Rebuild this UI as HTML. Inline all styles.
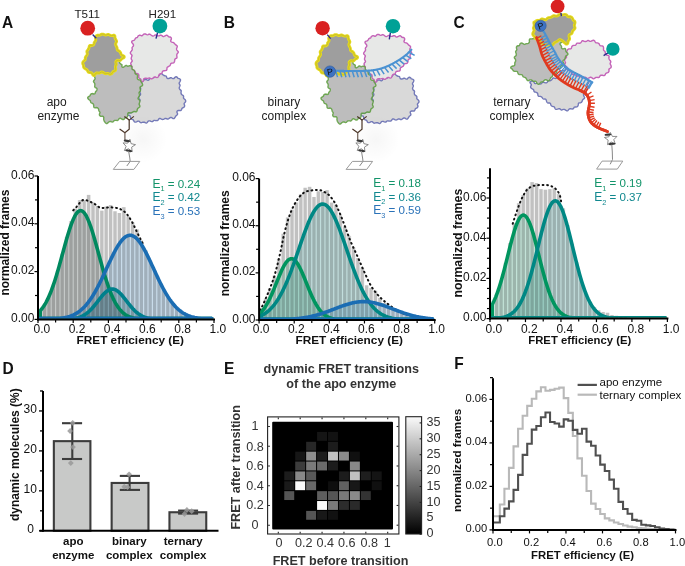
<!DOCTYPE html>
<html><head><meta charset="utf-8"><style>
html,body{margin:0;padding:0;background:#fff;}
svg{display:block;font-family:"Liberation Sans", sans-serif;}
</style></head><body>
<svg width="685" height="566" viewBox="0 0 685 566" style="isolation:isolate">
<rect width="685" height="566" fill="#fff"/>
<defs><clipPath id="Aclip"><rect x="39" y="171" width="176" height="147.4"/></clipPath></defs>
<rect x="38" y="310.7" width="4.4" height="8.7" fill="#eeeeee"/>
<rect x="38.6" y="310.7" width="3.2" height="8.7" fill="#c1c1c1"/>
<rect x="42.4" y="304.72" width="4.4" height="14.68" fill="#eeeeee"/>
<rect x="43" y="304.72" width="3.2" height="14.68" fill="#c1c1c1"/>
<rect x="46.8" y="296.07" width="4.4" height="23.33" fill="#eeeeee"/>
<rect x="47.4" y="296.07" width="3.2" height="23.33" fill="#c1c1c1"/>
<rect x="51.2" y="284.47" width="4.4" height="34.93" fill="#eeeeee"/>
<rect x="51.8" y="284.47" width="3.2" height="34.93" fill="#c1c1c1"/>
<rect x="55.6" y="270.09" width="4.4" height="49.31" fill="#eeeeee"/>
<rect x="56.2" y="270.09" width="3.2" height="49.31" fill="#c1c1c1"/>
<rect x="60" y="253.73" width="4.4" height="65.67" fill="#eeeeee"/>
<rect x="60.6" y="253.73" width="3.2" height="65.67" fill="#c1c1c1"/>
<rect x="64.4" y="236.83" width="4.4" height="82.57" fill="#eeeeee"/>
<rect x="65" y="236.83" width="3.2" height="82.57" fill="#c1c1c1"/>
<rect x="68.8" y="221.17" width="4.4" height="98.23" fill="#eeeeee"/>
<rect x="69.4" y="221.17" width="3.2" height="98.23" fill="#c1c1c1"/>
<rect x="73.2" y="208.53" width="4.4" height="110.87" fill="#eeeeee"/>
<rect x="73.8" y="208.53" width="3.2" height="110.87" fill="#c1c1c1"/>
<rect x="77.6" y="200.09" width="4.4" height="119.31" fill="#eeeeee"/>
<rect x="78.2" y="200.09" width="3.2" height="119.31" fill="#c1c1c1"/>
<rect x="82" y="200.2" width="4.4" height="119.2" fill="#eeeeee"/>
<rect x="82.6" y="200.2" width="3.2" height="119.2" fill="#c1c1c1"/>
<rect x="86.4" y="194.9" width="4.4" height="124.5" fill="#eeeeee"/>
<rect x="87" y="194.9" width="3.2" height="124.5" fill="#c1c1c1"/>
<rect x="90.8" y="202.5" width="4.4" height="116.9" fill="#eeeeee"/>
<rect x="91.4" y="202.5" width="3.2" height="116.9" fill="#c1c1c1"/>
<rect x="95.2" y="206" width="4.4" height="113.4" fill="#eeeeee"/>
<rect x="95.8" y="206" width="3.2" height="113.4" fill="#c1c1c1"/>
<rect x="99.6" y="210.7" width="4.4" height="108.7" fill="#eeeeee"/>
<rect x="100.2" y="210.7" width="3.2" height="108.7" fill="#c1c1c1"/>
<rect x="104" y="206.6" width="4.4" height="112.8" fill="#eeeeee"/>
<rect x="104.6" y="206.6" width="3.2" height="112.8" fill="#c1c1c1"/>
<rect x="108.4" y="205.1" width="4.4" height="114.3" fill="#eeeeee"/>
<rect x="109" y="205.1" width="3.2" height="114.3" fill="#c1c1c1"/>
<rect x="112.8" y="211.3" width="4.4" height="108.1" fill="#eeeeee"/>
<rect x="113.4" y="211.3" width="3.2" height="108.1" fill="#c1c1c1"/>
<rect x="117.2" y="213" width="4.4" height="106.4" fill="#eeeeee"/>
<rect x="117.8" y="213" width="3.2" height="106.4" fill="#c1c1c1"/>
<rect x="121.6" y="207.2" width="4.4" height="112.2" fill="#eeeeee"/>
<rect x="122.2" y="207.2" width="3.2" height="112.2" fill="#c1c1c1"/>
<rect x="126" y="216.5" width="4.4" height="102.9" fill="#eeeeee"/>
<rect x="126.6" y="216.5" width="3.2" height="102.9" fill="#c1c1c1"/>
<rect x="130.4" y="222.4" width="4.4" height="97" fill="#eeeeee"/>
<rect x="131" y="222.4" width="3.2" height="97" fill="#c1c1c1"/>
<rect x="134.8" y="229.4" width="4.4" height="90" fill="#eeeeee"/>
<rect x="135.4" y="229.4" width="3.2" height="90" fill="#c1c1c1"/>
<rect x="139.2" y="240.49" width="4.4" height="78.91" fill="#eeeeee"/>
<rect x="139.8" y="240.49" width="3.2" height="78.91" fill="#c1c1c1"/>
<rect x="143.6" y="250.26" width="4.4" height="69.14" fill="#eeeeee"/>
<rect x="144.2" y="250.26" width="3.2" height="69.14" fill="#c1c1c1"/>
<rect x="148" y="260.38" width="4.4" height="59.02" fill="#eeeeee"/>
<rect x="148.6" y="260.38" width="3.2" height="59.02" fill="#c1c1c1"/>
<rect x="152.4" y="270.47" width="4.4" height="48.93" fill="#eeeeee"/>
<rect x="153" y="270.47" width="3.2" height="48.93" fill="#c1c1c1"/>
<rect x="156.8" y="280.1" width="4.4" height="39.3" fill="#eeeeee"/>
<rect x="157.4" y="280.1" width="3.2" height="39.3" fill="#c1c1c1"/>
<rect x="161.2" y="288.86" width="4.4" height="30.54" fill="#eeeeee"/>
<rect x="161.8" y="288.86" width="3.2" height="30.54" fill="#c1c1c1"/>
<rect x="165.6" y="296.47" width="4.4" height="22.93" fill="#eeeeee"/>
<rect x="166.2" y="296.47" width="3.2" height="22.93" fill="#c1c1c1"/>
<rect x="170" y="302.77" width="4.4" height="16.63" fill="#eeeeee"/>
<rect x="170.6" y="302.77" width="3.2" height="16.63" fill="#c1c1c1"/>
<rect x="174.4" y="307.75" width="4.4" height="11.65" fill="#eeeeee"/>
<rect x="175" y="307.75" width="3.2" height="11.65" fill="#c1c1c1"/>
<rect x="178.8" y="311.53" width="4.4" height="7.87" fill="#eeeeee"/>
<rect x="179.4" y="311.53" width="3.2" height="7.87" fill="#c1c1c1"/>
<rect x="183.2" y="314.26" width="4.4" height="5.14" fill="#eeeeee"/>
<rect x="183.8" y="314.26" width="3.2" height="5.14" fill="#c1c1c1"/>
<rect x="187.6" y="316.16" width="4.4" height="3.24" fill="#eeeeee"/>
<rect x="188.2" y="316.16" width="3.2" height="3.24" fill="#c1c1c1"/>
<rect x="192" y="317.43" width="4.4" height="1.97" fill="#eeeeee"/>
<rect x="192.6" y="317.43" width="3.2" height="1.97" fill="#c1c1c1"/>
<rect x="196.4" y="318.25" width="4.4" height="1.15" fill="#eeeeee"/>
<rect x="197" y="318.25" width="3.2" height="1.15" fill="#c1c1c1"/>
<rect x="200.8" y="318.75" width="4.4" height="0.65" fill="#eeeeee"/>
<rect x="201.4" y="318.75" width="3.2" height="0.65" fill="#c1c1c1"/>
<rect x="205.2" y="319.04" width="4.4" height="0.36" fill="#eeeeee"/>
<rect x="205.8" y="319.04" width="3.2" height="0.36" fill="#c1c1c1"/>
<rect x="209.6" y="319.21" width="4.4" height="0.19" fill="#eeeeee"/>
<rect x="210.2" y="319.21" width="3.2" height="0.19" fill="#c1c1c1"/>
<path d="M38,319.4 L38,312.88 L38.88,312.09 L39.76,311.21 L40.64,310.26 L41.52,309.22 L42.4,308.09 L43.28,306.86 L44.16,305.53 L45.04,304.1 L45.92,302.56 L46.8,300.91 L47.68,299.14 L48.56,297.27 L49.44,295.27 L50.32,293.16 L51.2,290.93 L52.08,288.59 L52.96,286.14 L53.84,283.57 L54.72,280.91 L55.6,278.14 L56.48,275.28 L57.36,272.33 L58.24,269.31 L59.12,266.22 L60,263.08 L60.88,259.89 L61.76,256.67 L62.64,253.44 L63.52,250.21 L64.4,247 L65.28,243.82 L66.16,240.68 L67.04,237.62 L67.92,234.64 L68.8,231.76 L69.68,229 L70.56,226.38 L71.44,223.91 L72.32,221.61 L73.2,219.49 L74.08,217.58 L74.96,215.88 L75.84,214.4 L76.72,213.16 L77.6,212.15 L78.48,211.4 L79.36,210.91 L80.24,210.68 L81.12,210.7 L82,210.99 L82.88,211.53 L83.76,212.34 L84.64,213.38 L85.52,214.68 L86.4,216.2 L87.28,217.95 L88.16,219.9 L89.04,222.05 L89.92,224.39 L90.8,226.89 L91.68,229.54 L92.56,232.32 L93.44,235.22 L94.32,238.22 L95.2,241.3 L96.08,244.45 L96.96,247.64 L97.84,250.86 L98.72,254.09 L99.6,257.32 L100.48,260.53 L101.36,263.71 L102.24,266.84 L103.12,269.92 L104,272.93 L104.88,275.86 L105.76,278.7 L106.64,281.45 L107.52,284.1 L108.4,286.64 L109.28,289.07 L110.16,291.39 L111.04,293.59 L111.92,295.68 L112.8,297.65 L113.68,299.51 L114.56,301.25 L115.44,302.87 L116.32,304.39 L117.2,305.8 L118.08,307.11 L118.96,308.32 L119.84,309.43 L120.72,310.46 L121.6,311.4 L122.48,312.25 L123.36,313.03 L124.24,313.74 L125.12,314.38 L126,314.96 L126.88,315.48 L127.76,315.95 L128.64,316.37 L129.52,316.75 L130.4,317.08 L131.28,317.38 L132.16,317.64 L133.04,317.88 L133.92,318.08 L134.8,318.26 L135.68,318.42 L136.56,318.56 L137.44,318.68 L138.32,318.78 L139.2,318.87 L140.08,318.95 L140.96,319.02 L141.84,319.08 L142.72,319.13 L143.6,319.17 L144.48,319.21 L145.36,319.24 L146.24,319.26 L147.12,319.29 L148,319.31 L148.88,319.32 L149.76,319.34 L150.64,319.35 L151.52,319.36 L152.4,319.36 L153.28,319.37 L154.16,319.38 L155.04,319.38 L155.92,319.38 L156.8,319.39 L157.68,319.39 L158.56,319.39 L159.44,319.39 L160.32,319.39 L161.2,319.4 L162.08,319.4 L162.96,319.4 L163.84,319.4 L164.72,319.4 L165.6,319.4 L166.48,319.4 L167.36,319.4 L168.24,319.4 L169.12,319.4 L170,319.4 L170.88,319.4 L171.76,319.4 L172.64,319.4 L173.52,319.4 L174.4,319.4 L175.28,319.4 L176.16,319.4 L177.04,319.4 L177.92,319.4 L178.8,319.4 L179.68,319.4 L180.56,319.4 L181.44,319.4 L182.32,319.4 L183.2,319.4 L184.08,319.4 L184.96,319.4 L185.84,319.4 L186.72,319.4 L187.6,319.4 L188.48,319.4 L189.36,319.4 L190.24,319.4 L191.12,319.4 L192,319.4 L192.88,319.4 L193.76,319.4 L194.64,319.4 L195.52,319.4 L196.4,319.4 L197.28,319.4 L198.16,319.4 L199.04,319.4 L199.92,319.4 L200.8,319.4 L201.68,319.4 L202.56,319.4 L203.44,319.4 L204.32,319.4 L205.2,319.4 L206.08,319.4 L206.96,319.4 L207.84,319.4 L208.72,319.4 L209.6,319.4 L210.48,319.4 L211.36,319.4 L212.24,319.4 L213.12,319.4 L214,319.4 L214,319.4 Z" fill="#cfd3d2" style="mix-blend-mode:multiply"/>
<path d="M38,319.4 L38,319.4 L38.88,319.4 L39.76,319.4 L40.64,319.4 L41.52,319.4 L42.4,319.4 L43.28,319.4 L44.16,319.4 L45.04,319.4 L45.92,319.4 L46.8,319.4 L47.68,319.4 L48.56,319.4 L49.44,319.4 L50.32,319.4 L51.2,319.4 L52.08,319.4 L52.96,319.39 L53.84,319.39 L54.72,319.39 L55.6,319.39 L56.48,319.39 L57.36,319.38 L58.24,319.38 L59.12,319.37 L60,319.36 L60.88,319.35 L61.76,319.34 L62.64,319.33 L63.52,319.31 L64.4,319.29 L65.28,319.27 L66.16,319.24 L67.04,319.2 L67.92,319.16 L68.8,319.11 L69.68,319.05 L70.56,318.98 L71.44,318.9 L72.32,318.8 L73.2,318.69 L74.08,318.56 L74.96,318.41 L75.84,318.24 L76.72,318.05 L77.6,317.82 L78.48,317.57 L79.36,317.29 L80.24,316.97 L81.12,316.61 L82,316.22 L82.88,315.78 L83.76,315.29 L84.64,314.76 L85.52,314.18 L86.4,313.55 L87.28,312.87 L88.16,312.14 L89.04,311.36 L89.92,310.52 L90.8,309.64 L91.68,308.71 L92.56,307.73 L93.44,306.72 L94.32,305.66 L95.2,304.58 L96.08,303.48 L96.96,302.35 L97.84,301.22 L98.72,300.08 L99.6,298.95 L100.48,297.84 L101.36,296.75 L102.24,295.7 L103.12,294.7 L104,293.75 L104.88,292.86 L105.76,292.05 L106.64,291.33 L107.52,290.69 L108.4,290.15 L109.28,289.71 L110.16,289.38 L111.04,289.16 L111.92,289.06 L112.8,289.07 L113.68,289.19 L114.56,289.44 L115.44,289.79 L116.32,290.25 L117.2,290.81 L118.08,291.46 L118.96,292.21 L119.84,293.04 L120.72,293.93 L121.6,294.9 L122.48,295.91 L123.36,296.97 L124.24,298.06 L125.12,299.18 L126,300.31 L126.88,301.44 L127.76,302.58 L128.64,303.7 L129.52,304.8 L130.4,305.88 L131.28,306.92 L132.16,307.93 L133.04,308.9 L133.92,309.82 L134.8,310.69 L135.68,311.52 L136.56,312.29 L137.44,313.01 L138.32,313.68 L139.2,314.3 L140.08,314.87 L140.96,315.39 L141.84,315.87 L142.72,316.3 L143.6,316.69 L144.48,317.04 L145.36,317.35 L146.24,317.62 L147.12,317.87 L148,318.09 L148.88,318.28 L149.76,318.44 L150.64,318.59 L151.52,318.71 L152.4,318.82 L153.28,318.92 L154.16,318.99 L155.04,319.06 L155.92,319.12 L156.8,319.17 L157.68,319.21 L158.56,319.24 L159.44,319.27 L160.32,319.3 L161.2,319.32 L162.08,319.33 L162.96,319.35 L163.84,319.36 L164.72,319.37 L165.6,319.37 L166.48,319.38 L167.36,319.38 L168.24,319.39 L169.12,319.39 L170,319.39 L170.88,319.39 L171.76,319.39 L172.64,319.4 L173.52,319.4 L174.4,319.4 L175.28,319.4 L176.16,319.4 L177.04,319.4 L177.92,319.4 L178.8,319.4 L179.68,319.4 L180.56,319.4 L181.44,319.4 L182.32,319.4 L183.2,319.4 L184.08,319.4 L184.96,319.4 L185.84,319.4 L186.72,319.4 L187.6,319.4 L188.48,319.4 L189.36,319.4 L190.24,319.4 L191.12,319.4 L192,319.4 L192.88,319.4 L193.76,319.4 L194.64,319.4 L195.52,319.4 L196.4,319.4 L197.28,319.4 L198.16,319.4 L199.04,319.4 L199.92,319.4 L200.8,319.4 L201.68,319.4 L202.56,319.4 L203.44,319.4 L204.32,319.4 L205.2,319.4 L206.08,319.4 L206.96,319.4 L207.84,319.4 L208.72,319.4 L209.6,319.4 L210.48,319.4 L211.36,319.4 L212.24,319.4 L213.12,319.4 L214,319.4 L214,319.4 Z" fill="#c3dde0" style="mix-blend-mode:multiply"/>
<path d="M38,319.4 L38,319.36 L38.88,319.36 L39.76,319.35 L40.64,319.34 L41.52,319.33 L42.4,319.32 L43.28,319.31 L44.16,319.3 L45.04,319.28 L45.92,319.27 L46.8,319.25 L47.68,319.23 L48.56,319.2 L49.44,319.18 L50.32,319.15 L51.2,319.11 L52.08,319.07 L52.96,319.03 L53.84,318.98 L54.72,318.93 L55.6,318.86 L56.48,318.8 L57.36,318.72 L58.24,318.64 L59.12,318.55 L60,318.44 L60.88,318.33 L61.76,318.21 L62.64,318.07 L63.52,317.92 L64.4,317.75 L65.28,317.57 L66.16,317.37 L67.04,317.15 L67.92,316.92 L68.8,316.66 L69.68,316.38 L70.56,316.07 L71.44,315.74 L72.32,315.38 L73.2,314.99 L74.08,314.57 L74.96,314.12 L75.84,313.64 L76.72,313.12 L77.6,312.56 L78.48,311.97 L79.36,311.33 L80.24,310.65 L81.12,309.93 L82,309.17 L82.88,308.35 L83.76,307.49 L84.64,306.58 L85.52,305.62 L86.4,304.61 L87.28,303.55 L88.16,302.43 L89.04,301.27 L89.92,300.04 L90.8,298.77 L91.68,297.44 L92.56,296.07 L93.44,294.63 L94.32,293.15 L95.2,291.62 L96.08,290.05 L96.96,288.42 L97.84,286.75 L98.72,285.04 L99.6,283.3 L100.48,281.51 L101.36,279.7 L102.24,277.86 L103.12,275.99 L104,274.1 L104.88,272.2 L105.76,270.29 L106.64,268.37 L107.52,266.46 L108.4,264.54 L109.28,262.64 L110.16,260.76 L111.04,258.9 L111.92,257.07 L112.8,255.27 L113.68,253.52 L114.56,251.81 L115.44,250.16 L116.32,248.56 L117.2,247.04 L118.08,245.58 L118.96,244.2 L119.84,242.9 L120.72,241.69 L121.6,240.58 L122.48,239.56 L123.36,238.64 L124.24,237.82 L125.12,237.12 L126,236.52 L126.88,236.04 L127.76,235.67 L128.64,235.42 L129.52,235.29 L130.4,235.28 L131.28,235.39 L132.16,235.61 L133.04,235.96 L133.92,236.42 L134.8,236.99 L135.68,237.67 L136.56,238.47 L137.44,239.36 L138.32,240.36 L139.2,241.46 L140.08,242.65 L140.96,243.93 L141.84,245.3 L142.72,246.74 L143.6,248.25 L144.48,249.83 L145.36,251.48 L146.24,253.17 L147.12,254.92 L148,256.71 L148.88,258.53 L149.76,260.39 L150.64,262.27 L151.52,264.16 L152.4,266.07 L153.28,267.99 L154.16,269.91 L155.04,271.82 L155.92,273.73 L156.8,275.62 L157.68,277.49 L158.56,279.33 L159.44,281.15 L160.32,282.94 L161.2,284.7 L162.08,286.42 L162.96,288.09 L163.84,289.72 L164.72,291.31 L165.6,292.85 L166.48,294.34 L167.36,295.78 L168.24,297.17 L169.12,298.51 L170,299.79 L170.88,301.03 L171.76,302.2 L172.64,303.33 L173.52,304.4 L174.4,305.42 L175.28,306.39 L176.16,307.31 L177.04,308.18 L177.92,309.01 L178.8,309.78 L179.68,310.51 L180.56,311.2 L181.44,311.84 L182.32,312.45 L183.2,313.01 L184.08,313.54 L184.96,314.03 L185.84,314.49 L186.72,314.91 L187.6,315.3 L188.48,315.67 L189.36,316.01 L190.24,316.32 L191.12,316.6 L192,316.87 L192.88,317.11 L193.76,317.33 L194.64,317.53 L195.52,317.72 L196.4,317.89 L197.28,318.04 L198.16,318.18 L199.04,318.31 L199.92,318.42 L200.8,318.53 L201.68,318.62 L202.56,318.71 L203.44,318.78 L204.32,318.85 L205.2,318.91 L206.08,318.97 L206.96,319.02 L207.84,319.06 L208.72,319.1 L209.6,319.14 L210.48,319.17 L211.36,319.2 L212.24,319.22 L213.12,319.25 L214,319.26 L214,319.4 Z" fill="#d4e8f8" style="mix-blend-mode:multiply"/>
<polyline points="73.2,210.33 73.79,209.7 74.37,209.08 74.96,208.46 75.55,207.85 76.13,207.25 76.72,206.62 77.31,205.93 77.89,205.21 78.48,204.46 79.07,203.7 79.65,202.97 80.24,202.27 80.83,201.63 81.41,201.06 82,200.58 82.59,200.21 83.17,199.98 83.76,199.9 84.35,199.92 84.93,199.98 85.52,200.08 86.11,200.21 86.69,200.38 87.28,200.56 87.87,200.77 88.45,201 89.04,201.24 89.63,201.49 90.21,201.75 90.8,202.01 91.39,202.27 91.97,202.52 92.56,202.77 93.15,203.04 93.73,203.37 94.32,203.74 94.91,204.14 95.49,204.57 96.08,205.01 96.67,205.46 97.25,205.9 97.84,206.32 98.43,206.72 99.01,207.09 99.6,207.41 100.19,207.67 100.77,207.87 101.36,207.99 101.95,208.03 102.53,208.01 103.12,207.98 103.71,207.93 104.29,207.87 104.88,207.8 105.47,207.73 106.05,207.65 106.64,207.57 107.23,207.5 107.81,207.44 108.4,207.38 108.99,207.34 109.57,207.31 110.16,207.31 110.75,207.32 111.33,207.34 111.92,207.38 112.51,207.42 113.09,207.48 113.68,207.54 114.27,207.61 114.85,207.69 115.44,207.77 116.03,207.86 116.61,207.96 117.2,208.06 117.79,208.19 118.37,208.35 118.96,208.55 119.55,208.78 120.13,209.04 120.72,209.33 121.31,209.64 121.89,209.97 122.48,210.33 123.07,210.7 123.65,211.09 124.24,211.5 124.83,211.97 125.41,212.51 126,213.12 126.59,213.8 127.17,214.52 127.76,215.3 128.35,216.11 128.93,216.96 129.52,217.83 130.11,218.72 130.69,219.61 131.28,220.53 131.87,221.53 132.45,222.6 133.04,223.74 133.63,224.92 134.21,226.14 134.8,227.39 135.39,228.65 135.97,229.92 136.56,231.17 137.15,232.41 137.73,233.61 138.32,234.77 138.91,235.93 139.49,237.08 140.08,238.23 140.67,239.38 141.25,240.53 141.84,241.68 142.43,242.82 143.01,243.97 143.6,245.12" fill="none" stroke="#111" stroke-width="2.0" stroke-dasharray="0.8 3.7" stroke-linecap="round"/>
<polygon points="40.2,318.6 40.2,310.75 41.06,309.78 41.92,308.72 42.77,307.58 43.63,306.34 44.49,305 45.35,303.57 46.21,302.03 47.06,300.39 47.92,298.64 48.78,296.78 49.64,294.81 50.5,292.72 51.35,290.53 52.21,288.23 53.07,285.82 53.93,283.31 54.79,280.7 55.64,278 56.5,275.2 57.36,272.33 58.22,269.38 59.08,266.37 59.93,263.31 60.79,260.21 61.65,257.08 62.51,253.93 63.37,250.78 64.22,247.64 65.08,244.53 65.94,241.46 66.8,238.45 67.66,235.52 68.51,232.68 69.37,229.95 70.23,227.34 71.09,224.87 71.95,222.56 72.8,220.42 73.66,218.46 74.52,216.7 75.38,215.15 76.24,213.81 77.09,212.7 77.95,211.82 78.81,211.19 79.67,210.8 80.53,210.66 81.38,210.76 82.24,211.11 83.1,211.71 83.96,212.55 84.82,213.62 85.67,214.93 86.53,216.45 87.39,218.18 88.25,220.11 89.11,222.22 89.96,224.51 90.82,226.95 91.68,229.54 92.54,232.25 93.4,235.08 94.25,238 95.11,240.99 95.97,244.05 96.83,247.16 97.69,250.29 98.54,253.44 99.4,256.59 100.26,259.73 101.12,262.84 101.98,265.91 102.83,268.92 103.69,271.88 104.55,274.77 105.41,277.57 106.27,280.29 107.12,282.92 107.98,285.44 108.84,287.87 109.7,290.19 110.56,292.39 111.41,294.49 112.27,296.48 113.13,298.36 113.99,300.13 114.85,301.79 115.7,303.34 116.56,304.79 117.42,306.14 118.28,307.39 119.14,308.55 119.99,309.62 120.85,310.6 121.71,311.51 122.57,312.33 123.43,313.09 124.28,313.77 125.14,314.4 126,314.96 126.86,315.47 127.72,315.93 128.57,316.34 129.43,316.71 130.29,317.04 131.15,317.34 132.01,317.6 132.86,317.83 133.72,318.04 134.58,318.22 135.44,318.38 136.3,318.52 137.15,318.6 138.01,318.6 138.87,318.6 139.73,318.6 140.59,318.6 141.44,318.6 142.3,318.6 143.16,318.6 144.02,318.6 144.88,318.6 145.73,318.6 146.59,318.6 147.45,318.6 148.31,318.6 149.17,318.6 150.02,318.6 150.88,318.6 151.74,318.6 152.6,318.6 153.46,318.6 154.31,318.6 155.17,318.6 156.03,318.6 156.89,318.6 157.75,318.6 158.6,318.6 159.46,318.6 160.32,318.6 161.18,318.6 162.04,318.6 162.89,318.6 163.75,318.6 164.61,318.6 165.47,318.6 166.33,318.6 167.18,318.6 168.04,318.6 168.9,318.6 169.76,318.6 170.62,318.6 171.47,318.6 172.33,318.6 173.19,318.6 174.05,318.6 174.91,318.6 175.76,318.6 176.62,318.6 177.48,318.6 178.34,318.6 179.2,318.6 180.05,318.6 180.91,318.6 181.77,318.6 182.63,318.6 183.49,318.6 184.34,318.6 185.2,318.6 186.06,318.6 186.92,318.6 187.78,318.6 188.63,318.6 189.49,318.6 190.35,318.6 191.21,318.6 192.07,318.6 192.92,318.6 193.78,318.6 194.64,318.6 195.5,318.6 196.36,318.6 197.21,318.6 198.07,318.6 198.93,318.6 199.79,318.6 200.65,318.6 201.5,318.6 202.36,318.6 203.22,318.6 204.08,318.6 204.94,318.6 205.79,318.6 206.65,318.6 207.51,318.6 208.37,318.6 209.23,318.6 210.08,318.6 210.94,318.6 211.8,318.6 211.8,318.6" fill="none" stroke="#00895f" stroke-width="3.6" stroke-linejoin="round" clip-path="url(#Aclip)"/>
<polygon points="40.2,318.6 40.2,318.6 41.06,318.6 41.92,318.6 42.77,318.6 43.63,318.6 44.49,318.6 45.35,318.6 46.21,318.6 47.06,318.6 47.92,318.6 48.78,318.6 49.64,318.6 50.5,318.6 51.35,318.6 52.21,318.6 53.07,318.6 53.93,318.6 54.79,318.6 55.64,318.6 56.5,318.6 57.36,318.6 58.22,318.6 59.08,318.6 59.93,318.6 60.79,318.6 61.65,318.6 62.51,318.6 63.37,318.6 64.22,318.6 65.08,318.6 65.94,318.6 66.8,318.6 67.66,318.6 68.51,318.6 69.37,318.6 70.23,318.6 71.09,318.6 71.95,318.6 72.8,318.6 73.66,318.6 74.52,318.49 75.38,318.33 76.24,318.16 77.09,317.95 77.95,317.73 78.81,317.47 79.67,317.18 80.53,316.86 81.38,316.5 82.24,316.1 83.1,315.66 83.96,315.18 84.82,314.65 85.67,314.08 86.53,313.45 87.39,312.78 88.25,312.06 89.11,311.29 89.96,310.48 90.82,309.61 91.68,308.71 92.54,307.76 93.4,306.77 94.25,305.74 95.11,304.69 95.97,303.61 96.83,302.52 97.69,301.42 98.54,300.31 99.4,299.21 100.26,298.12 101.12,297.05 101.98,296.02 102.83,295.02 103.69,294.08 104.55,293.19 105.41,292.37 106.27,291.62 107.12,290.96 107.98,290.39 108.84,289.91 109.7,289.54 110.56,289.27 111.41,289.1 112.27,289.05 113.13,289.1 113.99,289.27 114.85,289.54 115.7,289.91 116.56,290.39 117.42,290.96 118.28,291.62 119.14,292.37 119.99,293.19 120.85,294.08 121.71,295.02 122.57,296.02 123.43,297.05 124.28,298.12 125.14,299.21 126,300.31 126.86,301.42 127.72,302.52 128.57,303.61 129.43,304.69 130.29,305.74 131.15,306.77 132.01,307.76 132.86,308.71 133.72,309.61 134.58,310.48 135.44,311.29 136.3,312.06 137.15,312.78 138.01,313.45 138.87,314.08 139.73,314.65 140.59,315.18 141.44,315.66 142.3,316.1 143.16,316.5 144.02,316.86 144.88,317.18 145.73,317.47 146.59,317.73 147.45,317.95 148.31,318.16 149.17,318.33 150.02,318.49 150.88,318.6 151.74,318.6 152.6,318.6 153.46,318.6 154.31,318.6 155.17,318.6 156.03,318.6 156.89,318.6 157.75,318.6 158.6,318.6 159.46,318.6 160.32,318.6 161.18,318.6 162.04,318.6 162.89,318.6 163.75,318.6 164.61,318.6 165.47,318.6 166.33,318.6 167.18,318.6 168.04,318.6 168.9,318.6 169.76,318.6 170.62,318.6 171.47,318.6 172.33,318.6 173.19,318.6 174.05,318.6 174.91,318.6 175.76,318.6 176.62,318.6 177.48,318.6 178.34,318.6 179.2,318.6 180.05,318.6 180.91,318.6 181.77,318.6 182.63,318.6 183.49,318.6 184.34,318.6 185.2,318.6 186.06,318.6 186.92,318.6 187.78,318.6 188.63,318.6 189.49,318.6 190.35,318.6 191.21,318.6 192.07,318.6 192.92,318.6 193.78,318.6 194.64,318.6 195.5,318.6 196.36,318.6 197.21,318.6 198.07,318.6 198.93,318.6 199.79,318.6 200.65,318.6 201.5,318.6 202.36,318.6 203.22,318.6 204.08,318.6 204.94,318.6 205.79,318.6 206.65,318.6 207.51,318.6 208.37,318.6 209.23,318.6 210.08,318.6 210.94,318.6 211.8,318.6 211.8,318.6" fill="none" stroke="#00808c" stroke-width="3.6" stroke-linejoin="round" clip-path="url(#Aclip)"/>
<polygon points="40.2,318.6 40.2,318.6 41.06,318.6 41.92,318.6 42.77,318.6 43.63,318.6 44.49,318.6 45.35,318.6 46.21,318.6 47.06,318.6 47.92,318.6 48.78,318.6 49.64,318.6 50.5,318.6 51.35,318.6 52.21,318.6 53.07,318.6 53.93,318.6 54.79,318.6 55.64,318.6 56.5,318.6 57.36,318.6 58.22,318.6 59.08,318.55 59.93,318.45 60.79,318.34 61.65,318.22 62.51,318.09 63.37,317.95 64.22,317.79 65.08,317.61 65.94,317.42 66.8,317.21 67.66,316.99 68.51,316.74 69.37,316.48 70.23,316.19 71.09,315.87 71.95,315.54 72.8,315.17 73.66,314.78 74.52,314.35 75.38,313.9 76.24,313.41 77.09,312.89 77.95,312.33 78.81,311.73 79.67,311.1 80.53,310.42 81.38,309.71 82.24,308.95 83.1,308.14 83.96,307.29 84.82,306.39 85.67,305.45 86.53,304.46 87.39,303.41 88.25,302.32 89.11,301.18 89.96,299.98 90.82,298.74 91.68,297.44 92.54,296.1 93.4,294.71 94.25,293.27 95.11,291.78 95.97,290.25 96.83,288.67 97.69,287.05 98.54,285.39 99.4,283.69 100.26,281.96 101.12,280.2 101.98,278.41 102.83,276.6 103.69,274.77 104.55,272.92 105.41,271.06 106.27,269.19 107.12,267.32 107.98,265.45 108.84,263.59 109.7,261.75 110.56,259.92 111.41,258.12 112.27,256.35 113.13,254.61 113.99,252.91 114.85,251.27 115.7,249.67 116.56,248.14 117.42,246.66 118.28,245.26 119.14,243.93 119.99,242.68 120.85,241.52 121.71,240.44 122.57,239.46 123.43,238.57 124.28,237.78 125.14,237.1 126,236.52 126.86,236.05 127.72,235.69 128.57,235.44 129.43,235.3 130.29,235.28 131.15,235.36 132.01,235.57 132.86,235.88 133.72,236.3 134.58,236.83 135.44,237.47 136.3,238.22 137.15,239.06 138.01,240 138.87,241.04 139.73,242.17 140.59,243.38 141.44,244.67 142.3,246.04 143.16,247.49 144.02,249 144.88,250.57 145.73,252.19 146.59,253.87 147.45,255.58 148.31,257.34 149.17,259.13 150.02,260.95 150.88,262.79 151.74,264.64 152.6,266.5 153.46,268.37 154.31,270.24 155.17,272.11 156.03,273.96 156.89,275.8 157.75,277.63 158.6,279.43 159.46,281.2 160.32,282.94 161.18,284.65 162.04,286.33 162.89,287.97 163.75,289.56 164.61,291.12 165.47,292.62 166.33,294.09 167.18,295.5 168.04,296.86 168.9,298.18 169.76,299.45 170.62,300.66 171.47,301.83 172.33,302.94 173.19,304.01 174.05,305.02 174.91,305.99 175.76,306.91 176.62,307.78 177.48,308.6 178.34,309.38 179.2,310.12 180.05,310.81 180.91,311.46 181.77,312.08 182.63,312.65 183.49,313.19 184.34,313.69 185.2,314.16 186.06,314.6 186.92,315 187.78,315.38 188.63,315.73 189.49,316.05 190.35,316.35 191.21,316.63 192.07,316.88 192.92,317.12 193.78,317.33 194.64,317.53 195.5,317.71 196.36,317.88 197.21,318.03 198.07,318.17 198.93,318.29 199.79,318.41 200.65,318.51 201.5,318.6 202.36,318.6 203.22,318.6 204.08,318.6 204.94,318.6 205.79,318.6 206.65,318.6 207.51,318.6 208.37,318.6 209.23,318.6 210.08,318.6 210.94,318.6 211.8,318.6 211.8,318.6" fill="none" stroke="#1b6db3" stroke-width="3.6" stroke-linejoin="round" clip-path="url(#Aclip)"/>
<line x1="38" y1="176" x2="38" y2="320.4" stroke="#000" stroke-width="2"/>
<line x1="37" y1="319.4" x2="215" y2="319.4" stroke="#000" stroke-width="2"/>
<line x1="34.5" y1="176" x2="38" y2="176" stroke="#000" stroke-width="1.2"/>
<line x1="35" y1="199.9" x2="38" y2="199.9" stroke="#000" stroke-width="1.2"/>
<line x1="34.5" y1="223.8" x2="38" y2="223.8" stroke="#000" stroke-width="1.2"/>
<line x1="35" y1="247.7" x2="38" y2="247.7" stroke="#000" stroke-width="1.2"/>
<line x1="34.5" y1="271.6" x2="38" y2="271.6" stroke="#000" stroke-width="1.2"/>
<line x1="35" y1="295.5" x2="38" y2="295.5" stroke="#000" stroke-width="1.2"/>
<line x1="34.5" y1="319.4" x2="38" y2="319.4" stroke="#000" stroke-width="1.2"/>
<line x1="38" y1="319.4" x2="38" y2="322.9" stroke="#000" stroke-width="1.2"/>
<line x1="55.6" y1="319.4" x2="55.6" y2="322.4" stroke="#000" stroke-width="1.2"/>
<line x1="73.2" y1="319.4" x2="73.2" y2="322.9" stroke="#000" stroke-width="1.2"/>
<line x1="90.8" y1="319.4" x2="90.8" y2="322.4" stroke="#000" stroke-width="1.2"/>
<line x1="108.4" y1="319.4" x2="108.4" y2="322.9" stroke="#000" stroke-width="1.2"/>
<line x1="126" y1="319.4" x2="126" y2="322.4" stroke="#000" stroke-width="1.2"/>
<line x1="143.6" y1="319.4" x2="143.6" y2="322.9" stroke="#000" stroke-width="1.2"/>
<line x1="161.2" y1="319.4" x2="161.2" y2="322.4" stroke="#000" stroke-width="1.2"/>
<line x1="178.8" y1="319.4" x2="178.8" y2="322.9" stroke="#000" stroke-width="1.2"/>
<line x1="196.4" y1="319.4" x2="196.4" y2="322.4" stroke="#000" stroke-width="1.2"/>
<line x1="214" y1="319.4" x2="214" y2="322.9" stroke="#000" stroke-width="1.2"/>
<text x="34.4" y="178.5" font-size="12" font-weight="normal" text-anchor="end" fill="#111" >0.06</text>
<text x="34.4" y="226.3" font-size="12" font-weight="normal" text-anchor="end" fill="#111" >0.04</text>
<text x="34.4" y="274.1" font-size="12" font-weight="normal" text-anchor="end" fill="#111" >0.02</text>
<text x="34.4" y="321.9" font-size="12" font-weight="normal" text-anchor="end" fill="#111" >0.00</text>
<text x="41.8" y="332.8" font-size="12" font-weight="normal" text-anchor="middle" fill="#111" >0.0</text>
<text x="77" y="332.8" font-size="12" font-weight="normal" text-anchor="middle" fill="#111" >0.2</text>
<text x="112.2" y="332.8" font-size="12" font-weight="normal" text-anchor="middle" fill="#111" >0.4</text>
<text x="147.4" y="332.8" font-size="12" font-weight="normal" text-anchor="middle" fill="#111" >0.6</text>
<text x="182.6" y="332.8" font-size="12" font-weight="normal" text-anchor="middle" fill="#111" >0.8</text>
<text x="217.8" y="332.8" font-size="12" font-weight="normal" text-anchor="middle" fill="#111" >1.0</text>
<text transform="translate(8.8,242.6) rotate(-90)" font-size="12" font-weight="bold" text-anchor="middle" fill="#111">normalized frames</text>
<text x="130.3" y="344.4" font-size="11.8" font-weight="bold" text-anchor="middle" fill="#111" >FRET efficiency (E)</text>
<text x="152.5" y="187.7" font-size="12" fill="#13946a">E<tspan font-size="7.4" dy="3.7">1</tspan><tspan dy="-3.7" dx="-0.2" font-size="11.6"> = 0.24</tspan></text>
<text x="152.5" y="201.4" font-size="12" fill="#11888f">E<tspan font-size="7.4" dy="3.7">2</tspan><tspan dy="-3.7" dx="-0.2" font-size="11.6"> = 0.42</tspan></text>
<text x="152.5" y="215.1" font-size="12" fill="#2a72b8">E<tspan font-size="7.4" dy="3.7">3</tspan><tspan dy="-3.7" dx="-0.2" font-size="11.6"> = 0.53</tspan></text>
<defs><clipPath id="Bclip"><rect x="260.1" y="173.6" width="175.6" height="145.4"/></clipPath></defs>
<rect x="259.1" y="307.98" width="4.39" height="12.02" fill="#eeeeee"/>
<rect x="259.7" y="307.98" width="3.19" height="12.02" fill="#c1c1c1"/>
<rect x="263.49" y="298.6" width="4.39" height="21.4" fill="#eeeeee"/>
<rect x="264.09" y="298.6" width="3.19" height="21.4" fill="#c1c1c1"/>
<rect x="267.88" y="287.98" width="4.39" height="32.02" fill="#eeeeee"/>
<rect x="268.48" y="287.98" width="3.19" height="32.02" fill="#c1c1c1"/>
<rect x="272.27" y="275.65" width="4.39" height="44.35" fill="#eeeeee"/>
<rect x="272.87" y="275.65" width="3.19" height="44.35" fill="#c1c1c1"/>
<rect x="276.66" y="258.74" width="4.39" height="61.26" fill="#eeeeee"/>
<rect x="277.26" y="258.74" width="3.19" height="61.26" fill="#c1c1c1"/>
<rect x="281.05" y="233.75" width="4.39" height="86.25" fill="#eeeeee"/>
<rect x="281.65" y="233.75" width="3.19" height="86.25" fill="#c1c1c1"/>
<rect x="285.44" y="217.49" width="4.39" height="102.52" fill="#eeeeee"/>
<rect x="286.04" y="217.49" width="3.19" height="102.52" fill="#c1c1c1"/>
<rect x="289.83" y="209.71" width="4.39" height="110.29" fill="#eeeeee"/>
<rect x="290.43" y="209.71" width="3.19" height="110.29" fill="#c1c1c1"/>
<rect x="294.22" y="202.64" width="4.39" height="117.36" fill="#eeeeee"/>
<rect x="294.82" y="202.64" width="3.19" height="117.36" fill="#c1c1c1"/>
<rect x="298.61" y="194.15" width="4.39" height="125.85" fill="#eeeeee"/>
<rect x="299.21" y="194.15" width="3.19" height="125.85" fill="#c1c1c1"/>
<rect x="303" y="187.79" width="4.39" height="132.21" fill="#eeeeee"/>
<rect x="303.6" y="187.79" width="3.19" height="132.21" fill="#c1c1c1"/>
<rect x="307.39" y="186.85" width="4.39" height="133.15" fill="#eeeeee"/>
<rect x="307.99" y="186.85" width="3.19" height="133.15" fill="#c1c1c1"/>
<rect x="311.78" y="196.98" width="4.39" height="123.02" fill="#eeeeee"/>
<rect x="312.38" y="196.98" width="3.19" height="123.02" fill="#c1c1c1"/>
<rect x="316.17" y="191.33" width="4.39" height="128.67" fill="#eeeeee"/>
<rect x="316.77" y="191.33" width="3.19" height="128.67" fill="#c1c1c1"/>
<rect x="320.56" y="192.03" width="4.39" height="127.97" fill="#eeeeee"/>
<rect x="321.16" y="192.03" width="3.19" height="127.97" fill="#c1c1c1"/>
<rect x="324.95" y="190.15" width="4.39" height="129.85" fill="#eeeeee"/>
<rect x="325.55" y="190.15" width="3.19" height="129.85" fill="#c1c1c1"/>
<rect x="329.34" y="202.64" width="4.39" height="117.36" fill="#eeeeee"/>
<rect x="329.94" y="202.64" width="3.19" height="117.36" fill="#c1c1c1"/>
<rect x="333.73" y="204.76" width="4.39" height="115.24" fill="#eeeeee"/>
<rect x="334.33" y="204.76" width="3.19" height="115.24" fill="#c1c1c1"/>
<rect x="338.12" y="215.36" width="4.39" height="104.64" fill="#eeeeee"/>
<rect x="338.72" y="215.36" width="3.19" height="104.64" fill="#c1c1c1"/>
<rect x="342.51" y="226.68" width="4.39" height="93.32" fill="#eeeeee"/>
<rect x="343.11" y="226.68" width="3.19" height="93.32" fill="#c1c1c1"/>
<rect x="346.9" y="235.87" width="4.39" height="84.13" fill="#eeeeee"/>
<rect x="347.5" y="235.87" width="3.19" height="84.13" fill="#c1c1c1"/>
<rect x="351.29" y="247.41" width="4.39" height="72.59" fill="#eeeeee"/>
<rect x="351.89" y="247.41" width="3.19" height="72.59" fill="#c1c1c1"/>
<rect x="355.68" y="258.02" width="4.39" height="61.98" fill="#eeeeee"/>
<rect x="356.28" y="258.02" width="3.19" height="61.98" fill="#c1c1c1"/>
<rect x="360.07" y="267.68" width="4.39" height="52.32" fill="#eeeeee"/>
<rect x="360.67" y="267.68" width="3.19" height="52.32" fill="#c1c1c1"/>
<rect x="364.46" y="285.36" width="4.39" height="34.64" fill="#eeeeee"/>
<rect x="365.06" y="285.36" width="3.19" height="34.64" fill="#c1c1c1"/>
<rect x="368.85" y="287.95" width="4.39" height="32.05" fill="#eeeeee"/>
<rect x="369.45" y="287.95" width="3.19" height="32.05" fill="#c1c1c1"/>
<rect x="373.24" y="290.78" width="4.39" height="29.22" fill="#eeeeee"/>
<rect x="373.84" y="290.78" width="3.19" height="29.22" fill="#c1c1c1"/>
<rect x="377.63" y="297.85" width="4.39" height="22.15" fill="#eeeeee"/>
<rect x="378.23" y="297.85" width="3.19" height="22.15" fill="#c1c1c1"/>
<rect x="382.02" y="303.03" width="4.39" height="16.97" fill="#eeeeee"/>
<rect x="382.62" y="303.03" width="3.19" height="16.97" fill="#c1c1c1"/>
<rect x="386.41" y="306.57" width="4.39" height="13.43" fill="#eeeeee"/>
<rect x="387.01" y="306.57" width="3.19" height="13.43" fill="#c1c1c1"/>
<rect x="390.8" y="309.39" width="4.39" height="10.61" fill="#eeeeee"/>
<rect x="391.4" y="309.39" width="3.19" height="10.61" fill="#c1c1c1"/>
<rect x="395.19" y="311.99" width="4.39" height="8.01" fill="#eeeeee"/>
<rect x="395.79" y="311.99" width="3.19" height="8.01" fill="#c1c1c1"/>
<rect x="399.58" y="313.64" width="4.39" height="6.36" fill="#eeeeee"/>
<rect x="400.18" y="313.64" width="3.19" height="6.36" fill="#c1c1c1"/>
<rect x="403.97" y="314.46" width="4.39" height="5.54" fill="#eeeeee"/>
<rect x="404.57" y="314.46" width="3.19" height="5.54" fill="#c1c1c1"/>
<rect x="408.36" y="315.77" width="4.39" height="4.23" fill="#eeeeee"/>
<rect x="408.96" y="315.77" width="3.19" height="4.23" fill="#c1c1c1"/>
<rect x="412.75" y="316.79" width="4.39" height="3.21" fill="#eeeeee"/>
<rect x="413.35" y="316.79" width="3.19" height="3.21" fill="#c1c1c1"/>
<rect x="417.14" y="317.51" width="4.39" height="2.49" fill="#eeeeee"/>
<rect x="417.74" y="317.51" width="3.19" height="2.49" fill="#c1c1c1"/>
<rect x="421.53" y="318.15" width="4.39" height="1.85" fill="#eeeeee"/>
<rect x="422.13" y="318.15" width="3.19" height="1.85" fill="#c1c1c1"/>
<rect x="425.92" y="318.67" width="4.39" height="1.33" fill="#eeeeee"/>
<rect x="426.52" y="318.67" width="3.19" height="1.33" fill="#c1c1c1"/>
<rect x="430.31" y="318.99" width="4.39" height="1.01" fill="#eeeeee"/>
<rect x="430.91" y="318.99" width="3.19" height="1.01" fill="#c1c1c1"/>
<path d="M259.1,320 L259.1,314.12 L259.98,313.33 L260.86,312.46 L261.73,311.51 L262.61,310.47 L263.49,309.35 L264.37,308.13 L265.25,306.82 L266.12,305.41 L267,303.91 L267.88,302.32 L268.76,300.63 L269.64,298.86 L270.51,297 L271.39,295.07 L272.27,293.07 L273.15,291.01 L274.03,288.9 L274.9,286.76 L275.78,284.58 L276.66,282.4 L277.54,280.22 L278.42,278.05 L279.29,275.93 L280.17,273.85 L281.05,271.84 L281.93,269.92 L282.81,268.11 L283.68,266.41 L284.56,264.85 L285.44,263.44 L286.32,262.19 L287.2,261.12 L288.07,260.24 L288.95,259.55 L289.83,259.07 L290.71,258.79 L291.59,258.73 L292.46,258.88 L293.34,259.24 L294.22,259.8 L295.1,260.57 L295.98,261.53 L296.85,262.67 L297.73,263.98 L298.61,265.46 L299.49,267.07 L300.37,268.82 L301.24,270.68 L302.12,272.64 L303,274.67 L303.88,276.77 L304.76,278.92 L305.63,281.09 L306.51,283.27 L307.39,285.45 L308.27,287.62 L309.15,289.75 L310.02,291.84 L310.9,293.88 L311.78,295.85 L312.66,297.75 L313.54,299.58 L314.41,301.31 L315.29,302.96 L316.17,304.52 L317.05,305.98 L317.93,307.35 L318.8,308.63 L319.68,309.81 L320.56,310.9 L321.44,311.9 L322.32,312.82 L323.19,313.65 L324.07,314.41 L324.95,315.09 L325.83,315.71 L326.71,316.26 L327.58,316.75 L328.46,317.19 L329.34,317.57 L330.22,317.91 L331.1,318.21 L331.97,318.47 L332.85,318.7 L333.73,318.9 L334.61,319.07 L335.49,319.22 L336.36,319.34 L337.24,319.45 L338.12,319.54 L339,319.62 L339.88,319.69 L340.75,319.74 L341.63,319.79 L342.51,319.83 L343.39,319.86 L344.27,319.88 L345.14,319.91 L346.02,319.92 L346.9,319.94 L347.78,319.95 L348.66,319.96 L349.53,319.97 L350.41,319.98 L351.29,319.98 L352.17,319.98 L353.05,319.99 L353.92,319.99 L354.8,319.99 L355.68,319.99 L356.56,320 L357.44,320 L358.31,320 L359.19,320 L360.07,320 L360.95,320 L361.83,320 L362.7,320 L363.58,320 L364.46,320 L365.34,320 L366.22,320 L367.09,320 L367.97,320 L368.85,320 L369.73,320 L370.61,320 L371.48,320 L372.36,320 L373.24,320 L374.12,320 L375,320 L375.87,320 L376.75,320 L377.63,320 L378.51,320 L379.39,320 L380.26,320 L381.14,320 L382.02,320 L382.9,320 L383.78,320 L384.65,320 L385.53,320 L386.41,320 L387.29,320 L388.17,320 L389.04,320 L389.92,320 L390.8,320 L391.68,320 L392.56,320 L393.43,320 L394.31,320 L395.19,320 L396.07,320 L396.95,320 L397.82,320 L398.7,320 L399.58,320 L400.46,320 L401.34,320 L402.21,320 L403.09,320 L403.97,320 L404.85,320 L405.73,320 L406.6,320 L407.48,320 L408.36,320 L409.24,320 L410.12,320 L410.99,320 L411.87,320 L412.75,320 L413.63,320 L414.51,320 L415.38,320 L416.26,320 L417.14,320 L418.02,320 L418.9,320 L419.77,320 L420.65,320 L421.53,320 L422.41,320 L423.29,320 L424.16,320 L425.04,320 L425.92,320 L426.8,320 L427.68,320 L428.55,320 L429.43,320 L430.31,320 L431.19,320 L432.07,320 L432.94,320 L433.82,320 L434.7,320 L434.7,320 Z" fill="#cfeee2" style="mix-blend-mode:multiply"/>
<path d="M259.1,320 L259.1,316.47 L259.98,316.11 L260.86,315.73 L261.73,315.31 L262.61,314.86 L263.49,314.37 L264.37,313.85 L265.25,313.28 L266.12,312.68 L267,312.03 L267.88,311.33 L268.76,310.58 L269.64,309.79 L270.51,308.94 L271.39,308.04 L272.27,307.08 L273.15,306.06 L274.03,304.98 L274.9,303.84 L275.78,302.64 L276.66,301.38 L277.54,300.04 L278.42,298.64 L279.29,297.17 L280.17,295.64 L281.05,294.03 L281.93,292.36 L282.81,290.62 L283.68,288.81 L284.56,286.93 L285.44,284.98 L286.32,282.97 L287.2,280.9 L288.07,278.77 L288.95,276.57 L289.83,274.32 L290.71,272.02 L291.59,269.67 L292.46,267.28 L293.34,264.84 L294.22,262.37 L295.1,259.87 L295.98,257.34 L296.85,254.8 L297.73,252.24 L298.61,249.67 L299.49,247.11 L300.37,244.55 L301.24,242.01 L302.12,239.48 L303,236.99 L303.88,234.53 L304.76,232.12 L305.63,229.76 L306.51,227.46 L307.39,225.22 L308.27,223.07 L309.15,220.99 L310.02,219.01 L310.9,217.12 L311.78,215.34 L312.66,213.67 L313.54,212.11 L314.41,210.68 L315.29,209.37 L316.17,208.2 L317.05,207.17 L317.93,206.28 L318.8,205.54 L319.68,204.94 L320.56,204.5 L321.44,204.2 L322.32,204.06 L323.19,204.08 L324.07,204.25 L324.95,204.57 L325.83,205.05 L326.71,205.67 L327.58,206.45 L328.46,207.37 L329.34,208.43 L330.22,209.62 L331.1,210.95 L331.97,212.41 L332.85,213.99 L333.73,215.69 L334.61,217.49 L335.49,219.4 L336.36,221.4 L337.24,223.49 L338.12,225.67 L339,227.91 L339.88,230.23 L340.75,232.6 L341.63,235.02 L342.51,237.49 L343.39,239.99 L344.27,242.51 L345.14,245.06 L346.02,247.62 L346.9,250.19 L347.78,252.75 L348.66,255.31 L349.53,257.85 L350.41,260.37 L351.29,262.87 L352.17,265.33 L353.05,267.76 L353.92,270.15 L354.8,272.49 L355.68,274.78 L356.56,277.02 L357.44,279.2 L358.31,281.32 L359.19,283.38 L360.07,285.38 L360.95,287.31 L361.83,289.17 L362.7,290.97 L363.58,292.7 L364.46,294.36 L365.34,295.95 L366.22,297.47 L367.09,298.93 L367.97,300.31 L368.85,301.63 L369.73,302.89 L370.61,304.08 L371.48,305.2 L372.36,306.27 L373.24,307.28 L374.12,308.22 L375,309.11 L375.87,309.95 L376.75,310.74 L377.63,311.47 L378.51,312.16 L379.39,312.8 L380.26,313.4 L381.14,313.96 L382.02,314.47 L382.9,314.95 L383.78,315.4 L384.65,315.81 L385.53,316.19 L386.41,316.53 L387.29,316.86 L388.17,317.15 L389.04,317.42 L389.92,317.67 L390.8,317.9 L391.68,318.11 L392.56,318.3 L393.43,318.47 L394.31,318.62 L395.19,318.77 L396.07,318.9 L396.95,319.01 L397.82,319.12 L398.7,319.21 L399.58,319.3 L400.46,319.38 L401.34,319.45 L402.21,319.51 L403.09,319.57 L403.97,319.62 L404.85,319.66 L405.73,319.7 L406.6,319.74 L407.48,319.77 L408.36,319.8 L409.24,319.82 L410.12,319.84 L410.99,319.86 L411.87,319.88 L412.75,319.9 L413.63,319.91 L414.51,319.92 L415.38,319.93 L416.26,319.94 L417.14,319.95 L418.02,319.96 L418.9,319.96 L419.77,319.97 L420.65,319.97 L421.53,319.98 L422.41,319.98 L423.29,319.98 L424.16,319.98 L425.04,319.99 L425.92,319.99 L426.8,319.99 L427.68,319.99 L428.55,319.99 L429.43,319.99 L430.31,319.99 L431.19,320 L432.07,320 L432.94,320 L433.82,320 L434.7,320 L434.7,320 Z" fill="#cdeae9" style="mix-blend-mode:multiply"/>
<path d="M259.1,320 L259.1,319.97 L259.98,319.97 L260.86,319.97 L261.73,319.96 L262.61,319.96 L263.49,319.95 L264.37,319.95 L265.25,319.94 L266.12,319.94 L267,319.93 L267.88,319.92 L268.76,319.91 L269.64,319.9 L270.51,319.89 L271.39,319.88 L272.27,319.87 L273.15,319.86 L274.03,319.85 L274.9,319.83 L275.78,319.81 L276.66,319.8 L277.54,319.78 L278.42,319.76 L279.29,319.73 L280.17,319.71 L281.05,319.68 L281.93,319.65 L282.81,319.62 L283.68,319.59 L284.56,319.55 L285.44,319.52 L286.32,319.47 L287.2,319.43 L288.07,319.38 L288.95,319.33 L289.83,319.28 L290.71,319.22 L291.59,319.16 L292.46,319.1 L293.34,319.03 L294.22,318.95 L295.1,318.87 L295.98,318.79 L296.85,318.7 L297.73,318.61 L298.61,318.51 L299.49,318.41 L300.37,318.3 L301.24,318.18 L302.12,318.06 L303,317.93 L303.88,317.8 L304.76,317.66 L305.63,317.51 L306.51,317.36 L307.39,317.2 L308.27,317.03 L309.15,316.85 L310.02,316.67 L310.9,316.48 L311.78,316.28 L312.66,316.08 L313.54,315.86 L314.41,315.64 L315.29,315.42 L316.17,315.18 L317.05,314.94 L317.93,314.69 L318.8,314.43 L319.68,314.17 L320.56,313.9 L321.44,313.62 L322.32,313.33 L323.19,313.04 L324.07,312.75 L324.95,312.44 L325.83,312.13 L326.71,311.82 L327.58,311.5 L328.46,311.18 L329.34,310.86 L330.22,310.53 L331.1,310.2 L331.97,309.86 L332.85,309.53 L333.73,309.19 L334.61,308.85 L335.49,308.51 L336.36,308.18 L337.24,307.84 L338.12,307.51 L339,307.17 L339.88,306.85 L340.75,306.52 L341.63,306.2 L342.51,305.89 L343.39,305.58 L344.27,305.28 L345.14,304.99 L346.02,304.7 L346.9,304.43 L347.78,304.16 L348.66,303.9 L349.53,303.66 L350.41,303.42 L351.29,303.2 L352.17,302.99 L353.05,302.79 L353.92,302.61 L354.8,302.44 L355.68,302.29 L356.56,302.15 L357.44,302.03 L358.31,301.92 L359.19,301.83 L360.07,301.75 L360.95,301.69 L361.83,301.65 L362.7,301.63 L363.58,301.62 L364.46,301.63 L365.34,301.65 L366.22,301.69 L367.09,301.75 L367.97,301.83 L368.85,301.92 L369.73,302.03 L370.61,302.15 L371.48,302.29 L372.36,302.44 L373.24,302.61 L374.12,302.79 L375,302.99 L375.87,303.2 L376.75,303.42 L377.63,303.66 L378.51,303.9 L379.39,304.16 L380.26,304.43 L381.14,304.7 L382.02,304.99 L382.9,305.28 L383.78,305.58 L384.65,305.89 L385.53,306.2 L386.41,306.52 L387.29,306.85 L388.17,307.17 L389.04,307.51 L389.92,307.84 L390.8,308.18 L391.68,308.51 L392.56,308.85 L393.43,309.19 L394.31,309.53 L395.19,309.86 L396.07,310.2 L396.95,310.53 L397.82,310.86 L398.7,311.18 L399.58,311.5 L400.46,311.82 L401.34,312.13 L402.21,312.44 L403.09,312.75 L403.97,313.04 L404.85,313.33 L405.73,313.62 L406.6,313.9 L407.48,314.17 L408.36,314.43 L409.24,314.69 L410.12,314.94 L410.99,315.18 L411.87,315.42 L412.75,315.64 L413.63,315.86 L414.51,316.08 L415.38,316.28 L416.26,316.48 L417.14,316.67 L418.02,316.85 L418.9,317.03 L419.77,317.2 L420.65,317.36 L421.53,317.51 L422.41,317.66 L423.29,317.8 L424.16,317.93 L425.04,318.06 L425.92,318.18 L426.8,318.3 L427.68,318.41 L428.55,318.51 L429.43,318.61 L430.31,318.7 L431.19,318.79 L432.07,318.87 L432.94,318.95 L433.82,319.03 L434.7,319.1 L434.7,320 Z" fill="#d4e8f8" style="mix-blend-mode:multiply"/>
<polyline points="259.98,310.32 261.23,308.11 262.48,305.65 263.73,303.01 264.98,300.22 266.23,297.32 267.48,294.33 268.74,291.29 269.99,288.2 271.24,285 272.49,281.6 273.74,277.93 274.99,273.89 276.24,269.37 277.49,264.44 278.75,259.21 280,253.75 281.25,248.17 282.5,241.94 283.75,235.88 285,230.71 286.25,225.99 287.5,221.7 288.75,217.76 290.01,214.15 291.26,210.99 292.51,208.21 293.76,205.71 295.01,203.46 296.26,201.41 297.51,199.46 298.76,197.68 300.01,196.14 301.27,194.9 302.52,193.79 303.77,192.81 305.02,192.03 306.27,191.51 307.52,191.15 308.77,190.86 310.02,190.62 311.28,190.44 312.53,190.3 313.78,190.17 315.03,190.06 316.28,189.97 317.53,189.92 318.78,189.93 320.03,190.12 321.28,190.49 322.54,191 323.79,191.63 325.04,192.34 326.29,193.09 327.54,193.89 328.79,194.93 330.04,196.21 331.29,197.68 332.54,199.31 333.8,201.07 335.05,203.07 336.3,205.45 337.55,208.1 338.8,210.9 340.05,213.75 341.3,216.82 342.55,220.06 343.81,223.38 345.06,226.68 346.31,230 347.56,233.4 348.81,236.76 350.06,239.99 351.31,243 352.56,245.82 353.81,248.54 355.07,251.2 356.32,253.86 357.57,256.59 358.82,259.42 360.07,262.31 361.32,265.23 362.57,268.12 363.82,270.95 365.07,273.67 366.33,276.39 367.58,279.12 368.83,281.76 370.08,284.23 371.33,286.44 372.58,288.35 373.83,290.11 375.08,291.75 376.33,293.27 377.59,294.7 378.84,296.05 380.09,297.33 381.34,298.55 382.59,299.71 383.84,300.81 385.09,301.87 386.34,302.88 387.6,303.85 388.85,304.79 390.1,305.7 391.35,306.58 392.6,307.46 393.85,308.33 395.1,309.19 396.35,310.02 397.6,310.8 398.86,311.52 400.11,312.16 401.36,312.7 402.61,313.19 403.86,313.66 405.11,314.1 406.36,314.53 407.61,314.93 408.86,315.3 410.12,315.66" fill="none" stroke="#111" stroke-width="2.0" stroke-dasharray="0.8 3.7" stroke-linecap="round"/>
<polygon points="261.3,319.2 261.3,312 262.15,311.03 263.01,309.98 263.86,308.84 264.72,307.62 265.58,306.3 266.43,304.9 267.29,303.4 268.14,301.82 269,300.15 269.86,298.4 270.71,296.58 271.57,294.68 272.42,292.72 273.28,290.7 274.14,288.64 274.99,286.54 275.85,284.42 276.7,282.29 277.56,280.16 278.42,278.05 279.27,275.98 280.13,273.95 280.98,271.99 281.84,270.11 282.7,268.33 283.55,266.66 284.41,265.11 285.26,263.71 286.12,262.46 286.98,261.37 287.83,260.46 288.69,259.74 289.54,259.2 290.4,258.87 291.26,258.73 292.11,258.79 292.97,259.06 293.82,259.52 294.68,260.18 295.54,261.02 296.39,262.05 297.25,263.24 298.11,264.59 298.96,266.09 299.82,267.71 300.67,269.46 301.53,271.31 302.39,273.24 303.24,275.25 304.1,277.3 304.95,279.4 305.81,281.52 306.67,283.66 307.52,285.78 308.38,287.89 309.23,289.96 310.09,292 310.95,293.98 311.8,295.9 312.66,297.75 313.51,299.53 314.37,301.23 315.23,302.84 316.08,304.37 316.94,305.81 317.79,307.15 318.65,308.41 319.51,309.58 320.36,310.66 321.22,311.66 322.07,312.57 322.93,313.41 323.79,314.17 324.64,314.86 325.5,315.48 326.35,316.05 327.21,316.55 328.07,317 328.92,317.4 329.78,317.75 330.64,318.06 331.49,318.33 332.35,318.57 333.2,318.78 334.06,318.97 334.92,319.12 335.77,319.2 336.63,319.2 337.48,319.2 338.34,319.2 339.2,319.2 340.05,319.2 340.91,319.2 341.76,319.2 342.62,319.2 343.48,319.2 344.33,319.2 345.19,319.2 346.04,319.2 346.9,319.2 347.76,319.2 348.61,319.2 349.47,319.2 350.32,319.2 351.18,319.2 352.04,319.2 352.89,319.2 353.75,319.2 354.6,319.2 355.46,319.2 356.32,319.2 357.17,319.2 358.03,319.2 358.88,319.2 359.74,319.2 360.6,319.2 361.45,319.2 362.31,319.2 363.16,319.2 364.02,319.2 364.88,319.2 365.73,319.2 366.59,319.2 367.45,319.2 368.3,319.2 369.16,319.2 370.01,319.2 370.87,319.2 371.73,319.2 372.58,319.2 373.44,319.2 374.29,319.2 375.15,319.2 376.01,319.2 376.86,319.2 377.72,319.2 378.57,319.2 379.43,319.2 380.29,319.2 381.14,319.2 382,319.2 382.85,319.2 383.71,319.2 384.57,319.2 385.42,319.2 386.28,319.2 387.13,319.2 387.99,319.2 388.85,319.2 389.7,319.2 390.56,319.2 391.41,319.2 392.27,319.2 393.13,319.2 393.98,319.2 394.84,319.2 395.69,319.2 396.55,319.2 397.41,319.2 398.26,319.2 399.12,319.2 399.98,319.2 400.83,319.2 401.69,319.2 402.54,319.2 403.4,319.2 404.26,319.2 405.11,319.2 405.97,319.2 406.82,319.2 407.68,319.2 408.54,319.2 409.39,319.2 410.25,319.2 411.1,319.2 411.96,319.2 412.82,319.2 413.67,319.2 414.53,319.2 415.38,319.2 416.24,319.2 417.1,319.2 417.95,319.2 418.81,319.2 419.66,319.2 420.52,319.2 421.38,319.2 422.23,319.2 423.09,319.2 423.94,319.2 424.8,319.2 425.66,319.2 426.51,319.2 427.37,319.2 428.22,319.2 429.08,319.2 429.94,319.2 430.79,319.2 431.65,319.2 432.5,319.2 432.5,319.2" fill="none" stroke="#00955f" stroke-width="3.6" stroke-linejoin="round" clip-path="url(#Bclip)"/>
<polygon points="261.3,319.2 261.3,315.52 262.15,315.1 263.01,314.64 263.86,314.15 264.72,313.63 265.58,313.06 266.43,312.45 267.29,311.81 268.14,311.11 269,310.37 269.86,309.58 270.71,308.74 271.57,307.85 272.42,306.91 273.28,305.9 274.14,304.85 274.99,303.73 275.85,302.55 276.7,301.31 277.56,300.01 278.42,298.64 279.27,297.21 280.13,295.72 280.98,294.16 281.84,292.53 282.7,290.84 283.55,289.08 284.41,287.26 285.26,285.38 286.12,283.43 286.98,281.42 287.83,279.36 288.69,277.24 289.54,275.06 290.4,272.83 291.26,270.56 292.11,268.24 292.97,265.88 293.82,263.49 294.68,261.06 295.54,258.61 296.39,256.14 297.25,253.65 298.11,251.15 298.96,248.65 299.82,246.15 300.67,243.66 301.53,241.18 302.39,238.73 303.24,236.31 304.1,233.92 304.95,231.58 305.81,229.29 306.67,227.06 307.52,224.9 308.38,222.8 309.23,220.79 310.09,218.86 310.95,217.03 311.8,215.29 312.66,213.67 313.51,212.15 314.37,210.75 315.23,209.47 316.08,208.32 316.94,207.29 317.79,206.41 318.65,205.66 319.51,205.05 320.36,204.58 321.22,204.26 322.07,204.09 322.93,204.06 323.79,204.18 324.64,204.44 325.5,204.85 326.35,205.41 327.21,206.1 328.07,206.94 328.92,207.91 329.78,209.01 330.64,210.24 331.49,211.59 332.35,213.07 333.2,214.66 334.06,216.35 334.92,218.15 335.77,220.04 336.63,222.02 337.48,224.08 338.34,226.22 339.2,228.43 340.05,230.7 340.91,233.02 341.76,235.39 342.62,237.8 343.48,240.24 344.33,242.7 345.19,245.19 346.04,247.69 346.9,250.19 347.76,252.69 348.61,255.18 349.47,257.66 350.32,260.12 351.18,262.56 352.04,264.97 352.89,267.34 353.75,269.67 354.6,271.96 355.46,274.21 356.32,276.41 357.17,278.55 358.03,280.64 358.88,282.67 359.74,284.64 360.6,286.54 361.45,288.39 362.31,290.17 363.16,291.89 364.02,293.54 364.88,295.12 365.73,296.64 366.59,298.1 367.45,299.49 368.3,300.82 369.16,302.08 370.01,303.28 370.87,304.42 371.73,305.5 372.58,306.53 373.44,307.49 374.29,308.41 375.15,309.26 376.01,310.07 376.86,310.83 377.72,311.54 378.57,312.21 379.43,312.83 380.29,313.41 381.14,313.96 382,314.46 382.85,314.93 383.71,315.36 384.57,315.77 385.42,316.14 386.28,316.48 387.13,316.8 387.99,317.09 388.85,317.36 389.7,317.61 390.56,317.84 391.41,318.05 392.27,318.24 393.13,318.41 393.98,318.57 394.84,318.71 395.69,318.84 396.55,318.96 397.41,319.07 398.26,319.17 399.12,319.2 399.98,319.2 400.83,319.2 401.69,319.2 402.54,319.2 403.4,319.2 404.26,319.2 405.11,319.2 405.97,319.2 406.82,319.2 407.68,319.2 408.54,319.2 409.39,319.2 410.25,319.2 411.1,319.2 411.96,319.2 412.82,319.2 413.67,319.2 414.53,319.2 415.38,319.2 416.24,319.2 417.1,319.2 417.95,319.2 418.81,319.2 419.66,319.2 420.52,319.2 421.38,319.2 422.23,319.2 423.09,319.2 423.94,319.2 424.8,319.2 425.66,319.2 426.51,319.2 427.37,319.2 428.22,319.2 429.08,319.2 429.94,319.2 430.79,319.2 431.65,319.2 432.5,319.2 432.5,319.2" fill="none" stroke="#008884" stroke-width="3.6" stroke-linejoin="round" clip-path="url(#Bclip)"/>
<polygon points="261.3,319.2 261.3,319.2 262.15,319.2 263.01,319.2 263.86,319.2 264.72,319.2 265.58,319.2 266.43,319.2 267.29,319.2 268.14,319.2 269,319.2 269.86,319.2 270.71,319.2 271.57,319.2 272.42,319.2 273.28,319.2 274.14,319.2 274.99,319.2 275.85,319.2 276.7,319.2 277.56,319.2 278.42,319.2 279.27,319.2 280.13,319.2 280.98,319.2 281.84,319.2 282.7,319.2 283.55,319.2 284.41,319.2 285.26,319.2 286.12,319.2 286.98,319.2 287.83,319.2 288.69,319.2 289.54,319.2 290.4,319.2 291.26,319.18 292.11,319.12 292.97,319.06 293.82,318.99 294.68,318.91 295.54,318.83 296.39,318.75 297.25,318.66 298.11,318.57 298.96,318.47 299.82,318.37 300.67,318.26 301.53,318.14 302.39,318.02 303.24,317.9 304.1,317.77 304.95,317.63 305.81,317.48 306.67,317.33 307.52,317.17 308.38,317.01 309.23,316.84 310.09,316.66 310.95,316.47 311.8,316.28 312.66,316.08 313.51,315.87 314.37,315.66 315.23,315.43 316.08,315.21 316.94,314.97 317.79,314.73 318.65,314.48 319.51,314.22 320.36,313.96 321.22,313.69 322.07,313.41 322.93,313.13 323.79,312.84 324.64,312.55 325.5,312.25 326.35,311.95 327.21,311.64 328.07,311.33 328.92,311.01 329.78,310.69 330.64,310.37 331.49,310.05 332.35,309.72 333.2,309.39 334.06,309.06 334.92,308.73 335.77,308.4 336.63,308.07 337.48,307.75 338.34,307.42 339.2,307.1 340.05,306.78 340.91,306.47 341.76,306.16 342.62,305.85 343.48,305.55 344.33,305.26 345.19,304.97 346.04,304.7 346.9,304.43 347.76,304.17 348.61,303.91 349.47,303.67 350.32,303.45 351.18,303.23 352.04,303.02 352.89,302.83 353.75,302.65 354.6,302.48 355.46,302.33 356.32,302.19 357.17,302.06 358.03,301.95 358.88,301.86 359.74,301.78 360.6,301.72 361.45,301.67 362.31,301.64 363.16,301.62 364.02,301.62 364.88,301.64 365.73,301.67 366.59,301.72 367.45,301.78 368.3,301.86 369.16,301.96 370.01,302.07 370.87,302.19 371.73,302.33 372.58,302.48 373.44,302.65 374.29,302.83 375.15,303.03 376.01,303.23 376.86,303.45 377.72,303.68 378.57,303.92 379.43,304.17 380.29,304.43 381.14,304.7 382,304.98 382.85,305.27 383.71,305.56 384.57,305.86 385.42,306.16 386.28,306.47 387.13,306.79 387.99,307.11 388.85,307.43 389.7,307.76 390.56,308.08 391.41,308.41 392.27,308.74 393.13,309.07 393.98,309.4 394.84,309.73 395.69,310.05 396.55,310.38 397.41,310.7 398.26,311.02 399.12,311.34 399.98,311.65 400.83,311.96 401.69,312.26 402.54,312.56 403.4,312.85 404.26,313.14 405.11,313.42 405.97,313.69 406.82,313.96 407.68,314.23 408.54,314.48 409.39,314.73 410.25,314.98 411.1,315.21 411.96,315.44 412.82,315.66 413.67,315.88 414.53,316.08 415.38,316.28 416.24,316.48 417.1,316.66 417.95,316.84 418.81,317.01 419.66,317.18 420.52,317.33 421.38,317.49 422.23,317.63 423.09,317.77 423.94,317.9 424.8,318.03 425.66,318.15 426.51,318.26 427.37,318.37 428.22,318.47 429.08,318.57 429.94,318.66 430.79,318.75 431.65,318.84 432.5,318.91 432.5,319.2" fill="none" stroke="#1b6db3" stroke-width="3.6" stroke-linejoin="round" clip-path="url(#Bclip)"/>
<line x1="259.1" y1="178.6" x2="259.1" y2="321" stroke="#000" stroke-width="2"/>
<line x1="258.1" y1="320" x2="435.7" y2="320" stroke="#000" stroke-width="2"/>
<line x1="255.6" y1="178.6" x2="259.1" y2="178.6" stroke="#000" stroke-width="1.2"/>
<line x1="256.1" y1="202.17" x2="259.1" y2="202.17" stroke="#000" stroke-width="1.2"/>
<line x1="255.6" y1="225.73" x2="259.1" y2="225.73" stroke="#000" stroke-width="1.2"/>
<line x1="256.1" y1="249.3" x2="259.1" y2="249.3" stroke="#000" stroke-width="1.2"/>
<line x1="255.6" y1="272.87" x2="259.1" y2="272.87" stroke="#000" stroke-width="1.2"/>
<line x1="256.1" y1="296.43" x2="259.1" y2="296.43" stroke="#000" stroke-width="1.2"/>
<line x1="255.6" y1="320" x2="259.1" y2="320" stroke="#000" stroke-width="1.2"/>
<line x1="259.1" y1="320" x2="259.1" y2="323.5" stroke="#000" stroke-width="1.2"/>
<line x1="276.66" y1="320" x2="276.66" y2="323" stroke="#000" stroke-width="1.2"/>
<line x1="294.22" y1="320" x2="294.22" y2="323.5" stroke="#000" stroke-width="1.2"/>
<line x1="311.78" y1="320" x2="311.78" y2="323" stroke="#000" stroke-width="1.2"/>
<line x1="329.34" y1="320" x2="329.34" y2="323.5" stroke="#000" stroke-width="1.2"/>
<line x1="346.9" y1="320" x2="346.9" y2="323" stroke="#000" stroke-width="1.2"/>
<line x1="364.46" y1="320" x2="364.46" y2="323.5" stroke="#000" stroke-width="1.2"/>
<line x1="382.02" y1="320" x2="382.02" y2="323" stroke="#000" stroke-width="1.2"/>
<line x1="399.58" y1="320" x2="399.58" y2="323.5" stroke="#000" stroke-width="1.2"/>
<line x1="417.14" y1="320" x2="417.14" y2="323" stroke="#000" stroke-width="1.2"/>
<line x1="434.7" y1="320" x2="434.7" y2="323.5" stroke="#000" stroke-width="1.2"/>
<text x="255.5" y="181.1" font-size="12" font-weight="normal" text-anchor="end" fill="#111" >0.06</text>
<text x="255.5" y="228.23" font-size="12" font-weight="normal" text-anchor="end" fill="#111" >0.04</text>
<text x="255.5" y="275.37" font-size="12" font-weight="normal" text-anchor="end" fill="#111" >0.02</text>
<text x="255.5" y="322.5" font-size="12" font-weight="normal" text-anchor="end" fill="#111" >0.00</text>
<text x="261.1" y="332.8" font-size="12" font-weight="normal" text-anchor="middle" fill="#111" >0.0</text>
<text x="296.22" y="332.8" font-size="12" font-weight="normal" text-anchor="middle" fill="#111" >0.2</text>
<text x="331.34" y="332.8" font-size="12" font-weight="normal" text-anchor="middle" fill="#111" >0.4</text>
<text x="366.46" y="332.8" font-size="12" font-weight="normal" text-anchor="middle" fill="#111" >0.6</text>
<text x="401.58" y="332.8" font-size="12" font-weight="normal" text-anchor="middle" fill="#111" >0.8</text>
<text x="436.7" y="332.8" font-size="12" font-weight="normal" text-anchor="middle" fill="#111" >1.0</text>
<text transform="translate(229.2,243.3) rotate(-90)" font-size="12" font-weight="bold" text-anchor="middle" fill="#111">normalized frames</text>
<text x="349.2" y="344.4" font-size="11.8" font-weight="bold" text-anchor="middle" fill="#111" >FRET efficiency (E)</text>
<text x="373.3" y="186.8" font-size="12" fill="#13946a">E<tspan font-size="7.4" dy="3.7">1</tspan><tspan dy="-3.7" dx="-0.2" font-size="11.6"> = 0.18</tspan></text>
<text x="373.3" y="200.5" font-size="12" fill="#11888f">E<tspan font-size="7.4" dy="3.7">2</tspan><tspan dy="-3.7" dx="-0.2" font-size="11.6"> = 0.36</tspan></text>
<text x="373.3" y="214.2" font-size="12" fill="#2a72b8">E<tspan font-size="7.4" dy="3.7">3</tspan><tspan dy="-3.7" dx="-0.2" font-size="11.6"> = 0.59</tspan></text>
<defs><clipPath id="Cclip"><rect x="491" y="163.2" width="177.4" height="154.4"/></clipPath></defs>
<rect x="490" y="304.27" width="4.44" height="14.33" fill="#eeeeee"/>
<rect x="490.6" y="304.27" width="3.24" height="14.33" fill="#c1c1c1"/>
<rect x="494.44" y="294.22" width="4.44" height="24.38" fill="#eeeeee"/>
<rect x="495.04" y="294.22" width="3.24" height="24.38" fill="#c1c1c1"/>
<rect x="498.87" y="280.24" width="4.44" height="38.36" fill="#eeeeee"/>
<rect x="499.47" y="280.24" width="3.24" height="38.36" fill="#c1c1c1"/>
<rect x="503.31" y="262.72" width="4.44" height="55.88" fill="#eeeeee"/>
<rect x="503.91" y="262.72" width="3.24" height="55.88" fill="#c1c1c1"/>
<rect x="507.74" y="243.02" width="4.44" height="75.58" fill="#eeeeee"/>
<rect x="508.34" y="243.02" width="3.24" height="75.58" fill="#c1c1c1"/>
<rect x="512.17" y="223.39" width="4.44" height="95.21" fill="#eeeeee"/>
<rect x="512.77" y="223.39" width="3.24" height="95.21" fill="#c1c1c1"/>
<rect x="516.61" y="203.23" width="4.44" height="115.37" fill="#eeeeee"/>
<rect x="517.21" y="203.23" width="3.24" height="115.37" fill="#c1c1c1"/>
<rect x="521.04" y="194.99" width="4.44" height="123.61" fill="#eeeeee"/>
<rect x="521.64" y="194.99" width="3.24" height="123.61" fill="#c1c1c1"/>
<rect x="525.48" y="188.35" width="4.44" height="130.25" fill="#eeeeee"/>
<rect x="526.08" y="188.35" width="3.24" height="130.25" fill="#c1c1c1"/>
<rect x="529.91" y="182.12" width="4.44" height="136.48" fill="#eeeeee"/>
<rect x="530.51" y="182.12" width="3.24" height="136.48" fill="#c1c1c1"/>
<rect x="534.35" y="183.13" width="4.44" height="135.47" fill="#eeeeee"/>
<rect x="534.95" y="183.13" width="3.24" height="135.47" fill="#c1c1c1"/>
<rect x="538.78" y="189.16" width="4.44" height="129.44" fill="#eeeeee"/>
<rect x="539.38" y="189.16" width="3.24" height="129.44" fill="#c1c1c1"/>
<rect x="543.22" y="189.76" width="4.44" height="128.84" fill="#eeeeee"/>
<rect x="543.82" y="189.76" width="3.24" height="128.84" fill="#c1c1c1"/>
<rect x="547.65" y="189.16" width="4.44" height="129.44" fill="#eeeeee"/>
<rect x="548.25" y="189.16" width="3.24" height="129.44" fill="#c1c1c1"/>
<rect x="552.09" y="188.35" width="4.44" height="130.25" fill="#eeeeee"/>
<rect x="552.69" y="188.35" width="3.24" height="130.25" fill="#c1c1c1"/>
<rect x="556.52" y="194.18" width="4.44" height="124.42" fill="#eeeeee"/>
<rect x="557.12" y="194.18" width="3.24" height="124.42" fill="#c1c1c1"/>
<rect x="560.96" y="208.36" width="4.44" height="110.24" fill="#eeeeee"/>
<rect x="561.56" y="208.36" width="3.24" height="110.24" fill="#c1c1c1"/>
<rect x="565.39" y="225.14" width="4.44" height="93.46" fill="#eeeeee"/>
<rect x="566" y="225.14" width="3.24" height="93.46" fill="#c1c1c1"/>
<rect x="569.83" y="243.81" width="4.44" height="74.79" fill="#eeeeee"/>
<rect x="570.43" y="243.81" width="3.24" height="74.79" fill="#c1c1c1"/>
<rect x="574.26" y="262.28" width="4.44" height="56.32" fill="#eeeeee"/>
<rect x="574.87" y="262.28" width="3.24" height="56.32" fill="#c1c1c1"/>
<rect x="578.7" y="278.77" width="4.44" height="39.83" fill="#eeeeee"/>
<rect x="579.3" y="278.77" width="3.24" height="39.83" fill="#c1c1c1"/>
<rect x="583.13" y="292.17" width="4.44" height="26.43" fill="#eeeeee"/>
<rect x="583.74" y="292.17" width="3.24" height="26.43" fill="#c1c1c1"/>
<rect x="587.57" y="302.32" width="4.44" height="16.28" fill="#eeeeee"/>
<rect x="588.17" y="302.32" width="3.24" height="16.28" fill="#c1c1c1"/>
<rect x="592" y="307.14" width="4.44" height="11.46" fill="#eeeeee"/>
<rect x="592.61" y="307.14" width="3.24" height="11.46" fill="#c1c1c1"/>
<rect x="596.44" y="310.36" width="4.44" height="8.24" fill="#eeeeee"/>
<rect x="597.04" y="310.36" width="3.24" height="8.24" fill="#c1c1c1"/>
<rect x="600.88" y="311.97" width="4.44" height="6.63" fill="#eeeeee"/>
<rect x="601.48" y="311.97" width="3.24" height="6.63" fill="#c1c1c1"/>
<rect x="605.31" y="312.77" width="4.44" height="5.83" fill="#eeeeee"/>
<rect x="605.91" y="312.77" width="3.24" height="5.83" fill="#c1c1c1"/>
<rect x="609.75" y="314.98" width="4.44" height="3.62" fill="#eeeeee"/>
<rect x="610.35" y="314.98" width="3.24" height="3.62" fill="#c1c1c1"/>
<rect x="614.18" y="315.79" width="4.44" height="2.81" fill="#eeeeee"/>
<rect x="614.78" y="315.79" width="3.24" height="2.81" fill="#c1c1c1"/>
<rect x="618.62" y="316.79" width="4.44" height="1.81" fill="#eeeeee"/>
<rect x="619.22" y="316.79" width="3.24" height="1.81" fill="#c1c1c1"/>
<rect x="623.05" y="317.39" width="4.44" height="1.21" fill="#eeeeee"/>
<rect x="623.65" y="317.39" width="3.24" height="1.21" fill="#c1c1c1"/>
<rect x="627.49" y="318.59" width="4.44" height="0.01" fill="#eeeeee"/>
<rect x="628.09" y="318.59" width="3.24" height="0.01" fill="#c1c1c1"/>
<rect x="631.92" y="318.6" width="4.44" height="0" fill="#eeeeee"/>
<rect x="632.52" y="318.6" width="3.24" height="0" fill="#c1c1c1"/>
<rect x="636.36" y="318.6" width="4.44" height="0" fill="#eeeeee"/>
<rect x="636.96" y="318.6" width="3.24" height="0" fill="#c1c1c1"/>
<rect x="640.79" y="318.6" width="4.44" height="0" fill="#eeeeee"/>
<rect x="641.39" y="318.6" width="3.24" height="0" fill="#c1c1c1"/>
<rect x="645.23" y="318.6" width="4.44" height="0" fill="#eeeeee"/>
<rect x="645.83" y="318.6" width="3.24" height="0" fill="#c1c1c1"/>
<rect x="649.66" y="318.6" width="4.44" height="0" fill="#eeeeee"/>
<rect x="650.26" y="318.6" width="3.24" height="0" fill="#c1c1c1"/>
<rect x="654.1" y="318.6" width="4.44" height="0" fill="#eeeeee"/>
<rect x="654.7" y="318.6" width="3.24" height="0" fill="#c1c1c1"/>
<rect x="658.53" y="318.6" width="4.44" height="0" fill="#eeeeee"/>
<rect x="659.13" y="318.6" width="3.24" height="0" fill="#c1c1c1"/>
<rect x="662.97" y="318.6" width="4.44" height="0" fill="#eeeeee"/>
<rect x="663.57" y="318.6" width="3.24" height="0" fill="#c1c1c1"/>
<path d="M490,318.6 L490,308.03 L490.89,306.69 L491.77,305.22 L492.66,303.61 L493.55,301.87 L494.44,299.98 L495.32,297.95 L496.21,295.77 L497.1,293.43 L497.98,290.96 L498.87,288.33 L499.76,285.56 L500.64,282.66 L501.53,279.63 L502.42,276.47 L503.31,273.21 L504.19,269.85 L505.08,266.42 L505.97,262.92 L506.85,259.38 L507.74,255.81 L508.63,252.25 L509.51,248.71 L510.4,245.22 L511.29,241.8 L512.17,238.49 L513.06,235.29 L513.95,232.26 L514.84,229.39 L515.72,226.73 L516.61,224.3 L517.5,222.11 L518.38,220.19 L519.27,218.56 L520.16,217.23 L521.04,216.21 L521.93,215.51 L522.82,215.15 L523.71,215.11 L524.59,215.41 L525.48,216.04 L526.37,217 L527.25,218.27 L528.14,219.84 L529.03,221.71 L529.91,223.84 L530.8,226.23 L531.69,228.84 L532.58,231.67 L533.46,234.67 L534.35,237.84 L535.24,241.13 L536.12,244.53 L537.01,248.01 L537.9,251.54 L538.78,255.1 L539.67,258.67 L540.56,262.21 L541.45,265.72 L542.33,269.17 L543.22,272.55 L544.11,275.83 L544.99,279 L545.88,282.06 L546.77,284.99 L547.65,287.79 L548.54,290.44 L549.43,292.95 L550.32,295.31 L551.2,297.52 L552.09,299.58 L552.98,301.5 L553.86,303.27 L554.75,304.91 L555.64,306.4 L556.52,307.77 L557.41,309.02 L558.3,310.15 L559.19,311.17 L560.07,312.09 L560.96,312.91 L561.85,313.65 L562.73,314.3 L563.62,314.88 L564.51,315.4 L565.39,315.85 L566.28,316.24 L567.17,316.59 L568.06,316.88 L568.94,317.14 L569.83,317.37 L570.72,317.56 L571.6,317.73 L572.49,317.87 L573.38,317.99 L574.26,318.09 L575.15,318.18 L576.04,318.25 L576.93,318.31 L577.81,318.36 L578.7,318.41 L579.59,318.44 L580.47,318.47 L581.36,318.5 L582.25,318.52 L583.13,318.53 L584.02,318.55 L584.91,318.56 L585.8,318.57 L586.68,318.57 L587.57,318.58 L588.46,318.58 L589.34,318.59 L590.23,318.59 L591.12,318.59 L592,318.59 L592.89,318.59 L593.78,318.6 L594.67,318.6 L595.55,318.6 L596.44,318.6 L597.33,318.6 L598.21,318.6 L599.1,318.6 L599.99,318.6 L600.88,318.6 L601.76,318.6 L602.65,318.6 L603.54,318.6 L604.42,318.6 L605.31,318.6 L606.2,318.6 L607.08,318.6 L607.97,318.6 L608.86,318.6 L609.75,318.6 L610.63,318.6 L611.52,318.6 L612.41,318.6 L613.29,318.6 L614.18,318.6 L615.07,318.6 L615.95,318.6 L616.84,318.6 L617.73,318.6 L618.62,318.6 L619.5,318.6 L620.39,318.6 L621.28,318.6 L622.16,318.6 L623.05,318.6 L623.94,318.6 L624.82,318.6 L625.71,318.6 L626.6,318.6 L627.49,318.6 L628.37,318.6 L629.26,318.6 L630.15,318.6 L631.03,318.6 L631.92,318.6 L632.81,318.6 L633.69,318.6 L634.58,318.6 L635.47,318.6 L636.36,318.6 L637.24,318.6 L638.13,318.6 L639.02,318.6 L639.9,318.6 L640.79,318.6 L641.68,318.6 L642.56,318.6 L643.45,318.6 L644.34,318.6 L645.23,318.6 L646.11,318.6 L647,318.6 L647.89,318.6 L648.77,318.6 L649.66,318.6 L650.55,318.6 L651.43,318.6 L652.32,318.6 L653.21,318.6 L654.1,318.6 L654.98,318.6 L655.87,318.6 L656.76,318.6 L657.64,318.6 L658.53,318.6 L659.42,318.6 L660.3,318.6 L661.19,318.6 L662.08,318.6 L662.97,318.6 L663.85,318.6 L664.74,318.6 L665.63,318.6 L666.51,318.6 L667.4,318.6 L667.4,318.6 Z" fill="#cef0e4" style="mix-blend-mode:multiply"/>
<path d="M490,318.6 L490,318.5 L490.89,318.48 L491.77,318.45 L492.66,318.42 L493.55,318.38 L494.44,318.34 L495.32,318.29 L496.21,318.23 L497.1,318.16 L497.98,318.08 L498.87,317.99 L499.76,317.88 L500.64,317.76 L501.53,317.61 L502.42,317.44 L503.31,317.25 L504.19,317.03 L505.08,316.78 L505.97,316.49 L506.85,316.17 L507.74,315.8 L508.63,315.39 L509.51,314.92 L510.4,314.39 L511.29,313.81 L512.17,313.16 L513.06,312.43 L513.95,311.62 L514.84,310.73 L515.72,309.75 L516.61,308.68 L517.5,307.5 L518.38,306.22 L519.27,304.82 L520.16,303.3 L521.04,301.66 L521.93,299.89 L522.82,298 L523.71,295.97 L524.59,293.8 L525.48,291.5 L526.37,289.06 L527.25,286.49 L528.14,283.78 L529.03,280.94 L529.91,277.98 L530.8,274.9 L531.69,271.7 L532.58,268.41 L533.46,265.02 L534.35,261.55 L535.24,258.01 L536.12,254.42 L537.01,250.8 L537.9,247.16 L538.78,243.52 L539.67,239.9 L540.56,236.31 L541.45,232.79 L542.33,229.35 L543.22,226.01 L544.11,222.8 L544.99,219.74 L545.88,216.84 L546.77,214.13 L547.65,211.62 L548.54,209.34 L549.43,207.31 L550.32,205.52 L551.2,204.01 L552.09,202.78 L552.98,201.85 L553.86,201.21 L554.75,200.87 L555.64,200.84 L556.52,201.11 L557.41,201.69 L558.3,202.57 L559.19,203.74 L560.07,205.2 L560.96,206.93 L561.85,208.92 L562.73,211.15 L563.62,213.61 L564.51,216.28 L565.39,219.14 L566.28,222.18 L567.17,225.36 L568.06,228.67 L568.94,232.1 L569.83,235.6 L570.72,239.17 L571.6,242.79 L572.49,246.43 L573.38,250.07 L574.26,253.7 L575.15,257.3 L576.04,260.85 L576.93,264.33 L577.81,267.74 L578.7,271.05 L579.59,274.27 L580.47,277.37 L581.36,280.36 L582.25,283.22 L583.13,285.96 L584.02,288.56 L584.91,291.02 L585.8,293.35 L586.68,295.55 L587.57,297.6 L588.46,299.53 L589.34,301.32 L590.23,302.98 L591.12,304.52 L592,305.94 L592.89,307.25 L593.78,308.45 L594.67,309.55 L595.55,310.55 L596.44,311.45 L597.33,312.27 L598.21,313.02 L599.1,313.68 L599.99,314.28 L600.88,314.82 L601.76,315.3 L602.65,315.72 L603.54,316.1 L604.42,316.43 L605.31,316.72 L606.2,316.98 L607.08,317.21 L607.97,317.41 L608.86,317.58 L609.75,317.73 L610.63,317.86 L611.52,317.97 L612.41,318.07 L613.29,318.15 L614.18,318.22 L615.07,318.28 L615.95,318.33 L616.84,318.38 L617.73,318.41 L618.62,318.45 L619.5,318.47 L620.39,318.49 L621.28,318.51 L622.16,318.53 L623.05,318.54 L623.94,318.55 L624.82,318.56 L625.71,318.57 L626.6,318.57 L627.49,318.58 L628.37,318.58 L629.26,318.59 L630.15,318.59 L631.03,318.59 L631.92,318.59 L632.81,318.59 L633.69,318.6 L634.58,318.6 L635.47,318.6 L636.36,318.6 L637.24,318.6 L638.13,318.6 L639.02,318.6 L639.9,318.6 L640.79,318.6 L641.68,318.6 L642.56,318.6 L643.45,318.6 L644.34,318.6 L645.23,318.6 L646.11,318.6 L647,318.6 L647.89,318.6 L648.77,318.6 L649.66,318.6 L650.55,318.6 L651.43,318.6 L652.32,318.6 L653.21,318.6 L654.1,318.6 L654.98,318.6 L655.87,318.6 L656.76,318.6 L657.64,318.6 L658.53,318.6 L659.42,318.6 L660.3,318.6 L661.19,318.6 L662.08,318.6 L662.97,318.6 L663.85,318.6 L664.74,318.6 L665.63,318.6 L666.51,318.6 L667.4,318.6 L667.4,318.6 Z" fill="#cdeae9" style="mix-blend-mode:multiply"/>
<polyline points="512.71,223.81 513.12,222.48 513.53,221.17 513.94,219.87 514.35,218.59 514.75,217.33 515.16,216.08 515.57,214.85 515.98,213.64 516.39,212.45 516.8,211.28 517.21,210.13 517.62,209 518.03,207.88 518.44,206.77 518.85,205.65 519.26,204.56 519.67,203.48 520.08,202.43 520.49,201.41 520.9,200.43 521.31,199.51 521.72,198.63 522.13,197.82 522.54,197.02 522.94,196.22 523.35,195.43 523.76,194.66 524.17,193.92 524.58,193.2 524.99,192.51 525.4,191.85 525.81,191.24 526.22,190.67 526.63,190.16 527.04,189.69 527.45,189.29 527.86,188.95 528.27,188.62 528.68,188.3 529.09,188 529.5,187.71 529.91,187.44 530.32,187.18 530.73,186.94 531.13,186.72 531.54,186.53 531.95,186.35 532.36,186.2 532.77,186.07 533.18,185.96 533.59,185.88 534,185.8 534.41,185.72 534.82,185.64 535.23,185.56 535.64,185.49 536.05,185.43 536.46,185.36 536.87,185.3 537.28,185.24 537.69,185.19 538.1,185.14 538.51,185.1 538.92,185.06 539.32,185.03 539.73,185 540.14,184.97 540.55,184.96 540.96,184.94 541.37,184.94 541.78,184.94 542.19,184.94 542.6,184.94 543.01,184.95 543.42,184.96 543.83,184.97 544.24,184.98 544.65,184.99 545.06,185.01 545.47,185.03 545.88,185.05 546.29,185.07 546.7,185.09 547.11,185.11 547.51,185.14 547.92,185.18 548.33,185.24 548.74,185.32 549.15,185.42 549.56,185.53 549.97,185.66 550.38,185.81 550.79,185.96 551.2,186.13 551.61,186.31 552.02,186.49 552.43,186.68 552.84,186.88 553.25,187.08 553.66,187.31 554.07,187.57 554.48,187.86 554.89,188.18 555.3,188.52 555.7,188.9 556.11,189.3 556.52,189.74 556.93,190.2 557.34,190.7 557.75,191.25 558.16,191.88 558.57,192.6 558.98,193.42 559.39,194.35 559.8,195.41 560.21,196.65 560.62,198.58 561.03,200.87 561.44,202.99 561.85,204.72" fill="none" stroke="#111" stroke-width="2.0" stroke-dasharray="0.8 3.7" stroke-linecap="round"/>
<polygon points="492.22,317.8 492.22,304.43 493.08,302.8 493.95,301.04 494.81,299.13 495.68,297.09 496.54,294.91 497.41,292.58 498.27,290.12 499.14,287.52 500,284.78 500.87,281.91 501.73,278.93 502.6,275.83 503.46,272.63 504.33,269.34 505.19,265.98 506.05,262.57 506.92,259.11 507.78,255.64 508.65,252.16 509.51,248.71 510.38,245.31 511.24,241.97 512.11,238.73 512.97,235.61 513.84,232.63 514.7,229.81 515.57,227.18 516.43,224.77 517.3,222.58 518.16,220.65 519.03,218.98 519.89,217.6 520.76,216.5 521.62,215.72 522.49,215.24 523.35,215.09 524.22,215.24 525.08,215.72 525.95,216.5 526.81,217.6 527.68,218.98 528.54,220.65 529.4,222.58 530.27,224.77 531.13,227.18 532,229.81 532.86,232.63 533.73,235.61 534.59,238.73 535.46,241.97 536.32,245.31 537.19,248.71 538.05,252.16 538.92,255.64 539.78,259.11 540.65,262.57 541.51,265.98 542.38,269.34 543.24,272.63 544.11,275.83 544.97,278.93 545.84,281.91 546.7,284.78 547.57,287.52 548.43,290.12 549.3,292.58 550.16,294.91 551.03,297.09 551.89,299.13 552.76,301.04 553.62,302.8 554.48,304.43 555.35,305.93 556.21,307.31 557.08,308.57 557.94,309.71 558.81,310.75 559.67,311.69 560.54,312.54 561.4,313.29 562.27,313.97 563.13,314.57 564,315.11 564.86,315.58 565.73,316 566.59,316.37 567.46,316.69 568.32,316.97 569.19,317.21 570.05,317.42 570.92,317.6 571.78,317.76 572.65,317.8 573.51,317.8 574.38,317.8 575.24,317.8 576.11,317.8 576.97,317.8 577.84,317.8 578.7,317.8 579.56,317.8 580.43,317.8 581.29,317.8 582.16,317.8 583.02,317.8 583.89,317.8 584.75,317.8 585.62,317.8 586.48,317.8 587.35,317.8 588.21,317.8 589.08,317.8 589.94,317.8 590.81,317.8 591.67,317.8 592.54,317.8 593.4,317.8 594.27,317.8 595.13,317.8 596,317.8 596.86,317.8 597.73,317.8 598.59,317.8 599.46,317.8 600.32,317.8 601.19,317.8 602.05,317.8 602.92,317.8 603.78,317.8 604.64,317.8 605.51,317.8 606.37,317.8 607.24,317.8 608.1,317.8 608.97,317.8 609.83,317.8 610.7,317.8 611.56,317.8 612.43,317.8 613.29,317.8 614.16,317.8 615.02,317.8 615.89,317.8 616.75,317.8 617.62,317.8 618.48,317.8 619.35,317.8 620.21,317.8 621.08,317.8 621.94,317.8 622.81,317.8 623.67,317.8 624.54,317.8 625.4,317.8 626.27,317.8 627.13,317.8 628,317.8 628.86,317.8 629.72,317.8 630.59,317.8 631.45,317.8 632.32,317.8 633.18,317.8 634.05,317.8 634.91,317.8 635.78,317.8 636.64,317.8 637.51,317.8 638.37,317.8 639.24,317.8 640.1,317.8 640.97,317.8 641.83,317.8 642.7,317.8 643.56,317.8 644.43,317.8 645.29,317.8 646.16,317.8 647.02,317.8 647.89,317.8 648.75,317.8 649.62,317.8 650.48,317.8 651.35,317.8 652.21,317.8 653.07,317.8 653.94,317.8 654.8,317.8 655.67,317.8 656.53,317.8 657.4,317.8 658.26,317.8 659.13,317.8 659.99,317.8 660.86,317.8 661.72,317.8 662.59,317.8 663.45,317.8 664.32,317.8 665.18,317.8 665.18,317.8" fill="none" stroke="#00955f" stroke-width="3.6" stroke-linejoin="round" clip-path="url(#Cclip)"/>
<polygon points="492.22,317.8 492.22,317.8 493.08,317.8 493.95,317.8 494.81,317.8 495.68,317.8 496.54,317.8 497.41,317.8 498.27,317.8 499.14,317.8 500,317.8 500.87,317.72 501.73,317.58 502.6,317.41 503.46,317.21 504.33,316.99 505.19,316.75 506.05,316.46 506.92,316.14 507.78,315.78 508.65,315.37 509.51,314.92 510.38,314.41 511.24,313.84 512.11,313.21 512.97,312.5 513.84,311.73 514.7,310.87 515.57,309.93 516.43,308.9 517.3,307.77 518.16,306.55 519.03,305.21 519.89,303.77 520.76,302.21 521.62,300.53 522.49,298.72 523.35,296.8 524.22,294.74 525.08,292.55 525.95,290.24 526.81,287.79 527.68,285.22 528.54,282.52 529.4,279.7 530.27,276.76 531.13,273.71 532,270.56 532.86,267.31 533.73,263.98 534.59,260.58 535.46,257.12 536.32,253.61 537.19,250.07 538.05,246.52 538.92,242.97 539.78,239.44 540.65,235.96 541.51,232.53 542.38,229.18 543.24,225.93 544.11,222.8 544.97,219.81 545.84,216.98 546.7,214.32 547.57,211.86 548.43,209.62 549.3,207.6 550.16,205.82 551.03,204.29 551.89,203.04 552.76,202.05 553.62,201.35 554.48,200.94 555.35,200.81 556.21,200.98 557.08,201.44 557.94,202.19 558.81,203.21 559.67,204.51 560.54,206.07 561.4,207.89 562.27,209.95 563.13,212.23 564,214.72 564.86,217.4 565.73,220.26 566.59,223.28 567.46,226.42 568.32,229.69 569.19,233.05 570.05,236.49 570.92,239.99 571.78,243.52 572.65,247.07 573.51,250.62 574.38,254.15 575.24,257.66 576.11,261.11 576.97,264.5 577.84,267.82 578.7,271.05 579.56,274.19 580.43,277.22 581.29,280.14 582.16,282.94 583.02,285.62 583.89,288.18 584.75,290.6 585.62,292.9 586.48,295.06 587.35,297.1 588.21,299.01 589.08,300.79 589.94,302.46 590.81,304 591.67,305.43 592.54,306.74 593.4,307.95 594.27,309.07 595.13,310.08 596,311.01 596.86,311.85 597.73,312.62 598.59,313.31 599.46,313.93 600.32,314.49 601.19,314.99 602.05,315.44 602.92,315.84 603.78,316.19 604.64,316.51 605.51,316.79 606.37,317.03 607.24,317.25 608.1,317.43 608.97,317.6 609.83,317.74 610.7,317.8 611.56,317.8 612.43,317.8 613.29,317.8 614.16,317.8 615.02,317.8 615.89,317.8 616.75,317.8 617.62,317.8 618.48,317.8 619.35,317.8 620.21,317.8 621.08,317.8 621.94,317.8 622.81,317.8 623.67,317.8 624.54,317.8 625.4,317.8 626.27,317.8 627.13,317.8 628,317.8 628.86,317.8 629.72,317.8 630.59,317.8 631.45,317.8 632.32,317.8 633.18,317.8 634.05,317.8 634.91,317.8 635.78,317.8 636.64,317.8 637.51,317.8 638.37,317.8 639.24,317.8 640.1,317.8 640.97,317.8 641.83,317.8 642.7,317.8 643.56,317.8 644.43,317.8 645.29,317.8 646.16,317.8 647.02,317.8 647.89,317.8 648.75,317.8 649.62,317.8 650.48,317.8 651.35,317.8 652.21,317.8 653.07,317.8 653.94,317.8 654.8,317.8 655.67,317.8 656.53,317.8 657.4,317.8 658.26,317.8 659.13,317.8 659.99,317.8 660.86,317.8 661.72,317.8 662.59,317.8 663.45,317.8 664.32,317.8 665.18,317.8 665.18,317.8" fill="none" stroke="#008884" stroke-width="3.6" stroke-linejoin="round" clip-path="url(#Cclip)"/>
<line x1="490" y1="168.2" x2="490" y2="319.6" stroke="#000" stroke-width="2"/>
<line x1="489" y1="318.6" x2="668.4" y2="318.6" stroke="#000" stroke-width="2"/>
<line x1="486.5" y1="318.6" x2="490" y2="318.6" stroke="#000" stroke-width="1.2"/>
<line x1="487" y1="308.55" x2="490" y2="308.55" stroke="#000" stroke-width="1.2"/>
<line x1="487" y1="298.5" x2="490" y2="298.5" stroke="#000" stroke-width="1.2"/>
<line x1="487" y1="288.45" x2="490" y2="288.45" stroke="#000" stroke-width="1.2"/>
<line x1="486.5" y1="278.4" x2="490" y2="278.4" stroke="#000" stroke-width="1.2"/>
<line x1="487" y1="268.35" x2="490" y2="268.35" stroke="#000" stroke-width="1.2"/>
<line x1="487" y1="258.3" x2="490" y2="258.3" stroke="#000" stroke-width="1.2"/>
<line x1="487" y1="248.25" x2="490" y2="248.25" stroke="#000" stroke-width="1.2"/>
<line x1="486.5" y1="238.2" x2="490" y2="238.2" stroke="#000" stroke-width="1.2"/>
<line x1="487" y1="228.15" x2="490" y2="228.15" stroke="#000" stroke-width="1.2"/>
<line x1="487" y1="218.1" x2="490" y2="218.1" stroke="#000" stroke-width="1.2"/>
<line x1="487" y1="208.05" x2="490" y2="208.05" stroke="#000" stroke-width="1.2"/>
<line x1="486.5" y1="198" x2="490" y2="198" stroke="#000" stroke-width="1.2"/>
<line x1="487" y1="187.95" x2="490" y2="187.95" stroke="#000" stroke-width="1.2"/>
<line x1="487" y1="177.9" x2="490" y2="177.9" stroke="#000" stroke-width="1.2"/>
<line x1="490" y1="318.6" x2="490" y2="322.1" stroke="#000" stroke-width="1.2"/>
<line x1="507.74" y1="318.6" x2="507.74" y2="321.6" stroke="#000" stroke-width="1.2"/>
<line x1="525.48" y1="318.6" x2="525.48" y2="322.1" stroke="#000" stroke-width="1.2"/>
<line x1="543.22" y1="318.6" x2="543.22" y2="321.6" stroke="#000" stroke-width="1.2"/>
<line x1="560.96" y1="318.6" x2="560.96" y2="322.1" stroke="#000" stroke-width="1.2"/>
<line x1="578.7" y1="318.6" x2="578.7" y2="321.6" stroke="#000" stroke-width="1.2"/>
<line x1="596.44" y1="318.6" x2="596.44" y2="322.1" stroke="#000" stroke-width="1.2"/>
<line x1="614.18" y1="318.6" x2="614.18" y2="321.6" stroke="#000" stroke-width="1.2"/>
<line x1="631.92" y1="318.6" x2="631.92" y2="322.1" stroke="#000" stroke-width="1.2"/>
<line x1="649.66" y1="318.6" x2="649.66" y2="321.6" stroke="#000" stroke-width="1.2"/>
<line x1="667.4" y1="318.6" x2="667.4" y2="322.1" stroke="#000" stroke-width="1.2"/>
<text x="486.4" y="200.5" font-size="12" font-weight="normal" text-anchor="end" fill="#111" >0.06</text>
<text x="486.4" y="240.7" font-size="12" font-weight="normal" text-anchor="end" fill="#111" >0.04</text>
<text x="486.4" y="280.9" font-size="12" font-weight="normal" text-anchor="end" fill="#111" >0.02</text>
<text x="486.4" y="321.1" font-size="12" font-weight="normal" text-anchor="end" fill="#111" >0.00</text>
<text x="493.8" y="332.5" font-size="12" font-weight="normal" text-anchor="middle" fill="#111" >0.0</text>
<text x="529.28" y="332.5" font-size="12" font-weight="normal" text-anchor="middle" fill="#111" >0.2</text>
<text x="564.76" y="332.5" font-size="12" font-weight="normal" text-anchor="middle" fill="#111" >0.4</text>
<text x="600.24" y="332.5" font-size="12" font-weight="normal" text-anchor="middle" fill="#111" >0.6</text>
<text x="635.72" y="332.5" font-size="12" font-weight="normal" text-anchor="middle" fill="#111" >0.8</text>
<text x="671.2" y="332.5" font-size="12" font-weight="normal" text-anchor="middle" fill="#111" >1.0</text>
<text transform="translate(461.6,243.1) rotate(-90)" font-size="12.3" font-weight="bold" text-anchor="middle" fill="#111">normalized frames</text>
<text x="579.8" y="344.3" font-size="11.3" font-weight="bold" text-anchor="middle" fill="#111" >FRET efficiency (E)</text>
<text x="594.3" y="186.8" font-size="12" fill="#13946a">E<tspan font-size="7.4" dy="3.7">1</tspan><tspan dy="-3.7" dx="-0.2" font-size="11.6"> = 0.19</tspan></text>
<text x="594.3" y="201.1" font-size="12" fill="#11888f">E<tspan font-size="7.4" dy="3.7">2</tspan><tspan dy="-3.7" dx="-0.2" font-size="11.6"> = 0.37</tspan></text>
<rect x="53.85" y="441.15" width="36.55" height="89.65" fill="#c8c9c8" stroke="#3c3c3c" stroke-width="2.1"/>
<rect x="111.65" y="482.95" width="36.8" height="47.85" fill="#c8c9c8" stroke="#3c3c3c" stroke-width="2.1"/>
<rect x="169.45" y="512.25" width="36.8" height="18.55" fill="#c8c9c8" stroke="#3c3c3c" stroke-width="2.1"/>
<line x1="72.3" y1="423.2" x2="72.3" y2="459" stroke="#3c3c3c" stroke-width="2.1"/>
<line x1="62" y1="423.2" x2="82.1" y2="423.2" stroke="#3c3c3c" stroke-width="2.1"/>
<line x1="62" y1="459" x2="82.1" y2="459" stroke="#3c3c3c" stroke-width="2.1"/>
<line x1="129.6" y1="475.9" x2="129.6" y2="489.9" stroke="#3c3c3c" stroke-width="2.1"/>
<line x1="119.8" y1="475.9" x2="140" y2="475.9" stroke="#3c3c3c" stroke-width="2.1"/>
<line x1="119.8" y1="489.9" x2="140" y2="489.9" stroke="#3c3c3c" stroke-width="2.1"/>
<line x1="188.1" y1="510.6" x2="188.1" y2="513.6" stroke="#3c3c3c" stroke-width="2.1"/>
<line x1="178.1" y1="510.6" x2="198.1" y2="510.6" stroke="#3c3c3c" stroke-width="2.1"/>
<line x1="178.1" y1="513.6" x2="198.1" y2="513.6" stroke="#3c3c3c" stroke-width="2.1"/>
<path d="M72.7,419.9 L75.6,422.8 L72.7,425.7 L69.8,422.8 Z" fill="#999" fill-opacity="0.85"/>
<path d="M70.1,428.1 L73,431 L70.1,433.9 L67.2,431 Z" fill="#999" fill-opacity="0.85"/>
<path d="M73,444.2 L75.9,447.1 L73,450 L70.1,447.1 Z" fill="#999" fill-opacity="0.85"/>
<path d="M70.8,460.2 L73.7,463.1 L70.8,466 L67.9,463.1 Z" fill="#999" fill-opacity="0.85"/>
<path d="M129.1,471.4 L132,474.3 L129.1,477.2 L126.2,474.3 Z" fill="#999" fill-opacity="0.85"/>
<path d="M124.3,483.8 L127.2,486.7 L124.3,489.6 L121.4,486.7 Z" fill="#999" fill-opacity="0.85"/>
<path d="M127.5,484.3 L130.4,487.2 L127.5,490.1 L124.6,487.2 Z" fill="#999" fill-opacity="0.85"/>
<path d="M184.5,511.1 L187.4,514 L184.5,516.9 L181.6,514 Z" fill="#999" fill-opacity="0.85"/>
<path d="M186.9,507.1 L189.8,510 L186.9,512.9 L184,510 Z" fill="#999" fill-opacity="0.85"/>
<path d="M191.7,508.3 L194.6,511.2 L191.7,514.1 L188.8,511.2 Z" fill="#999" fill-opacity="0.85"/>
<line x1="43" y1="391" x2="43" y2="531.8" stroke="#000" stroke-width="2"/>
<line x1="39.6" y1="530.8" x2="218.5" y2="530.8" stroke="#000" stroke-width="2"/>
<line x1="39" y1="530.8" x2="43" y2="530.8" stroke="#000" stroke-width="1.3"/>
<line x1="40" y1="510.82" x2="43" y2="510.82" stroke="#000" stroke-width="1.3"/>
<line x1="39" y1="490.85" x2="43" y2="490.85" stroke="#000" stroke-width="1.3"/>
<line x1="40" y1="470.87" x2="43" y2="470.87" stroke="#000" stroke-width="1.3"/>
<line x1="39" y1="450.9" x2="43" y2="450.9" stroke="#000" stroke-width="1.3"/>
<line x1="40" y1="430.92" x2="43" y2="430.92" stroke="#000" stroke-width="1.3"/>
<line x1="39" y1="410.95" x2="43" y2="410.95" stroke="#000" stroke-width="1.3"/>
<line x1="40" y1="390.97" x2="43" y2="390.97" stroke="#000" stroke-width="1.3"/>
<text x="34" y="533" font-size="12" font-weight="normal" text-anchor="end" fill="#111" >0</text>
<text x="36.9" y="493.05" font-size="12" font-weight="normal" text-anchor="end" fill="#111" >10</text>
<text x="36.9" y="453.1" font-size="12" font-weight="normal" text-anchor="end" fill="#111" >20</text>
<text x="36.9" y="413.15" font-size="12" font-weight="normal" text-anchor="end" fill="#111" >30</text>
<text x="73.3" y="544.6" font-size="11.5" font-weight="bold" text-anchor="middle" fill="#111" >apo</text>
<text x="73.3" y="558.7" font-size="11.5" font-weight="bold" text-anchor="middle" fill="#111" >enzyme</text>
<text x="129.3" y="544.6" font-size="11.5" font-weight="bold" text-anchor="middle" fill="#111" >binary</text>
<text x="129.3" y="558.7" font-size="11.5" font-weight="bold" text-anchor="middle" fill="#111" >complex</text>
<text x="183.2" y="544.6" font-size="11.5" font-weight="bold" text-anchor="middle" fill="#111" >ternary</text>
<text x="183.2" y="558.7" font-size="11.5" font-weight="bold" text-anchor="middle" fill="#111" >complex</text>
<text transform="translate(19.3,454.6) rotate(-90)" font-size="12" font-weight="bold" text-anchor="middle" fill="#111">dynamic molecules (%)</text>
<text x="341.3" y="373" font-size="12.6" font-weight="bold" text-anchor="middle" fill="#333" >dynamic FRET transitions</text>
<text x="341.3" y="388.1" font-size="12.6" font-weight="bold" text-anchor="middle" fill="#333" >of the apo enzyme</text>
<rect x="267.6" y="416.9" width="131.3" height="117.1" fill="#fff" stroke="#222" stroke-width="1.1"/>
<rect x="272.2" y="421.8" width="120.8" height="107.7" fill="#000" rx="1"/>
<rect x="317.09" y="431.94" width="9.94" height="8.87" fill="#151515"/>
<rect x="328.03" y="431.94" width="9.94" height="8.87" fill="#121212"/>
<rect x="306.15" y="441.81" width="9.94" height="8.87" fill="#272727"/>
<rect x="328.03" y="441.81" width="9.94" height="8.87" fill="#1c1c1c"/>
<rect x="295.21" y="451.68" width="9.94" height="8.87" fill="#161616"/>
<rect x="306.15" y="451.68" width="9.94" height="8.87" fill="#8e8e8e"/>
<rect x="317.09" y="451.68" width="9.94" height="8.87" fill="#1c1c1c"/>
<rect x="328.03" y="451.68" width="9.94" height="8.87" fill="#c0c0c0"/>
<rect x="338.97" y="451.68" width="9.94" height="8.87" fill="#8a8a8a"/>
<rect x="349.91" y="451.68" width="9.94" height="8.87" fill="#101010"/>
<rect x="295.21" y="461.55" width="9.94" height="8.87" fill="#3c3c3c"/>
<rect x="306.15" y="461.55" width="9.94" height="8.87" fill="#7a7a7a"/>
<rect x="317.09" y="461.55" width="9.94" height="8.87" fill="#6a6a6a"/>
<rect x="328.03" y="461.55" width="9.94" height="8.87" fill="#1c1c1c"/>
<rect x="349.91" y="461.55" width="9.94" height="8.87" fill="#888888"/>
<rect x="284.27" y="471.42" width="9.94" height="8.87" fill="#1c1c1c"/>
<rect x="295.21" y="471.42" width="9.94" height="8.87" fill="#888888"/>
<rect x="306.15" y="471.42" width="9.94" height="8.87" fill="#585858"/>
<rect x="338.97" y="471.42" width="9.94" height="8.87" fill="#1c1c1c"/>
<rect x="349.91" y="471.42" width="9.94" height="8.87" fill="#c0c0c0"/>
<rect x="360.85" y="471.42" width="9.94" height="8.87" fill="#1e1e1e"/>
<rect x="371.79" y="471.42" width="9.94" height="8.87" fill="#141414"/>
<rect x="284.27" y="481.29" width="9.94" height="8.87" fill="#1a1a1a"/>
<rect x="295.21" y="481.29" width="9.94" height="8.87" fill="#fafafa"/>
<rect x="306.15" y="481.29" width="9.94" height="8.87" fill="#686868"/>
<rect x="328.03" y="481.29" width="9.94" height="8.87" fill="#0e0e0e"/>
<rect x="338.97" y="481.29" width="9.94" height="8.87" fill="#606060"/>
<rect x="349.91" y="481.29" width="9.94" height="8.87" fill="#181818"/>
<rect x="371.79" y="481.29" width="9.94" height="8.87" fill="#101010"/>
<rect x="284.27" y="491.16" width="9.94" height="8.87" fill="#555555"/>
<rect x="317.09" y="491.16" width="9.94" height="8.87" fill="#5e5e5e"/>
<rect x="328.03" y="491.16" width="9.94" height="8.87" fill="#555555"/>
<rect x="338.97" y="491.16" width="9.94" height="8.87" fill="#7a7a7a"/>
<rect x="349.91" y="491.16" width="9.94" height="8.87" fill="#8a8a8a"/>
<rect x="360.85" y="491.16" width="9.94" height="8.87" fill="#333333"/>
<rect x="317.09" y="501.03" width="9.94" height="8.87" fill="#fcfcfc"/>
<rect x="328.03" y="501.03" width="9.94" height="8.87" fill="#7a7a7a"/>
<rect x="338.97" y="501.03" width="9.94" height="8.87" fill="#2c2c2c"/>
<rect x="349.91" y="501.03" width="9.94" height="8.87" fill="#2a2a2a"/>
<rect x="306.15" y="510.9" width="9.94" height="8.87" fill="#555555"/>
<rect x="317.09" y="510.9" width="9.94" height="8.87" fill="#181818"/>
<rect x="328.03" y="510.9" width="9.94" height="8.87" fill="#111111"/>
<line x1="278.3" y1="417.4" x2="278.3" y2="419.2" stroke="#222" stroke-width="1.1"/>
<line x1="278.3" y1="533.5" x2="278.3" y2="531.7" stroke="#222" stroke-width="1.1"/>
<line x1="268.1" y1="525.2" x2="269.9" y2="525.2" stroke="#222" stroke-width="1.1"/>
<line x1="398.4" y1="525.2" x2="396.6" y2="525.2" stroke="#222" stroke-width="1.1"/>
<line x1="300.18" y1="417.4" x2="300.18" y2="419.2" stroke="#222" stroke-width="1.1"/>
<line x1="300.18" y1="533.5" x2="300.18" y2="531.7" stroke="#222" stroke-width="1.1"/>
<line x1="268.1" y1="505.46" x2="269.9" y2="505.46" stroke="#222" stroke-width="1.1"/>
<line x1="398.4" y1="505.46" x2="396.6" y2="505.46" stroke="#222" stroke-width="1.1"/>
<line x1="322.06" y1="417.4" x2="322.06" y2="419.2" stroke="#222" stroke-width="1.1"/>
<line x1="322.06" y1="533.5" x2="322.06" y2="531.7" stroke="#222" stroke-width="1.1"/>
<line x1="268.1" y1="485.72" x2="269.9" y2="485.72" stroke="#222" stroke-width="1.1"/>
<line x1="398.4" y1="485.72" x2="396.6" y2="485.72" stroke="#222" stroke-width="1.1"/>
<line x1="343.94" y1="417.4" x2="343.94" y2="419.2" stroke="#222" stroke-width="1.1"/>
<line x1="343.94" y1="533.5" x2="343.94" y2="531.7" stroke="#222" stroke-width="1.1"/>
<line x1="268.1" y1="465.98" x2="269.9" y2="465.98" stroke="#222" stroke-width="1.1"/>
<line x1="398.4" y1="465.98" x2="396.6" y2="465.98" stroke="#222" stroke-width="1.1"/>
<line x1="365.82" y1="417.4" x2="365.82" y2="419.2" stroke="#222" stroke-width="1.1"/>
<line x1="365.82" y1="533.5" x2="365.82" y2="531.7" stroke="#222" stroke-width="1.1"/>
<line x1="268.1" y1="446.24" x2="269.9" y2="446.24" stroke="#222" stroke-width="1.1"/>
<line x1="398.4" y1="446.24" x2="396.6" y2="446.24" stroke="#222" stroke-width="1.1"/>
<line x1="387.7" y1="417.4" x2="387.7" y2="419.2" stroke="#222" stroke-width="1.1"/>
<line x1="387.7" y1="533.5" x2="387.7" y2="531.7" stroke="#222" stroke-width="1.1"/>
<line x1="268.1" y1="426.5" x2="269.9" y2="426.5" stroke="#222" stroke-width="1.1"/>
<line x1="398.4" y1="426.5" x2="396.6" y2="426.5" stroke="#222" stroke-width="1.1"/>
<text x="278.9" y="547" font-size="12.6" font-weight="normal" text-anchor="middle" fill="#333" >0</text>
<text x="303.8" y="547" font-size="12.6" font-weight="normal" text-anchor="middle" fill="#333" >0.2</text>
<text x="325.3" y="547" font-size="12.6" font-weight="normal" text-anchor="middle" fill="#333" >0.4</text>
<text x="346.7" y="547" font-size="12.6" font-weight="normal" text-anchor="middle" fill="#333" >0.6</text>
<text x="369.2" y="547" font-size="12.6" font-weight="normal" text-anchor="middle" fill="#333" >0.8</text>
<text x="387.2" y="547" font-size="12.6" font-weight="normal" text-anchor="middle" fill="#333" >1</text>
<text x="254.9" y="430" font-size="12.6" font-weight="normal" text-anchor="middle" fill="#333" >1</text>
<text x="254.9" y="450.6" font-size="12.6" font-weight="normal" text-anchor="middle" fill="#333" >0.8</text>
<text x="254.9" y="470.3" font-size="12.6" font-weight="normal" text-anchor="middle" fill="#333" >0.6</text>
<text x="254.9" y="489.8" font-size="12.6" font-weight="normal" text-anchor="middle" fill="#333" >0.4</text>
<text x="254.9" y="509" font-size="12.6" font-weight="normal" text-anchor="middle" fill="#333" >0.2</text>
<text x="254.9" y="528.5" font-size="12.6" font-weight="normal" text-anchor="middle" fill="#333" >0</text>
<text transform="translate(240.4,467.3) rotate(-90)" font-size="12.6" font-weight="bold" text-anchor="middle" fill="#333">FRET after transition</text>
<text x="340.5" y="565.4" font-size="12.6" font-weight="bold" text-anchor="middle" fill="#333" >FRET before transition</text>
<defs><linearGradient id="cb" x1="0" y1="0" x2="0" y2="1"><stop offset="0" stop-color="#fafafa"/><stop offset="1" stop-color="#000"/></linearGradient></defs>
<rect x="405.8" y="416.7" width="15.8" height="117.3" fill="url(#cb)" stroke="#222" stroke-width="1.1"/>
<line x1="421.6" y1="422.9" x2="419.6" y2="422.9" stroke="#222" stroke-width="1.1"/>
<text x="426.6" y="426" font-size="12.6" font-weight="normal" text-anchor="start" fill="#333" >35</text>
<line x1="421.6" y1="438.8" x2="419.6" y2="438.8" stroke="#222" stroke-width="1.1"/>
<text x="426.6" y="441.9" font-size="12.6" font-weight="normal" text-anchor="start" fill="#333" >30</text>
<line x1="421.6" y1="454.7" x2="419.6" y2="454.7" stroke="#222" stroke-width="1.1"/>
<text x="426.6" y="457.8" font-size="12.6" font-weight="normal" text-anchor="start" fill="#333" >25</text>
<line x1="421.6" y1="470.6" x2="419.6" y2="470.6" stroke="#222" stroke-width="1.1"/>
<text x="426.6" y="473.7" font-size="12.6" font-weight="normal" text-anchor="start" fill="#333" >20</text>
<line x1="421.6" y1="486.5" x2="419.6" y2="486.5" stroke="#222" stroke-width="1.1"/>
<text x="426.6" y="489.6" font-size="12.6" font-weight="normal" text-anchor="start" fill="#333" >15</text>
<line x1="421.6" y1="502.4" x2="419.6" y2="502.4" stroke="#222" stroke-width="1.1"/>
<text x="426.6" y="505.5" font-size="12.6" font-weight="normal" text-anchor="start" fill="#333" >10</text>
<line x1="421.6" y1="518.3" x2="419.6" y2="518.3" stroke="#222" stroke-width="1.1"/>
<text x="426.6" y="521.4" font-size="12.6" font-weight="normal" text-anchor="start" fill="#333" >5</text>
<line x1="421.6" y1="534.2" x2="419.6" y2="534.2" stroke="#222" stroke-width="1.1"/>
<text x="426.6" y="537.3" font-size="12.6" font-weight="normal" text-anchor="start" fill="#333" >0</text>
<text transform="translate(460.9,460.45) rotate(-90)" font-size="11.7" font-weight="bold" text-anchor="middle" fill="#111">normalized frames</text>
<polyline points="493,516.2 495.28,516.2 495.28,516.2 499.84,516.2 499.84,504.45 504.41,504.45 504.41,488.79 508.97,488.79 508.97,467.91 513.53,467.91 513.53,446.38 518.09,446.38 518.09,428.76 522.66,428.76 522.66,415.71 527.22,415.71 527.22,405.92 531.78,405.92 531.78,398.75 536.34,398.75 536.34,391.35 540.91,391.35 540.91,387.22 545.47,387.22 545.47,390.7 550.03,390.7 550.03,389.83 554.59,389.83 554.59,388.74 559.16,388.74 559.16,387.65 563.72,387.65 563.72,398.09 568.28,398.09 568.28,412.88 572.84,412.88 572.84,435.94 577.41,435.94 577.41,458.34 581.97,458.34 581.97,475.74 586.53,475.74 586.53,490.97 591.09,490.97 591.09,503.58 595.66,503.58 595.66,509.02 600.22,509.02 600.22,514.02 604.78,514.02 604.78,518.37 609.34,518.37 609.34,520.33 613.91,520.33 613.91,522.5 618.47,522.5 618.47,524.03 623.03,524.03 623.03,525.55 627.59,525.55 627.59,526.64 632.16,526.64 632.16,527.29 636.72,527.29 636.72,527.94 641.28,527.94 641.28,528.38 645.84,528.38 645.84,528.81 650.41,528.81 650.41,529.03 654.97,529.03 654.97,529.25 659.53,529.25 659.53,529.47 664.09,529.47 664.09,529.68 668.66,529.68 668.66,529.68 673.22,529.68 673.22,529.9 675.5,529.9" fill="none" stroke="#b9b9b9" stroke-width="2.1" stroke-linejoin="miter"/>
<polyline points="493,522.5 495.28,522.5 495.28,522.5 499.84,522.5 499.84,516.2 504.41,516.2 504.41,508.58 508.97,508.58 508.97,501.41 513.53,501.41 513.53,489.88 518.09,489.88 518.09,474.87 522.66,474.87 522.66,454.86 527.22,454.86 527.22,443.77 531.78,443.77 531.78,429.63 536.34,429.63 536.34,425.93 540.91,425.93 540.91,417.24 545.47,417.24 545.47,412.45 550.03,412.45 550.03,422.02 554.59,422.02 554.59,423.54 559.16,423.54 559.16,426.59 563.72,426.59 563.72,419.41 568.28,419.41 568.28,420.71 572.84,420.71 572.84,429.85 577.41,429.85 577.41,433.76 581.97,433.76 581.97,428.76 586.53,428.76 586.53,441.59 591.09,441.59 591.09,445.73 595.66,445.73 595.66,455.51 600.22,455.51 600.22,464.65 604.78,464.65 604.78,470.96 609.34,470.96 609.34,479.66 613.91,479.66 613.91,488.79 618.47,488.79 618.47,501.84 623.03,501.84 623.03,509.02 627.59,509.02 627.59,513.8 632.16,513.8 632.16,519.89 636.72,519.89 636.72,520.76 641.28,520.76 641.28,524.68 645.84,524.68 645.84,525.33 650.41,525.33 650.41,525.99 654.97,525.99 654.97,527.29 659.53,527.29 659.53,528.6 664.09,528.6 664.09,529.03 668.66,529.03 668.66,529.47 673.22,529.47 673.22,529.68 675.5,529.68" fill="none" stroke="#505050" stroke-width="2.1" stroke-linejoin="miter"/>
<line x1="493" y1="378.2" x2="493" y2="530.9" stroke="#000" stroke-width="2"/>
<line x1="492" y1="529.9" x2="676.5" y2="529.9" stroke="#000" stroke-width="2"/>
<line x1="489.5" y1="529.9" x2="493" y2="529.9" stroke="#000" stroke-width="1.2"/>
<line x1="490" y1="508.15" x2="493" y2="508.15" stroke="#000" stroke-width="1.2"/>
<line x1="489.5" y1="486.4" x2="493" y2="486.4" stroke="#000" stroke-width="1.2"/>
<line x1="490" y1="464.65" x2="493" y2="464.65" stroke="#000" stroke-width="1.2"/>
<line x1="489.5" y1="442.9" x2="493" y2="442.9" stroke="#000" stroke-width="1.2"/>
<line x1="490" y1="421.15" x2="493" y2="421.15" stroke="#000" stroke-width="1.2"/>
<line x1="489.5" y1="399.4" x2="493" y2="399.4" stroke="#000" stroke-width="1.2"/>
<line x1="490" y1="377.65" x2="493" y2="377.65" stroke="#000" stroke-width="1.2"/>
<line x1="493" y1="529.9" x2="493" y2="533.4" stroke="#000" stroke-width="1.2"/>
<line x1="511.25" y1="529.9" x2="511.25" y2="532.9" stroke="#000" stroke-width="1.2"/>
<line x1="529.5" y1="529.9" x2="529.5" y2="533.4" stroke="#000" stroke-width="1.2"/>
<line x1="547.75" y1="529.9" x2="547.75" y2="532.9" stroke="#000" stroke-width="1.2"/>
<line x1="566" y1="529.9" x2="566" y2="533.4" stroke="#000" stroke-width="1.2"/>
<line x1="584.25" y1="529.9" x2="584.25" y2="532.9" stroke="#000" stroke-width="1.2"/>
<line x1="602.5" y1="529.9" x2="602.5" y2="533.4" stroke="#000" stroke-width="1.2"/>
<line x1="620.75" y1="529.9" x2="620.75" y2="532.9" stroke="#000" stroke-width="1.2"/>
<line x1="639" y1="529.9" x2="639" y2="533.4" stroke="#000" stroke-width="1.2"/>
<line x1="657.25" y1="529.9" x2="657.25" y2="532.9" stroke="#000" stroke-width="1.2"/>
<line x1="675.5" y1="529.9" x2="675.5" y2="533.4" stroke="#000" stroke-width="1.2"/>
<text x="487.3" y="401.5" font-size="11.2" font-weight="normal" text-anchor="end" fill="#111" >0.06</text>
<text x="487.3" y="445" font-size="11.2" font-weight="normal" text-anchor="end" fill="#111" >0.04</text>
<text x="487.3" y="488.5" font-size="11.2" font-weight="normal" text-anchor="end" fill="#111" >0.02</text>
<text x="487.3" y="532" font-size="11.2" font-weight="normal" text-anchor="end" fill="#111" >0.00</text>
<text x="494.9" y="546" font-size="11.2" font-weight="normal" text-anchor="middle" fill="#111" >0.0</text>
<text x="531.4" y="546" font-size="11.2" font-weight="normal" text-anchor="middle" fill="#111" >0.2</text>
<text x="567.9" y="546" font-size="11.2" font-weight="normal" text-anchor="middle" fill="#111" >0.4</text>
<text x="604.4" y="546" font-size="11.2" font-weight="normal" text-anchor="middle" fill="#111" >0.6</text>
<text x="640.9" y="546" font-size="11.2" font-weight="normal" text-anchor="middle" fill="#111" >0.8</text>
<text x="677.4" y="546" font-size="11.2" font-weight="normal" text-anchor="middle" fill="#111" >1.0</text>
<text x="582.6" y="558.7" font-size="11.3" font-weight="bold" text-anchor="middle" fill="#111" >FRET efficiency (E)</text>
<line x1="577.6" y1="384.9" x2="596.9" y2="384.9" stroke="#505050" stroke-width="2.2"/>
<line x1="577.6" y1="394.7" x2="596.9" y2="394.7" stroke="#b9b9b9" stroke-width="2.2"/>
<text x="599.5" y="386" font-size="11.5" font-weight="normal" text-anchor="start" fill="#111" >apo enzyme</text>
<text x="599.5" y="398.7" font-size="11.5" font-weight="normal" text-anchor="start" fill="#111" >ternary complex</text>
<defs><radialGradient id="glow"><stop offset="0" stop-color="#000" stop-opacity="0.035"/><stop offset="1" stop-color="#000" stop-opacity="0"/></radialGradient></defs>
<path d="M142.28,81.28 L142.76,81.12 L143.15,80.82 L143.55,80.4 L144.01,79.97 L144.56,79.64 L145.18,79.45 L145.85,79.43 L146.59,79.68 L147.38,80.12 L148.15,80.35 L148.82,79.99 L149.38,79.2 L149.9,78.45 L150.48,77.98 L150.98,77.78 L151.57,77.68 L152.26,77.7 L153.01,77.76 L153.69,77.64 L154.2,77.15 L154.61,76.46 L155.12,75.95 L155.82,75.81 L156.61,75.89 L157.37,75.95 L158.05,75.91 L158.64,75.75 L159.11,75.37 L159.5,74.74 L159.9,74.05 L160.39,73.54 L160.98,73.37 L161.77,73.68 L162.42,74.28 L162.97,74.81 L163.52,75.21 L164.11,75.52 L164.8,75.72 L165.53,75.86 L166.14,76.17 L166.49,76.77 L166.72,77.53 L167.07,78.16 L167.58,78.48 L168.48,78.46 L169.32,78.22 L170.04,77.98 L170.63,77.77 L171.13,77.68 L171.6,77.82 L172.15,78.24 L172.89,78.66 L173.7,78.65 L174.29,78.15 L174.76,77.49 L175.31,77.01 L175.92,76.78 L176.5,76.81 L177.08,77.13 L177.52,77.6 L177.81,78.06 L178.24,78.32 L179.18,78.57 L180.29,79.25 L180.5,79.75 L180.5,80.29 L180.33,80.88 L180.02,81.51 L179.62,82.15 L179.24,82.82 L179.14,83.49 L179.48,84.19 L179.94,84.9 L180.07,85.6 L179.8,86.29 L179.46,86.96 L179.29,87.61 L179.28,88.22 L179.42,88.78 L179.7,89.28 L180.07,89.67 L180.99,90.41 L181.24,90.89 L181.16,91.4 L181.07,92.05 L181.01,92.76 L181.08,93.49 L181.31,93.99 L181.71,94.47 L182.24,94.91 L182.86,95.31 L183.39,95.79 L183.6,96.45 L183.52,97.22 L183.49,97.92 L183.75,98.45 L184.34,98.97 L184.98,99.51 L185.45,100.13 L185.7,100.81 L185.65,101.53 L185.23,102.25 L184.62,102.89 L184.16,103.43 L184.1,104.04 L184.38,104.73 L184.62,105.45 L184.59,106.15 L184.31,106.78 L183.85,107.31 L183.21,107.72 L182.7,107.93 L182.22,108.2 L181.85,108.76 L181.55,109.56 L181.16,110.26 L180.56,110.55 L179.82,110.53 L179.05,110.46 L178.32,110.51 L177.65,110.74 L177.02,111.35 L176.91,112.2 L177.25,113.06 L177.57,113.83 L177.46,114.51 L176.99,115.05 L176.42,115.45 L175.98,115.83 L175.68,116.27 L175.42,116.72 L175.13,117.21 L174.73,117.82 L174.12,118.46 L173.16,118.58 L172.61,118.31 L172.05,117.89 L171.48,117.51 L170.92,117.38 L170.35,117.54 L169.76,117.89 L169.15,118.32 L168.51,118.76 L167.86,119.07 L167.18,119.05 L166.48,118.69 L165.79,118.35 L165.13,118.39 L164.5,118.77 L163.91,119.17 L163.33,119.4 L162.78,119.45 L162.09,119.35 L161.39,119.07 L160.66,118.66 L159.96,118.37 L159.34,118.48 L158.82,119.01 L158.34,119.71 L157.85,120.26 L157.3,120.54 L156.7,120.61 L156.07,120.57 L155.43,120.47 L154.78,120.34 L154.15,120.33 L153.56,120.62 L153.03,121.15 L152.47,121.59 L151.82,121.65 L151.08,121.36 L150.34,121.02 L149.64,120.85 L148.99,120.88 L148.4,121.11 L147.87,121.6 L147.37,122.27 L146.84,122.85 L146.26,123.09 L145.66,122.94 L144.91,122.51 L144.21,122.22 L143.55,122.18 L142.89,122.27 L142.24,122.42 L141.6,122.6 L140.97,122.69 L140.37,122.51 L139.84,122.03 L139.34,121.46 L138.83,121.08 L138.09,121.09 L137.31,121.48 L136.54,121.86 L135.79,122.08 L135.07,122.1 L134.45,121.82 L133.99,121.22 L133.66,120.49 L133.32,119.91 L132.8,119.61 L132.11,119.45 L131.46,119.19 L131,118.75 L130.7,118.19 L130.5,117.59 L130.37,116.98 L130.15,116.15 L129.67,115.54 L128.83,115.34 L127.89,115.08 L127.34,114.27 L127.62,113.32 L128.2,112.9 L128.83,112.79 L129.52,112.82 L130.25,112.9 L131,112.93 L131.69,112.69 L132.26,112.06 L132.81,111.42 L133.52,111.21 L134.37,111.27 L135.17,111.18 L135.76,110.77 L136.11,110.18 L136.28,109.49 L136.26,108.71 L136.14,107.92 L136.17,107.24 L136.63,106.77 L137.42,106.42 L138.19,106.01 L138.63,105.47 L138.77,104.83 L138.79,104.17 L138.78,103.52 L138.74,102.85 L138.79,102.23 L139.06,101.66 L139.53,101.11 L139.92,100.53 L139.97,99.91 L139.62,99.26 L139.13,98.59 L138.77,97.9 L138.67,97.21 L138.83,96.52 L139.18,95.99 L139.72,95.45 L140.3,94.88 L140.61,94.27 L140.48,93.62 L140.08,92.95 L139.79,92.28 L139.78,91.63 L139.96,91 L140.2,90.38 L140.45,89.79 L140.66,89.2 L140.7,88.62 L140.47,88.01 L139.95,87.23 L139.6,86.5 L139.79,85.83 L140.37,85.18 L140.97,84.58 L141.43,84.01 L141.74,83.48 L141.87,82.96 L141.82,82.36 L141.76,81.64 Z" fill="#d9d9d9" stroke="#7379b8" stroke-width="1.4" stroke-linejoin="round" />
<path d="M137.17,37.65 L137.49,37.09 L137.79,36.48 L138.17,35.94 L138.65,35.54 L139.23,35.28 L139.92,35.24 L140.71,35.44 L141.47,35.73 L142.1,35.8 L142.59,35.44 L143.06,34.81 L143.57,34.27 L144.19,33.96 L144.85,33.89 L145.52,34 L146.18,34.28 L146.83,34.64 L147.5,34.82 L148.2,34.62 L148.91,34.23 L149.58,34.07 L150.17,34.29 L150.72,34.75 L151.32,35.29 L151.89,35.72 L152.43,36 L152.99,36.09 L153.59,35.92 L154.24,35.51 L154.88,35.06 L155.5,34.85 L156.09,35.03 L156.71,35.45 L157.25,35.74 L157.82,35.88 L158.42,35.87 L159.03,35.75 L159.64,35.52 L160.27,35.22 L160.9,35.09 L161.54,35.33 L162.18,35.87 L162.78,36.38 L163.34,36.58 L163.89,36.45 L164.45,36.16 L165.2,35.76 L165.95,35.4 L166.69,35.21 L167.37,35.39 L167.95,35.95 L168.44,36.57 L168.94,36.93 L169.5,37.01 L170.11,37.03 L170.69,37.21 L171.15,37.65 L171.38,38.27 L171.37,38.95 L171.14,39.66 L170.8,40.38 L170.67,41.1 L171.04,41.74 L171.78,42.18 L172.52,42.35 L173.1,42.41 L173.53,42.61 L173.99,43.02 L174.5,43.53 L174.99,44.12 L175.41,44.65 L175.83,44.98 L176.42,45.25 L176.91,45.59 L177.26,46.09 L177.27,46.72 L176.98,47.42 L176.67,48.1 L176.54,48.77 L176.62,49.43 L176.92,50.1 L177.45,50.75 L178.03,51.4 L178.31,52 L178.14,52.65 L177.61,53.29 L177.1,53.9 L176.83,54.51 L176.77,55.11 L176.8,55.72 L176.88,56.33 L176.97,56.95 L176.95,57.56 L176.67,58.07 L176.08,58.47 L175.42,58.74 L174.95,59.08 L174.75,59.66 L174.69,60.42 L174.6,61.2 L174.4,61.88 L174.08,62.44 L173.59,62.85 L172.92,63.03 L172.09,63.09 L171.32,63.2 L170.82,63.58 L170.57,64.23 L170.38,64.93 L170.06,65.5 L169.62,65.91 L169.12,66.23 L168.6,66.5 L167.96,66.79 L167.4,67.11 L167.04,67.59 L166.93,68.28 L166.93,69.08 L166.81,69.8 L166.43,70.29 L165.77,70.52 L165.05,70.6 L164.32,70.68 L163.63,70.79 L163,71 L162.54,71.42 L162.27,72.09 L162.06,72.84 L161.7,73.39 L161.12,73.65 L160.44,73.78 L159.82,74.01 L159.35,74.4 L159.01,74.92 L158.73,75.51 L158.48,76.18 L158.2,76.88 L157.75,77.42 L157.04,77.57 L156.24,77.34 L155.43,76.99 L154.71,76.88 L154.12,77.12 L153.57,77.56 L153.02,78.03 L152.46,78.48 L151.88,78.8 L151.28,78.85 L150.7,78.64 L150.05,78.22 L149.47,78.01 L148.76,78.11 L148,78.29 L147.4,78.39 L146.99,78.39 L146.59,78.32 L146.15,78.27 L145.39,78.29 L144.45,78.4 L143.73,78.79 L143.52,79.57 L143.5,80.47 L143.26,81.17 L142.75,81.54 L142.14,81.54 L141.69,81.24 L141.38,80.8 L141.16,80.25 L140.98,79.63 L140.65,79.03 L139.98,78.57 L139.17,78.15 L138.74,77.56 L138.76,76.75 L138.87,75.88 L138.81,75.16 L138.59,74.53 L138.22,74.03 L137.64,73.69 L136.87,73.52 L136.06,73.4 L135.45,73.12 L135.14,72.57 L135.02,71.88 L134.87,71.24 L134.56,70.76 L134.02,70.34 L133.41,70.02 L132.78,69.73 L132.18,69.43 L131.73,68.98 L131.56,68.3 L131.67,67.52 L131.9,66.84 L131.99,66.36 L131.81,66.02 L131.47,65.56 L131.12,64.97 L130.88,64.3 L130.76,63.62 L130.83,62.98 L131.16,62.41 L131.71,61.87 L132.16,61.27 L132.18,60.6 L131.84,60.01 L131.43,59.45 L131.21,58.87 L131.23,58.23 L131.39,57.54 L131.63,56.82 L131.92,56.11 L132.06,55.46 L131.83,54.89 L131.24,54.32 L130.61,53.68 L130.32,52.97 L130.47,52.29 L130.89,51.68 L131.36,51.11 L131.81,50.55 L132.17,49.96 L132.29,49.31 L132.16,48.6 L132.03,47.92 L132.16,47.36 L132.57,46.88 L133.21,46.17 L133.51,45.4 L133.41,44.69 L133.07,44.07 L132.59,43.5 L132.05,42.88 L131.7,42.12 L131.83,41.34 L132.36,40.88 L133.08,40.63 L133.78,40.43 L134.29,40.1 L134.66,39.6 L135,39.04 L135.39,38.48 L135.82,37.96 L136.35,37.58 Z" fill="#e7e8e7" stroke="#c463b8" stroke-width="1.4" stroke-linejoin="round" />
<path d="M94.59,77.04 L94.85,77.58 L95.02,78.14 L95.03,78.73 L94.81,79.36 L94.3,80.05 L93.7,80.79 L93.47,81.53 L93.8,82.22 L94.36,82.87 L94.73,83.51 L94.84,84.16 L94.82,84.79 L94.76,85.39 L94.67,85.95 L94.69,86.84 L95.23,87.51 L96.1,87.92 L96.78,88.34 L97.02,88.93 L96.95,89.65 L96.74,90.31 L96.46,90.8 L96.01,91.32 L95.69,91.62 L95.48,91.97 L95.3,92.61 L95,93.48 L94.53,93.92 L93.85,93.98 L93.09,93.72 L92.32,93.56 L91.6,93.72 L90.96,94.09 L90.49,94.56 L90.28,95.04 L90.15,95.54 L89.81,95.94 L89.08,96.3 L88.21,96.8 L87.71,97.52 L87.79,98.31 L88.21,99.01 L88.73,99.51 L89.32,99.9 L89.91,100.27 L90.33,100.8 L90.52,101.57 L90.7,102.36 L91.17,102.88 L91.87,103.14 L92.57,103.41 L93.09,103.79 L93.41,104.32 L93.6,104.93 L93.69,105.63 L93.73,106.39 L93.85,107.13 L94.23,107.68 L95.03,107.88 L95.95,107.71 L96.76,107.56 L97.42,107.74 L97.95,108.18 L98.37,108.75 L98.62,109.39 L98.7,109.96 L98.79,110.53 L99.1,111.12 L99.61,111.73 L99.96,112.35 L99.88,113 L99.54,113.73 L99.37,114.54 L99.54,115.32 L100,115.91 L100.67,116.26 L101.51,116.35 L102.44,116.3 L103.22,116.48 L103.66,117.06 L103.76,117.86 L103.65,118.67 L103.65,119.38 L103.84,120.11 L104.09,120.82 L104.39,121.39 L104.66,121.75 L104.95,122.14 L105.21,122.51 L105.65,123.03 L106.24,123.49 L106.91,123.59 L107.58,123.22 L108.21,122.58 L108.83,121.99 L109.47,121.56 L110.14,121.38 L110.87,121.51 L111.61,121.85 L112.29,122.05 L112.91,121.89 L113.42,121.39 L113.87,120.87 L114.39,120.54 L115,120.42 L115.66,120.39 L116.33,120.42 L116.99,120.46 L117.59,120.44 L118.07,120.2 L118.48,119.65 L118.99,118.88 L119.63,118.33 L120.32,118.25 L120.97,118.54 L121.59,118.94 L122.21,119.28 L122.86,119.51 L123.52,119.52 L124.12,119.21 L124.56,118.63 L124.84,118.13 L125.24,117.77 L125.88,117.56 L126.64,117.34 L127.26,116.95 L127.6,116.36 L127.75,115.64 L127.78,114.85 L127.78,114 L127.93,113.24 L128.41,112.73 L129.16,112.6 L130.09,112.79 L130.86,112.93 L131.49,112.76 L132.1,112.4 L132.72,112.04 L133.36,111.73 L133.98,111.54 L134.63,111.55 L135.31,111.71 L135.98,111.78 L136.67,111.49 L137.04,110.82 L137.24,110.04 L137.35,109.4 L137.49,108.92 L137.77,108.5 L138.27,108.01 L138.74,107.67 L139.32,107.23 L139.81,106.67 L139.93,106.01 L139.61,105.29 L139.22,104.56 L139.13,103.86 L139.32,103.17 L139.56,102.5 L139.76,101.85 L139.87,101.25 L139.83,100.69 L139.4,99.98 L138.74,99.44 L138.23,98.99 L138.05,98.47 L138.21,97.84 L138.59,97.16 L139.03,96.51 L139.4,95.85 L139.56,95.37 L139.59,94.81 L139.42,94.16 L139.14,93.43 L139.04,92.71 L139.38,92.09 L139.96,91.54 L140.38,90.95 L140.46,90.27 L140.33,89.57 L140.16,88.88 L140.01,88.24 L139.96,87.44 L140.33,86.77 L141.13,86.31 L142.01,85.9 L142.54,85.36 L142.62,84.67 L142.41,83.97 L142.11,83.35 L141.79,82.83 L141.46,82.4 L141.15,82.02 L140.88,81.54 L140.66,80.91 L140.37,80.27 L139.85,79.87 L139.04,79.73 L138.14,79.51 L137.54,78.95 L137.36,78.34 L137.35,77.65 L137.44,76.88 L137.59,76.08 L137.6,75.33 L137.2,74.77 L136.4,74.38 L135.59,74 L135.13,73.47 L134.98,72.81 L134.9,72.15 L134.75,71.54 L134.54,71.01 L134.11,70.38 L133.44,69.96 L132.67,69.66 L132.13,69.26 L131.96,68.6 L131.98,67.78 L131.91,67 L131.65,66.4 L131.22,66 L130.45,65.71 L129.63,65.7 L128.87,65.93 L128.22,66.19 L127.63,66.18 L127.01,65.79 L126.41,65.49 L125.7,65.5 L125.08,65.93 L124.52,66.5 L123.91,66.96 L123.25,67.24 L122.56,67.24 L122.02,66.87 L121.85,66.19 L122,65.48 L121.98,64.88 L121.43,64.37 L120.58,63.83 L119.94,63.21 L119.59,62.53 L119.52,61.81 L119.81,61.03 L120.32,60.29 L120.53,59.54 L120.23,58.82 L119.78,58.32 L119.51,58.11 L119.32,57.93 L119.12,57.76 L118.73,57.52 L118.21,57.28 L117.59,57.09 L116.91,57.01 L116.24,57.12 L115.67,57.63 L115.26,58.52 L114.86,59.39 L114.26,59.8 L113.47,59.79 L112.65,59.75 L111.92,59.86 L111.38,60.06 L110.89,60.39 L110.49,60.87 L110.16,61.46 L109.76,61.97 L109.15,62.2 L108.33,62.18 L107.52,62.21 L106.92,62.51 L106.55,63.1 L106.29,63.83 L106.09,64.59 L105.87,65.34 L105.54,65.94 L104.98,66.24 L104.21,66.26 L103.36,66.24 L102.7,66.45 L102.27,66.96 L101.92,67.59 L101.52,68.15 L101.05,68.61 L100.5,68.96 L99.85,69.17 L99.11,69.28 L98.44,69.46 L98.02,69.91 L97.88,70.62 L97.87,71.41 L97.82,72.08 L97.64,72.57 L97.1,73.1 L96.44,73.43 L95.75,73.66 L95.07,73.91 L94.53,74.3 L94.27,74.87 L94.36,75.58 L94.6,76.32 Z" fill="#bdbdbd" stroke="#5c9e3c" stroke-width="1.4" stroke-linejoin="round" stroke-opacity="0.85"/>
<path d="M95.62,37.48 L95.73,36.87 L96,36.26 L96.43,35.73 L97,35.33 L97.71,35.14 L98.49,35.17 L99.14,35.26 L99.74,35.23 L100.29,34.99 L100.82,34.6 L101.42,34.24 L102.09,34.08 L102.8,34.12 L103.37,34.25 L103.95,34.47 L104.53,34.74 L105.14,34.98 L105.8,35.05 L106.54,34.86 L107.29,34.56 L107.98,34.39 L108.58,34.49 L109.18,34.79 L109.86,35.14 L110.6,35.43 L111.33,35.62 L112.02,35.67 L112.67,35.52 L113.29,35.29 L113.91,35.2 L114.45,35.39 L114.82,35.87 L114.93,36.46 L114.92,37.07 L114.96,37.67 L115.12,38.31 L115.39,38.98 L115.75,39.65 L116.19,40.32 L116.48,40.84 L116.58,41.45 L116.4,42.12 L116.01,42.82 L115.66,43.52 L115.57,44.2 L115.71,44.85 L115.97,45.47 L116.25,46.05 L116.52,46.58 L116.77,47.05 L117.03,47.74 L117.11,48.42 L117.13,49.09 L117.25,49.7 L117.58,50.2 L118.09,50.56 L118.69,50.86 L119.25,51.15 L119.72,51.5 L120.11,51.94 L120.46,52.47 L120.73,53.07 L120.93,53.74 L121.11,54.39 L121.5,55.03 L122.2,55.4 L123.04,55.6 L123.72,55.93 L124.13,56.43 L124.23,57.01 L123.96,57.58 L123.42,57.99 L122.74,58.32 L122.04,58.66 L121.48,59.16 L121.05,59.69 L120.52,60.2 L119.9,60.48 L119.23,60.46 L118.53,60.31 L117.87,60.27 L117.03,60.47 L116.36,60.9 L115.89,61.56 L115.75,62.39 L115.92,63.09 L116.17,63.74 L116.23,64.43 L115.96,65.2 L115.58,65.99 L115.45,66.54 L115.47,67.16 L115.58,67.83 L115.68,68.52 L115.73,69.22 L115.66,69.92 L115.34,70.53 L114.78,70.95 L114.09,71.18 L113.45,71.4 L112.97,71.74 L112.63,72.27 L112.29,72.9 L111.82,73.49 L111.21,73.96 L110.48,74.25 L109.89,74.27 L109.29,74.09 L108.69,73.77 L108.07,73.49 L107.4,73.43 L106.67,73.58 L105.93,73.7 L105.23,73.61 L104.59,73.33 L103.99,72.98 L103.41,72.63 L102.84,72.31 L102.13,72.03 L101.41,72.04 L100.69,72.37 L100,72.81 L99.37,73.09 L98.78,73.14 L98.21,73.05 L97.66,72.94 L97.13,72.89 L96.35,73.04 L95.67,73.46 L95.19,74.09 L94.87,74.81 L94.41,75.39 L93.71,75.56 L93.11,75.23 L92.76,74.64 L92.48,74 L92.05,73.42 L91.38,72.95 L90.52,72.65 L89.92,72.55 L89.25,72.47 L88.61,72.29 L88.1,71.9 L87.75,71.28 L87.45,70.58 L87.09,70 L86.61,69.6 L86.09,69.29 L85.6,69 L84.96,68.58 L84.37,68.15 L83.88,67.63 L83.6,66.97 L83.54,66.29 L83.56,65.71 L83.4,65.16 L83.17,64.74 L82.91,64.15 L82.75,63.47 L82.77,62.78 L82.97,62.11 L83.35,61.49 L83.89,60.95 L84.54,60.45 L85.06,59.91 L85.29,59.25 L85.29,58.53 L85.27,57.84 L85.42,57.21 L85.75,56.64 L86.15,56.09 L86.54,55.54 L86.89,54.98 L87.17,54.4 L87.29,53.77 L87.2,53.08 L87,52.37 L86.87,51.69 L86.97,51.05 L87.34,50.49 L87.84,49.93 L88.29,49.36 L88.63,48.78 L88.89,48.21 L89.06,47.66 L89.14,47.1 L89.21,46.53 L89.38,45.98 L89.85,45.49 L90.55,45.35 L91.3,45.45 L92.02,45.49 L92.68,45.28 L93.28,44.9 L93.74,44.45 L93.99,43.99 L94.09,43.4 L94.14,42.84 L94.36,42.27 L94.83,41.65 L95.36,41.03 L95.7,40.47 L95.77,39.63 L95.56,38.87 L95.42,38.17 Z" fill="#9e9e9e" stroke="#e6dc1c" stroke-width="2.9" stroke-linejoin="round"/>
<path d="M95.62,37.48 L95.73,36.87 L96,36.26 L96.43,35.73 L97,35.33 L97.71,35.14 L98.49,35.17 L99.14,35.26 L99.74,35.23 L100.29,34.99 L100.82,34.6 L101.42,34.24 L102.09,34.08 L102.8,34.12 L103.37,34.25 L103.95,34.47 L104.53,34.74 L105.14,34.98 L105.8,35.05 L106.54,34.86 L107.29,34.56 L107.98,34.39 L108.58,34.49 L109.18,34.79 L109.86,35.14 L110.6,35.43 L111.33,35.62 L112.02,35.67 L112.67,35.52 L113.29,35.29 L113.91,35.2 L114.45,35.39 L114.82,35.87 L114.93,36.46 L114.92,37.07 L114.96,37.67 L115.12,38.31 L115.39,38.98 L115.75,39.65 L116.19,40.32 L116.48,40.84 L116.58,41.45 L116.4,42.12 L116.01,42.82 L115.66,43.52 L115.57,44.2 L115.71,44.85 L115.97,45.47 L116.25,46.05 L116.52,46.58 L116.77,47.05 L117.03,47.74 L117.11,48.42 L117.13,49.09 L117.25,49.7 L117.58,50.2 L118.09,50.56 L118.69,50.86 L119.25,51.15 L119.72,51.5 L120.11,51.94 L120.46,52.47 L120.73,53.07 L120.93,53.74 L121.11,54.39 L121.5,55.03 L122.2,55.4 L123.04,55.6 L123.72,55.93 L124.13,56.43 L124.23,57.01 L123.96,57.58 L123.42,57.99 L122.74,58.32 L122.04,58.66 L121.48,59.16 L121.05,59.69 L120.52,60.2 L119.9,60.48 L119.23,60.46 L118.53,60.31 L117.87,60.27 L117.03,60.47 L116.36,60.9 L115.89,61.56 L115.75,62.39 L115.92,63.09 L116.17,63.74 L116.23,64.43 L115.96,65.2 L115.58,65.99 L115.45,66.54 L115.47,67.16 L115.58,67.83 L115.68,68.52 L115.73,69.22 L115.66,69.92 L115.34,70.53 L114.78,70.95 L114.09,71.18 L113.45,71.4 L112.97,71.74 L112.63,72.27 L112.29,72.9 L111.82,73.49 L111.21,73.96 L110.48,74.25 L109.89,74.27 L109.29,74.09 L108.69,73.77 L108.07,73.49 L107.4,73.43 L106.67,73.58 L105.93,73.7 L105.23,73.61 L104.59,73.33 L103.99,72.98 L103.41,72.63 L102.84,72.31 L102.13,72.03 L101.41,72.04 L100.69,72.37 L100,72.81 L99.37,73.09 L98.78,73.14 L98.21,73.05 L97.66,72.94 L97.13,72.89 L96.35,73.04 L95.67,73.46 L95.19,74.09 L94.87,74.81 L94.41,75.39 L93.71,75.56 L93.11,75.23 L92.76,74.64 L92.48,74 L92.05,73.42 L91.38,72.95 L90.52,72.65 L89.92,72.55 L89.25,72.47 L88.61,72.29 L88.1,71.9 L87.75,71.28 L87.45,70.58 L87.09,70 L86.61,69.6 L86.09,69.29 L85.6,69 L84.96,68.58 L84.37,68.15 L83.88,67.63 L83.6,66.97 L83.54,66.29 L83.56,65.71 L83.4,65.16 L83.17,64.74 L82.91,64.15 L82.75,63.47 L82.77,62.78 L82.97,62.11 L83.35,61.49 L83.89,60.95 L84.54,60.45 L85.06,59.91 L85.29,59.25 L85.29,58.53 L85.27,57.84 L85.42,57.21 L85.75,56.64 L86.15,56.09 L86.54,55.54 L86.89,54.98 L87.17,54.4 L87.29,53.77 L87.2,53.08 L87,52.37 L86.87,51.69 L86.97,51.05 L87.34,50.49 L87.84,49.93 L88.29,49.36 L88.63,48.78 L88.89,48.21 L89.06,47.66 L89.14,47.1 L89.21,46.53 L89.38,45.98 L89.85,45.49 L90.55,45.35 L91.3,45.45 L92.02,45.49 L92.68,45.28 L93.28,44.9 L93.74,44.45 L93.99,43.99 L94.09,43.4 L94.14,42.84 L94.36,42.27 L94.83,41.65 L95.36,41.03 L95.7,40.47 L95.77,39.63 L95.56,38.87 L95.42,38.17 Z" fill="none" stroke="#c2b62c" stroke-width="0.9" stroke-linejoin="round"/>
<circle cx="143" cy="139" r="24" fill="url(#glow)"/>
<polyline points="124.4,116.4 129.2,120.1 133.9,116.4" fill="none" stroke="#4a3426" stroke-width="1.2"/>
<polyline points="129.2,120.1 129.2,129.1 124.9,132.8 119.6,129.1" fill="none" stroke="#4a3426" stroke-width="1.2"/>
<line x1="124.9" y1="132.8" x2="124.9" y2="141" stroke="#7a6a60" stroke-width="1.3"/>
<g transform="rotate(8 129 145.8)">
<polygon points="129,139.2 130.75,143.4 135.28,143.76 131.82,146.72 132.88,151.14 129,148.77 125.12,151.14 126.18,146.72 122.72,143.76 127.25,143.4" fill="#fff" stroke="#777" stroke-width="0.8" stroke-linejoin="round"/>
<ellipse cx="126.4" cy="141.2" rx="3.4" ry="1.15" fill="#3a3a3a"/>
<ellipse cx="129.6" cy="150.8" rx="3.6" ry="1.15" fill="#3a3a3a"/>
</g>
<polyline points="128.6,151 129.8,158 130.2,161.4 126.8,166" fill="none" stroke="#888" stroke-width="1"/>
<polygon points="119.6,161.4 139.8,161.4 133.9,169.4 113.3,169.4" fill="none" stroke="#9a9a9a" stroke-width="1"/>
<line x1="92.6" y1="34.6" x2="96.3" y2="38.2" stroke="#2b2b8c" stroke-width="1.4"/>
<line x1="157.6" y1="32.5" x2="156" y2="38.6" stroke="#2b2b8c" stroke-width="1.4"/>
<circle cx="87.7" cy="28.2" r="7.4" fill="#d92121"/>
<circle cx="159.9" cy="26.1" r="7.4" fill="#00a196"/>
<text x="87.2" y="17.5" font-size="11.6" font-weight="normal" text-anchor="middle" fill="#222" >T511</text>
<text x="162.4" y="17.5" font-size="11.6" font-weight="normal" text-anchor="middle" fill="#222" >H291</text>
<text x="56.7" y="105.8" font-size="12" font-weight="normal" text-anchor="middle" fill="#222" >apo</text>
<text x="58.4" y="119.9" font-size="12" font-weight="normal" text-anchor="middle" fill="#222" >enzyme</text>
<path d="M375.58,81.78 L376.06,81.62 L376.45,81.32 L376.85,80.9 L377.31,80.47 L377.86,80.14 L378.48,79.95 L379.15,79.93 L379.89,80.18 L380.68,80.62 L381.45,80.85 L382.12,80.49 L382.68,79.7 L383.2,78.95 L383.78,78.48 L384.28,78.28 L384.87,78.18 L385.56,78.2 L386.31,78.26 L386.99,78.14 L387.5,77.65 L387.91,76.96 L388.42,76.45 L389.12,76.31 L389.91,76.39 L390.67,76.45 L391.35,76.41 L391.94,76.25 L392.41,75.87 L392.8,75.24 L393.2,74.55 L393.69,74.04 L394.28,73.87 L395.07,74.18 L395.72,74.78 L396.27,75.31 L396.82,75.71 L397.41,76.02 L398.1,76.22 L398.83,76.36 L399.44,76.67 L399.79,77.27 L400.02,78.03 L400.37,78.66 L400.88,78.98 L401.78,78.96 L402.62,78.72 L403.34,78.48 L403.93,78.27 L404.43,78.18 L404.9,78.32 L405.45,78.74 L406.19,79.16 L407,79.15 L407.59,78.65 L408.06,77.99 L408.61,77.51 L409.22,77.28 L409.8,77.31 L410.38,77.63 L410.82,78.1 L411.11,78.56 L411.54,78.82 L412.48,79.07 L413.59,79.75 L413.8,80.25 L413.8,80.79 L413.63,81.38 L413.32,82.01 L412.92,82.65 L412.54,83.32 L412.44,83.99 L412.78,84.69 L413.24,85.4 L413.37,86.1 L413.1,86.79 L412.76,87.46 L412.59,88.11 L412.58,88.72 L412.72,89.28 L413,89.78 L413.37,90.17 L414.29,90.91 L414.54,91.39 L414.46,91.9 L414.37,92.55 L414.31,93.26 L414.38,93.99 L414.61,94.49 L415.01,94.97 L415.54,95.41 L416.16,95.81 L416.69,96.29 L416.9,96.95 L416.82,97.72 L416.79,98.42 L417.05,98.95 L417.64,99.47 L418.28,100.01 L418.75,100.63 L419,101.31 L418.95,102.03 L418.53,102.75 L417.92,103.39 L417.46,103.93 L417.4,104.54 L417.68,105.23 L417.92,105.95 L417.89,106.65 L417.61,107.28 L417.15,107.81 L416.51,108.22 L416,108.43 L415.52,108.7 L415.15,109.26 L414.85,110.06 L414.46,110.76 L413.86,111.05 L413.12,111.03 L412.35,110.96 L411.62,111.01 L410.95,111.24 L410.32,111.85 L410.21,112.7 L410.55,113.56 L410.87,114.33 L410.76,115.01 L410.29,115.55 L409.72,115.95 L409.28,116.33 L408.98,116.77 L408.72,117.22 L408.43,117.71 L408.03,118.32 L407.42,118.96 L406.46,119.08 L405.91,118.81 L405.35,118.39 L404.78,118.01 L404.22,117.88 L403.65,118.04 L403.06,118.39 L402.45,118.82 L401.81,119.26 L401.16,119.57 L400.48,119.55 L399.78,119.19 L399.09,118.85 L398.43,118.89 L397.8,119.27 L397.21,119.67 L396.63,119.9 L396.08,119.95 L395.39,119.85 L394.69,119.57 L393.96,119.16 L393.26,118.87 L392.64,118.98 L392.12,119.51 L391.64,120.21 L391.15,120.76 L390.6,121.04 L390,121.11 L389.37,121.07 L388.73,120.97 L388.08,120.84 L387.45,120.83 L386.86,121.12 L386.33,121.65 L385.77,122.09 L385.12,122.15 L384.38,121.86 L383.64,121.52 L382.94,121.35 L382.29,121.38 L381.7,121.61 L381.17,122.1 L380.67,122.77 L380.14,123.35 L379.56,123.59 L378.96,123.44 L378.21,123.01 L377.51,122.72 L376.85,122.68 L376.19,122.77 L375.54,122.92 L374.9,123.1 L374.27,123.19 L373.67,123.01 L373.14,122.53 L372.64,121.96 L372.13,121.58 L371.39,121.59 L370.61,121.98 L369.84,122.36 L369.09,122.58 L368.37,122.6 L367.75,122.32 L367.29,121.72 L366.96,120.99 L366.62,120.41 L366.1,120.11 L365.41,119.95 L364.76,119.69 L364.3,119.25 L364,118.69 L363.8,118.09 L363.67,117.48 L363.45,116.65 L362.97,116.04 L362.13,115.84 L361.19,115.58 L360.64,114.77 L360.92,113.82 L361.5,113.4 L362.13,113.29 L362.82,113.32 L363.55,113.4 L364.3,113.43 L364.99,113.19 L365.56,112.56 L366.11,111.92 L366.82,111.71 L367.67,111.77 L368.47,111.68 L369.06,111.27 L369.41,110.68 L369.58,109.99 L369.56,109.21 L369.44,108.42 L369.47,107.74 L369.93,107.27 L370.72,106.92 L371.49,106.51 L371.93,105.97 L372.07,105.33 L372.09,104.67 L372.08,104.02 L372.04,103.35 L372.09,102.73 L372.36,102.16 L372.83,101.61 L373.22,101.03 L373.27,100.41 L372.92,99.76 L372.43,99.09 L372.07,98.4 L371.97,97.71 L372.13,97.02 L372.48,96.49 L373.02,95.95 L373.6,95.38 L373.91,94.77 L373.78,94.12 L373.38,93.45 L373.09,92.78 L373.08,92.13 L373.26,91.5 L373.5,90.88 L373.75,90.29 L373.96,89.7 L374,89.12 L373.77,88.51 L373.25,87.73 L372.9,87 L373.09,86.33 L373.67,85.68 L374.27,85.08 L374.73,84.51 L375.04,83.98 L375.17,83.46 L375.12,82.86 L375.06,82.14 Z" fill="#d9d9d9" stroke="#7379b8" stroke-width="1.4" stroke-linejoin="round" />
<path d="M370.47,38.15 L370.79,37.59 L371.09,36.98 L371.47,36.44 L371.95,36.04 L372.53,35.78 L373.22,35.74 L374.01,35.94 L374.77,36.23 L375.4,36.3 L375.89,35.94 L376.36,35.31 L376.87,34.77 L377.49,34.46 L378.15,34.39 L378.82,34.5 L379.48,34.78 L380.13,35.14 L380.8,35.32 L381.5,35.12 L382.21,34.73 L382.88,34.57 L383.47,34.79 L384.02,35.25 L384.62,35.79 L385.19,36.22 L385.73,36.5 L386.29,36.59 L386.89,36.42 L387.54,36.01 L388.18,35.56 L388.8,35.35 L389.39,35.53 L390.01,35.95 L390.55,36.24 L391.12,36.38 L391.72,36.37 L392.33,36.25 L392.94,36.02 L393.57,35.72 L394.2,35.59 L394.84,35.83 L395.48,36.37 L396.08,36.88 L396.64,37.08 L397.19,36.95 L397.75,36.66 L398.5,36.26 L399.25,35.9 L399.99,35.71 L400.67,35.89 L401.25,36.45 L401.74,37.07 L402.24,37.43 L402.8,37.51 L403.41,37.53 L403.99,37.71 L404.45,38.15 L404.68,38.77 L404.67,39.45 L404.44,40.16 L404.1,40.88 L403.97,41.6 L404.34,42.24 L405.08,42.68 L405.82,42.85 L406.4,42.91 L406.83,43.11 L407.29,43.52 L407.8,44.03 L408.29,44.62 L408.71,45.15 L409.13,45.48 L409.72,45.75 L410.21,46.09 L410.56,46.59 L410.57,47.22 L410.28,47.92 L409.97,48.6 L409.84,49.27 L409.92,49.93 L410.22,50.6 L410.75,51.25 L411.33,51.9 L411.61,52.5 L411.44,53.15 L410.91,53.79 L410.4,54.4 L410.13,55.01 L410.07,55.61 L410.1,56.22 L410.18,56.83 L410.27,57.45 L410.25,58.06 L409.97,58.57 L409.38,58.97 L408.72,59.24 L408.25,59.58 L408.05,60.16 L407.99,60.92 L407.9,61.7 L407.7,62.38 L407.38,62.94 L406.89,63.35 L406.22,63.53 L405.39,63.59 L404.62,63.7 L404.12,64.08 L403.87,64.73 L403.68,65.43 L403.36,66 L402.92,66.41 L402.42,66.73 L401.9,67 L401.26,67.29 L400.7,67.61 L400.34,68.09 L400.23,68.78 L400.23,69.58 L400.11,70.3 L399.73,70.79 L399.07,71.02 L398.35,71.1 L397.62,71.18 L396.93,71.29 L396.3,71.5 L395.84,71.92 L395.57,72.59 L395.36,73.34 L395,73.89 L394.42,74.15 L393.74,74.28 L393.12,74.51 L392.65,74.9 L392.31,75.42 L392.03,76.01 L391.78,76.68 L391.5,77.38 L391.05,77.92 L390.34,78.07 L389.54,77.84 L388.73,77.49 L388.01,77.38 L387.42,77.62 L386.87,78.06 L386.32,78.53 L385.76,78.98 L385.18,79.3 L384.58,79.35 L384,79.14 L383.35,78.72 L382.77,78.51 L382.06,78.61 L381.3,78.79 L380.7,78.89 L380.29,78.89 L379.89,78.82 L379.45,78.77 L378.69,78.79 L377.75,78.9 L377.03,79.29 L376.82,80.07 L376.8,80.97 L376.56,81.67 L376.05,82.04 L375.44,82.04 L374.99,81.74 L374.68,81.3 L374.46,80.75 L374.28,80.13 L373.95,79.53 L373.28,79.07 L372.47,78.65 L372.04,78.06 L372.06,77.25 L372.17,76.38 L372.11,75.66 L371.89,75.03 L371.52,74.53 L370.94,74.19 L370.17,74.02 L369.36,73.9 L368.75,73.62 L368.44,73.07 L368.32,72.38 L368.17,71.74 L367.86,71.26 L367.32,70.84 L366.71,70.52 L366.08,70.23 L365.48,69.93 L365.03,69.48 L364.86,68.8 L364.97,68.02 L365.2,67.34 L365.29,66.86 L365.11,66.52 L364.77,66.06 L364.42,65.47 L364.18,64.8 L364.06,64.12 L364.13,63.48 L364.46,62.91 L365.01,62.37 L365.46,61.77 L365.48,61.1 L365.14,60.51 L364.73,59.95 L364.51,59.37 L364.53,58.73 L364.69,58.04 L364.93,57.32 L365.22,56.61 L365.36,55.96 L365.13,55.39 L364.54,54.82 L363.91,54.18 L363.62,53.47 L363.77,52.79 L364.19,52.18 L364.66,51.61 L365.11,51.05 L365.47,50.46 L365.59,49.81 L365.46,49.1 L365.33,48.42 L365.46,47.86 L365.87,47.38 L366.51,46.67 L366.81,45.9 L366.71,45.19 L366.37,44.57 L365.89,44 L365.35,43.38 L365,42.62 L365.13,41.84 L365.66,41.38 L366.38,41.13 L367.08,40.93 L367.59,40.6 L367.96,40.1 L368.3,39.54 L368.69,38.98 L369.12,38.46 L369.65,38.08 Z" fill="#e7e8e7" stroke="#c463b8" stroke-width="1.4" stroke-linejoin="round" />
<path d="M327.89,77.54 L328.15,78.08 L328.32,78.64 L328.33,79.23 L328.11,79.86 L327.6,80.55 L327,81.29 L326.77,82.03 L327.1,82.72 L327.66,83.37 L328.03,84.01 L328.14,84.66 L328.12,85.29 L328.06,85.89 L327.97,86.45 L327.99,87.34 L328.53,88.01 L329.4,88.42 L330.08,88.84 L330.32,89.43 L330.25,90.15 L330.04,90.81 L329.76,91.3 L329.31,91.82 L328.99,92.12 L328.78,92.47 L328.6,93.11 L328.3,93.98 L327.83,94.42 L327.15,94.48 L326.39,94.22 L325.62,94.06 L324.9,94.22 L324.26,94.59 L323.79,95.06 L323.58,95.54 L323.45,96.04 L323.11,96.44 L322.38,96.8 L321.51,97.3 L321.01,98.02 L321.09,98.81 L321.51,99.51 L322.03,100.01 L322.62,100.4 L323.21,100.77 L323.63,101.3 L323.82,102.07 L324,102.86 L324.47,103.38 L325.17,103.64 L325.87,103.91 L326.39,104.29 L326.71,104.82 L326.9,105.43 L326.99,106.13 L327.03,106.89 L327.15,107.63 L327.53,108.18 L328.33,108.38 L329.25,108.21 L330.06,108.06 L330.72,108.24 L331.25,108.68 L331.67,109.25 L331.92,109.89 L332,110.46 L332.09,111.03 L332.4,111.62 L332.91,112.23 L333.26,112.85 L333.18,113.5 L332.84,114.23 L332.67,115.04 L332.84,115.82 L333.3,116.41 L333.97,116.76 L334.81,116.85 L335.74,116.8 L336.52,116.98 L336.96,117.56 L337.06,118.36 L336.95,119.17 L336.95,119.88 L337.14,120.61 L337.39,121.32 L337.69,121.89 L337.96,122.25 L338.25,122.64 L338.51,123.01 L338.95,123.53 L339.54,123.99 L340.21,124.09 L340.88,123.72 L341.51,123.08 L342.13,122.49 L342.77,122.06 L343.44,121.88 L344.17,122.01 L344.91,122.35 L345.59,122.55 L346.21,122.39 L346.72,121.89 L347.17,121.37 L347.69,121.04 L348.3,120.92 L348.96,120.89 L349.63,120.92 L350.29,120.96 L350.89,120.94 L351.37,120.7 L351.78,120.15 L352.29,119.38 L352.93,118.83 L353.62,118.75 L354.27,119.04 L354.89,119.44 L355.51,119.78 L356.16,120.01 L356.82,120.02 L357.42,119.71 L357.86,119.13 L358.14,118.63 L358.54,118.27 L359.18,118.06 L359.94,117.84 L360.56,117.45 L360.9,116.86 L361.05,116.14 L361.08,115.35 L361.08,114.5 L361.23,113.74 L361.71,113.23 L362.46,113.1 L363.39,113.29 L364.16,113.43 L364.79,113.26 L365.4,112.9 L366.02,112.54 L366.66,112.23 L367.28,112.04 L367.93,112.05 L368.61,112.21 L369.28,112.28 L369.97,111.99 L370.34,111.32 L370.54,110.54 L370.65,109.9 L370.79,109.42 L371.07,109 L371.57,108.51 L372.04,108.17 L372.62,107.73 L373.11,107.17 L373.23,106.51 L372.91,105.79 L372.52,105.06 L372.43,104.36 L372.62,103.67 L372.86,103 L373.06,102.35 L373.17,101.75 L373.13,101.19 L372.7,100.48 L372.04,99.94 L371.53,99.49 L371.35,98.97 L371.51,98.34 L371.89,97.66 L372.33,97.01 L372.7,96.35 L372.86,95.87 L372.89,95.31 L372.72,94.66 L372.44,93.93 L372.34,93.21 L372.68,92.59 L373.26,92.04 L373.68,91.45 L373.76,90.77 L373.63,90.07 L373.46,89.38 L373.31,88.74 L373.26,87.94 L373.63,87.27 L374.43,86.81 L375.31,86.4 L375.84,85.86 L375.92,85.17 L375.71,84.47 L375.41,83.85 L375.09,83.33 L374.76,82.9 L374.45,82.52 L374.18,82.04 L373.96,81.41 L373.67,80.77 L373.15,80.37 L372.34,80.23 L371.44,80.01 L370.84,79.45 L370.66,78.84 L370.65,78.15 L370.74,77.38 L370.89,76.58 L370.9,75.83 L370.5,75.27 L369.7,74.88 L368.89,74.5 L368.43,73.97 L368.28,73.31 L368.2,72.65 L368.05,72.04 L367.84,71.51 L367.41,70.88 L366.74,70.46 L365.97,70.16 L365.43,69.76 L365.26,69.1 L365.28,68.28 L365.21,67.5 L364.95,66.9 L364.52,66.5 L363.75,66.21 L362.93,66.2 L362.17,66.43 L361.52,66.69 L360.93,66.68 L360.31,66.29 L359.71,65.99 L359,66 L358.38,66.43 L357.82,67 L357.21,67.46 L356.55,67.74 L355.86,67.74 L355.32,67.37 L355.15,66.69 L355.3,65.98 L355.28,65.38 L354.73,64.87 L353.88,64.33 L353.24,63.71 L352.89,63.03 L352.82,62.31 L353.11,61.53 L353.62,60.79 L353.83,60.04 L353.53,59.32 L353.08,58.82 L352.81,58.61 L352.62,58.43 L352.42,58.26 L352.03,58.02 L351.51,57.78 L350.89,57.59 L350.21,57.51 L349.54,57.62 L348.97,58.13 L348.56,59.02 L348.16,59.89 L347.56,60.3 L346.77,60.29 L345.95,60.25 L345.22,60.36 L344.68,60.56 L344.19,60.89 L343.79,61.37 L343.46,61.96 L343.06,62.47 L342.45,62.7 L341.63,62.68 L340.82,62.71 L340.22,63.01 L339.85,63.6 L339.59,64.33 L339.39,65.09 L339.17,65.84 L338.84,66.44 L338.28,66.74 L337.51,66.76 L336.66,66.74 L336,66.95 L335.57,67.46 L335.22,68.09 L334.82,68.65 L334.35,69.11 L333.8,69.46 L333.15,69.67 L332.41,69.78 L331.74,69.96 L331.32,70.41 L331.18,71.12 L331.17,71.91 L331.12,72.58 L330.94,73.07 L330.4,73.6 L329.74,73.93 L329.05,74.16 L328.37,74.41 L327.83,74.8 L327.57,75.37 L327.66,76.08 L327.9,76.82 Z" fill="#bdbdbd" stroke="#5c9e3c" stroke-width="1.4" stroke-linejoin="round" stroke-opacity="0.85"/>
<path d="M328.92,37.98 L329.03,37.37 L329.3,36.76 L329.73,36.23 L330.3,35.83 L331.01,35.64 L331.79,35.67 L332.44,35.76 L333.04,35.73 L333.59,35.49 L334.12,35.1 L334.72,34.74 L335.39,34.58 L336.1,34.62 L336.67,34.75 L337.25,34.97 L337.83,35.24 L338.44,35.48 L339.1,35.55 L339.84,35.36 L340.59,35.06 L341.28,34.89 L341.88,34.99 L342.48,35.29 L343.16,35.64 L343.9,35.93 L344.63,36.12 L345.32,36.17 L345.97,36.02 L346.59,35.79 L347.21,35.7 L347.75,35.89 L348.12,36.37 L348.23,36.96 L348.22,37.57 L348.26,38.17 L348.42,38.81 L348.69,39.48 L349.05,40.15 L349.49,40.82 L349.78,41.34 L349.88,41.95 L349.7,42.62 L349.31,43.32 L348.96,44.02 L348.87,44.7 L349.01,45.35 L349.27,45.97 L349.55,46.55 L349.82,47.08 L350.07,47.55 L350.33,48.24 L350.41,48.92 L350.43,49.59 L350.55,50.2 L350.88,50.7 L351.39,51.06 L351.99,51.36 L352.55,51.65 L353.02,52 L353.41,52.44 L353.76,52.97 L354.03,53.57 L354.23,54.24 L354.41,54.89 L354.8,55.53 L355.5,55.9 L356.34,56.1 L357.02,56.43 L357.43,56.93 L357.53,57.51 L357.26,58.08 L356.72,58.49 L356.04,58.82 L355.34,59.16 L354.78,59.66 L354.35,60.19 L353.82,60.7 L353.2,60.98 L352.53,60.96 L351.83,60.81 L351.17,60.77 L350.33,60.97 L349.66,61.4 L349.19,62.06 L349.05,62.89 L349.22,63.59 L349.47,64.24 L349.53,64.93 L349.26,65.7 L348.88,66.49 L348.75,67.04 L348.77,67.66 L348.88,68.33 L348.98,69.02 L349.03,69.72 L348.96,70.42 L348.64,71.03 L348.08,71.45 L347.39,71.68 L346.75,71.9 L346.27,72.24 L345.93,72.77 L345.59,73.4 L345.12,73.99 L344.51,74.46 L343.78,74.75 L343.19,74.77 L342.59,74.59 L341.99,74.27 L341.37,73.99 L340.7,73.93 L339.97,74.08 L339.23,74.2 L338.53,74.11 L337.89,73.83 L337.29,73.48 L336.71,73.13 L336.14,72.81 L335.43,72.53 L334.71,72.54 L333.99,72.87 L333.3,73.31 L332.67,73.59 L332.08,73.64 L331.51,73.55 L330.96,73.44 L330.43,73.39 L329.65,73.54 L328.97,73.96 L328.49,74.59 L328.17,75.31 L327.71,75.89 L327.01,76.06 L326.41,75.73 L326.06,75.14 L325.78,74.5 L325.35,73.92 L324.68,73.45 L323.82,73.15 L323.22,73.05 L322.55,72.97 L321.91,72.79 L321.4,72.4 L321.05,71.78 L320.75,71.08 L320.39,70.5 L319.91,70.1 L319.39,69.79 L318.9,69.5 L318.26,69.08 L317.67,68.65 L317.18,68.13 L316.9,67.47 L316.84,66.79 L316.86,66.21 L316.7,65.66 L316.47,65.24 L316.21,64.65 L316.05,63.97 L316.07,63.28 L316.27,62.61 L316.65,61.99 L317.19,61.45 L317.84,60.95 L318.36,60.41 L318.59,59.75 L318.59,59.03 L318.57,58.34 L318.72,57.71 L319.05,57.14 L319.45,56.59 L319.84,56.04 L320.19,55.48 L320.47,54.9 L320.59,54.27 L320.5,53.58 L320.3,52.87 L320.17,52.19 L320.27,51.55 L320.64,50.99 L321.14,50.43 L321.59,49.86 L321.93,49.28 L322.19,48.71 L322.36,48.16 L322.44,47.6 L322.51,47.03 L322.68,46.48 L323.15,45.99 L323.85,45.85 L324.6,45.95 L325.32,45.99 L325.98,45.78 L326.58,45.4 L327.04,44.95 L327.29,44.49 L327.39,43.9 L327.44,43.34 L327.66,42.77 L328.13,42.15 L328.66,41.53 L329,40.97 L329.07,40.13 L328.86,39.37 L328.72,38.67 Z" fill="#9e9e9e" stroke="#e6dc1c" stroke-width="2.9" stroke-linejoin="round"/>
<path d="M328.92,37.98 L329.03,37.37 L329.3,36.76 L329.73,36.23 L330.3,35.83 L331.01,35.64 L331.79,35.67 L332.44,35.76 L333.04,35.73 L333.59,35.49 L334.12,35.1 L334.72,34.74 L335.39,34.58 L336.1,34.62 L336.67,34.75 L337.25,34.97 L337.83,35.24 L338.44,35.48 L339.1,35.55 L339.84,35.36 L340.59,35.06 L341.28,34.89 L341.88,34.99 L342.48,35.29 L343.16,35.64 L343.9,35.93 L344.63,36.12 L345.32,36.17 L345.97,36.02 L346.59,35.79 L347.21,35.7 L347.75,35.89 L348.12,36.37 L348.23,36.96 L348.22,37.57 L348.26,38.17 L348.42,38.81 L348.69,39.48 L349.05,40.15 L349.49,40.82 L349.78,41.34 L349.88,41.95 L349.7,42.62 L349.31,43.32 L348.96,44.02 L348.87,44.7 L349.01,45.35 L349.27,45.97 L349.55,46.55 L349.82,47.08 L350.07,47.55 L350.33,48.24 L350.41,48.92 L350.43,49.59 L350.55,50.2 L350.88,50.7 L351.39,51.06 L351.99,51.36 L352.55,51.65 L353.02,52 L353.41,52.44 L353.76,52.97 L354.03,53.57 L354.23,54.24 L354.41,54.89 L354.8,55.53 L355.5,55.9 L356.34,56.1 L357.02,56.43 L357.43,56.93 L357.53,57.51 L357.26,58.08 L356.72,58.49 L356.04,58.82 L355.34,59.16 L354.78,59.66 L354.35,60.19 L353.82,60.7 L353.2,60.98 L352.53,60.96 L351.83,60.81 L351.17,60.77 L350.33,60.97 L349.66,61.4 L349.19,62.06 L349.05,62.89 L349.22,63.59 L349.47,64.24 L349.53,64.93 L349.26,65.7 L348.88,66.49 L348.75,67.04 L348.77,67.66 L348.88,68.33 L348.98,69.02 L349.03,69.72 L348.96,70.42 L348.64,71.03 L348.08,71.45 L347.39,71.68 L346.75,71.9 L346.27,72.24 L345.93,72.77 L345.59,73.4 L345.12,73.99 L344.51,74.46 L343.78,74.75 L343.19,74.77 L342.59,74.59 L341.99,74.27 L341.37,73.99 L340.7,73.93 L339.97,74.08 L339.23,74.2 L338.53,74.11 L337.89,73.83 L337.29,73.48 L336.71,73.13 L336.14,72.81 L335.43,72.53 L334.71,72.54 L333.99,72.87 L333.3,73.31 L332.67,73.59 L332.08,73.64 L331.51,73.55 L330.96,73.44 L330.43,73.39 L329.65,73.54 L328.97,73.96 L328.49,74.59 L328.17,75.31 L327.71,75.89 L327.01,76.06 L326.41,75.73 L326.06,75.14 L325.78,74.5 L325.35,73.92 L324.68,73.45 L323.82,73.15 L323.22,73.05 L322.55,72.97 L321.91,72.79 L321.4,72.4 L321.05,71.78 L320.75,71.08 L320.39,70.5 L319.91,70.1 L319.39,69.79 L318.9,69.5 L318.26,69.08 L317.67,68.65 L317.18,68.13 L316.9,67.47 L316.84,66.79 L316.86,66.21 L316.7,65.66 L316.47,65.24 L316.21,64.65 L316.05,63.97 L316.07,63.28 L316.27,62.61 L316.65,61.99 L317.19,61.45 L317.84,60.95 L318.36,60.41 L318.59,59.75 L318.59,59.03 L318.57,58.34 L318.72,57.71 L319.05,57.14 L319.45,56.59 L319.84,56.04 L320.19,55.48 L320.47,54.9 L320.59,54.27 L320.5,53.58 L320.3,52.87 L320.17,52.19 L320.27,51.55 L320.64,50.99 L321.14,50.43 L321.59,49.86 L321.93,49.28 L322.19,48.71 L322.36,48.16 L322.44,47.6 L322.51,47.03 L322.68,46.48 L323.15,45.99 L323.85,45.85 L324.6,45.95 L325.32,45.99 L325.98,45.78 L326.58,45.4 L327.04,44.95 L327.29,44.49 L327.39,43.9 L327.44,43.34 L327.66,42.77 L328.13,42.15 L328.66,41.53 L329,40.97 L329.07,40.13 L328.86,39.37 L328.72,38.67 Z" fill="none" stroke="#c2b62c" stroke-width="0.9" stroke-linejoin="round"/>
<circle cx="375.8" cy="139" r="24" fill="url(#glow)"/>
<polyline points="357.2,116.4 362,120.1 366.7,116.4" fill="none" stroke="#4a3426" stroke-width="1.2"/>
<polyline points="362,120.1 362,129.1 357.7,132.8 352.4,129.1" fill="none" stroke="#4a3426" stroke-width="1.2"/>
<line x1="357.7" y1="132.8" x2="357.7" y2="141" stroke="#7a6a60" stroke-width="1.3"/>
<g transform="rotate(8 361.8 145.8)">
<polygon points="361.8,139.2 363.55,143.4 368.08,143.76 364.62,146.72 365.68,151.14 361.8,148.77 357.92,151.14 358.98,146.72 355.52,143.76 360.05,143.4" fill="#fff" stroke="#777" stroke-width="0.8" stroke-linejoin="round"/>
<ellipse cx="359.2" cy="141.2" rx="3.4" ry="1.15" fill="#3a3a3a"/>
<ellipse cx="362.4" cy="150.8" rx="3.6" ry="1.15" fill="#3a3a3a"/>
</g>
<polyline points="361.4,151 362.6,158 363,161.4 359.6,166" fill="none" stroke="#888" stroke-width="1"/>
<polygon points="352.4,161.4 372.6,161.4 366.7,169.4 346.1,169.4" fill="none" stroke="#9a9a9a" stroke-width="1"/>
<line x1="327.3" y1="34.6" x2="330.6" y2="38.6" stroke="#2b2b8c" stroke-width="1.4"/>
<line x1="390.4" y1="32.5" x2="389.3" y2="39.4" stroke="#2b2b8c" stroke-width="1.4"/>
<circle cx="322.6" cy="28.2" r="7.2" fill="#d92121"/>
<circle cx="393" cy="26.2" r="7.3" fill="#00a196"/>
<path d="M335.73,70.73 L337.52,77.08 M339.98,70.83 L341.77,77.18 M344.15,70.93 L345.97,77.27 M347.94,70.99 L349.81,77.32 M352.29,71.02 L354.2,77.34 M356.37,71.04 L358.32,77.34 M360.35,71 L362.42,77.27 M364.47,70.87 L366.72,77.07 M368.58,70.63 L370.98,76.78 M372.68,70.23 L375.41,76.24 M376.73,69.56 L379.9,75.35 M380.55,68.64 L384.14,74.18 M384.54,67.34 L388.56,72.58 M388.42,65.73 L392.84,70.64 M391.97,63.97 L396.64,68.64 M395.65,61.94 L400.47,66.45 M399.1,59.88 L404.1,64.19 M402.62,57.54 L407.86,61.56 M405.75,55.14 L411.34,58.65 M408.84,52.25 L414.66,55.36" stroke="#4b92d2" stroke-width="1.5" fill="none"/>
<path d="M334.6,70.7 L334.76,70.7 L334.93,70.71 L335.11,70.71 L335.31,70.72 L335.51,70.72 L335.73,70.73 L335.95,70.73 L336.19,70.74 L336.43,70.74 L336.69,70.75 L336.95,70.76 L337.22,70.76 L337.5,70.77 L337.79,70.78 L338.08,70.79 L338.39,70.79 L338.69,70.8 L339.01,70.81 L339.32,70.82 L339.65,70.82 L339.98,70.83 L340.31,70.84 L340.65,70.85 L340.99,70.86 L341.33,70.86 L341.68,70.87 L342.03,70.88 L342.38,70.89 L342.73,70.9 L343.08,70.9 L343.44,70.91 L343.79,70.92 L344.15,70.93 L344.5,70.93 L344.86,70.94 L345.21,70.95 L345.56,70.95 L345.91,70.96 L346.25,70.96 L346.6,70.97 L346.94,70.97 L347.28,70.98 L347.61,70.98 L347.94,70.99 L348.26,70.99 L348.58,70.99 L348.89,71 L349.2,71 L349.5,71 L349.81,71 L350.12,71.01 L350.43,71.01 L350.73,71.01 L351.04,71.01 L351.36,71.02 L351.67,71.02 L351.98,71.02 L352.29,71.02 L352.6,71.02 L352.92,71.03 L353.23,71.03 L353.55,71.03 L353.86,71.03 L354.17,71.03 L354.49,71.03 L354.8,71.04 L355.12,71.04 L355.43,71.04 L355.74,71.04 L356.06,71.04 L356.37,71.04 L356.68,71.04 L356.99,71.04 L357.3,71.04 L357.61,71.03 L357.92,71.03 L358.23,71.03 L358.54,71.03 L358.84,71.03 L359.15,71.02 L359.45,71.02 L359.75,71.01 L360.05,71.01 L360.35,71 L360.65,71 L360.95,70.99 L361.24,70.99 L361.53,70.98 L361.83,70.97 L362.11,70.96 L362.4,70.95 L362.68,70.94 L362.97,70.93 L363.25,70.92 L363.52,70.91 L363.8,70.9 L364.14,70.88 L364.47,70.87 L364.8,70.85 L365.13,70.84 L365.45,70.82 L365.77,70.8 L366.1,70.79 L366.41,70.77 L366.73,70.75 L367.04,70.73 L367.35,70.71 L367.66,70.69 L367.97,70.67 L368.28,70.65 L368.58,70.63 L368.88,70.61 L369.18,70.59 L369.48,70.56 L369.78,70.54 L370.07,70.51 L370.37,70.49 L370.66,70.46 L370.95,70.43 L371.24,70.4 L371.53,70.37 L371.82,70.34 L372.11,70.3 L372.39,70.27 L372.68,70.23 L372.96,70.2 L373.25,70.16 L373.53,70.12 L373.81,70.08 L374.09,70.04 L374.38,69.99 L374.66,69.95 L374.94,69.9 L375.22,69.85 L375.5,69.8 L375.81,69.74 L376.12,69.68 L376.43,69.62 L376.73,69.56 L377.04,69.5 L377.34,69.44 L377.64,69.37 L377.93,69.3 L378.23,69.24 L378.52,69.17 L378.82,69.1 L379.11,69.02 L379.4,68.95 L379.69,68.88 L379.98,68.8 L380.26,68.72 L380.55,68.64 L380.84,68.56 L381.12,68.48 L381.41,68.39 L381.69,68.3 L381.98,68.22 L382.26,68.13 L382.55,68.03 L382.83,67.94 L383.11,67.85 L383.4,67.75 L383.68,67.65 L383.97,67.55 L384.26,67.45 L384.54,67.34 L384.83,67.23 L385.12,67.12 L385.41,67.01 L385.7,66.9 L385.97,66.79 L386.24,66.68 L386.51,66.57 L386.78,66.46 L387.05,66.34 L387.33,66.23 L387.6,66.11 L387.87,65.98 L388.15,65.86 L388.42,65.73 L388.69,65.61 L388.97,65.48 L389.24,65.35 L389.52,65.21 L389.79,65.08 L390.07,64.94 L390.34,64.81 L390.61,64.67 L390.89,64.53 L391.16,64.39 L391.43,64.25 L391.7,64.11 L391.97,63.97 L392.24,63.82 L392.51,63.68 L392.78,63.54 L393.05,63.39 L393.32,63.25 L393.58,63.1 L393.84,62.96 L394.11,62.81 L394.37,62.67 L394.63,62.52 L394.89,62.38 L395.14,62.23 L395.4,62.09 L395.65,61.94 L395.9,61.8 L396.17,61.64 L396.44,61.49 L396.71,61.33 L396.98,61.17 L397.25,61.01 L397.52,60.85 L397.78,60.69 L398.05,60.53 L398.31,60.37 L398.58,60.21 L398.84,60.05 L399.1,59.88 L399.36,59.72 L399.62,59.55 L399.88,59.39 L400.14,59.22 L400.39,59.06 L400.65,58.89 L400.9,58.72 L401.15,58.56 L401.4,58.39 L401.65,58.22 L401.89,58.05 L402.14,57.88 L402.38,57.71 L402.62,57.54 L402.86,57.37 L403.1,57.2 L403.33,57.03 L403.57,56.86 L403.8,56.69 L404.03,56.52 L404.25,56.35 L404.48,56.17 L404.7,56 L404.96,55.79 L405.22,55.58 L405.49,55.36 L405.75,55.14 L406.02,54.91 L406.28,54.67 L406.55,54.43 L406.81,54.19 L407.08,53.95 L407.34,53.7 L407.6,53.46 L407.85,53.21 L408.11,52.97 L408.36,52.73 L408.6,52.49 L408.84,52.25 L409.07,52.02 L409.3,51.79 L409.53,51.57 L409.74,51.35 L409.95,51.14 L410.15,50.94 L410.34,50.75 L410.52,50.56 L410.7,50.39 L410.86,50.23 L411.01,50.08 L411.15,49.94 L411.28,49.81 L411.4,49.7" stroke="#4b92d2" stroke-width="2.1" fill="none" stroke-linecap="round"/>
<circle cx="329.9" cy="71.6" r="5.7" fill="#3d72c2" stroke="#2d5aa0" stroke-width="0.6"/>
<text x="327" y="75.1" font-size="9" fill="#111" transform="rotate(-12 329.9 71.6)">P</text>
<text x="283.9" y="105.8" font-size="12" font-weight="normal" text-anchor="middle" fill="#222" >binary</text>
<text x="283.8" y="119.9" font-size="12" font-weight="normal" text-anchor="middle" fill="#222" >complex</text>
<path d="M530.77,81.73 L531.06,81.36 L531.64,81.09 L532.33,80.99 L533.03,81.13 L533.65,81.58 L534.14,82.43 L534.68,83.28 L535.43,83.59 L536.26,83.34 L536.9,83.1 L537.52,83.04 L538.14,83.17 L538.77,83.39 L539.42,83.66 L540.09,83.92 L540.78,83.95 L541.44,83.55 L542.05,82.85 L542.61,82.29 L543.21,82.17 L543.83,82.36 L544.53,82.62 L545.27,82.8 L546,82.87 L546.67,82.74 L547.2,82.29 L547.61,81.61 L548.04,81 L548.62,80.72 L549.32,80.73 L550.01,80.76 L550.59,80.62 L551.15,80.25 L551.63,79.78 L552.07,79.24 L552.47,78.68 L552.88,78.21 L553.39,78 L554.1,78.12 L554.99,78.39 L555.88,78.44 L556.56,77.99 L556.88,77.49 L557.13,76.9 L557.36,76.27 L557.61,75.63 L557.97,75.09 L558.58,74.73 L559.34,74.48 L559.92,74.07 L560.15,73.35 L560.22,72.49 L560.42,71.75 L560.85,71.22 L561.43,70.88 L562.12,70.71 L562.85,70.72 L563.52,70.82 L564.32,70.77 L564.8,70.24 L565.15,69.43 L565.59,68.76 L566.2,68.44 L566.87,68.39 L567.54,68.46 L568.18,68.62 L568.8,68.81 L569.46,68.86 L570.29,68.66 L570.91,68.54 L571.54,68.62 L572,69.03 L572.25,69.75 L572.39,70.58 L572.59,71.33 L572.95,71.92 L573.48,72.36 L574.23,72.58 L575.15,72.65 L575.94,72.84 L576.39,73.36 L576.59,74.11 L576.85,74.77 L577.28,75.22 L577.82,75.48 L578.36,75.64 L578.84,75.74 L579.69,75.86 L580.34,76.08 L580.89,76.65 L581.46,77.37 L582.06,77.85 L582.62,77.91 L583.16,77.67 L583.77,77.38 L584.47,77.26 L585.21,77.32 L585.88,77.57 L586.4,78.1 L586.71,78.88 L586.99,79.6 L587.49,80.03 L588.21,80.33 L588.84,80.79 L589.1,81.47 L589.04,82.06 L588.8,82.63 L588.43,83.18 L587.97,83.71 L587.57,84.23 L587.47,84.84 L587.79,85.59 L588.26,86.41 L588.46,87.18 L588.26,87.79 L587.84,88.3 L587.4,88.77 L586.92,89.31 L586.49,89.83 L586.21,90.41 L586.15,91.1 L586.14,91.84 L585.93,92.44 L585.37,92.84 L584.63,93.16 L583.98,93.55 L583.61,94.11 L583.51,94.85 L583.68,95.6 L584.05,96.34 L584.48,97.06 L584.66,97.76 L584.37,98.39 L583.74,98.92 L583.1,99.36 L582.69,99.83 L582.48,100.33 L582.28,100.89 L582.03,101.45 L581.71,101.97 L581.29,102.43 L580.73,102.73 L579.98,102.83 L579.2,102.89 L578.62,103.19 L578.33,103.87 L578.24,104.69 L578.11,105.48 L577.82,106.11 L577.36,106.58 L576.74,106.87 L575.97,106.98 L575.14,106.97 L574.46,107.1 L574.01,107.54 L573.65,108.19 L573.2,108.73 L572.65,108.96 L572.02,108.97 L571.37,108.89 L570.74,108.81 L570.12,108.77 L569.53,108.87 L568.98,109.25 L568.45,109.9 L567.89,110.55 L567.29,110.84 L566.65,110.7 L566.02,110.3 L565.35,109.85 L564.7,109.54 L564.05,109.36 L563.39,109.39 L562.7,109.65 L562,109.95 L561.33,109.95 L560.73,109.55 L560.18,109.02 L559.61,108.71 L559.01,108.69 L558.24,108.9 L557.45,109.15 L556.67,109.37 L555.93,109.39 L555.33,109.01 L554.91,108.24 L554.6,107.39 L554.21,106.8 L553.64,106.57 L553.05,106.47 L552.45,106.32 L551.9,106.05 L551.41,105.71 L551.02,105.26 L550.77,104.67 L550.61,103.99 L550.33,103.39 L549.74,103.06 L548.91,103.01 L548.13,103.01 L547.51,102.81 L547.07,102.37 L546.75,101.75 L546.5,101.01 L546.28,100.21 L545.99,99.5 L545.46,99.11 L544.68,99.06 L543.85,99.08 L543.2,98.87 L542.75,98.4 L542.36,97.82 L541.93,97.28 L541.44,96.83 L540.87,96.5 L540.16,96.36 L539.35,96.37 L538.6,96.28 L538.12,95.85 L537.92,95.09 L537.82,94.26 L537.64,93.5 L537.29,92.96 L536.8,92.58 L536.2,92.33 L535.5,92.18 L534.79,92.02 L534.24,91.72 L533.95,91.2 L533.83,90.55 L533.71,89.93 L533.3,89.37 L532.66,89.03 L531.97,88.71 L531.37,88.33 L530.9,87.85 L530.62,87.26 L530.64,86.55 L530.94,85.82 L531.34,85.02 L531.3,84.32 L530.73,83.7 L530.15,83.04 L529.9,82.35 L530.01,81.68 Z" fill="#d9d9d9" stroke="#7379b8" stroke-width="1.4" stroke-linejoin="round" />
<path d="M565.85,52.65 L566.44,52.21 L566.78,51.7 L566.97,51.06 L567.2,50.39 L567.56,49.79 L568.04,49.29 L568.67,48.95 L569.38,48.87 L570.13,48.92 L570.78,48.86 L571.22,48.43 L571.5,47.65 L571.76,46.79 L572.15,46.12 L572.71,45.68 L573.21,45.48 L573.83,45.37 L574.54,45.35 L575.23,45.27 L575.77,44.96 L576.12,44.36 L576.45,43.7 L576.92,43.26 L577.55,43.12 L578.23,43.14 L578.87,43.19 L579.56,43.19 L580.18,43.08 L580.71,42.74 L581.18,42.11 L581.67,41.35 L582.23,40.81 L582.9,40.76 L583.64,41.08 L584.4,41.42 L585.03,41.55 L585.66,41.53 L586.27,41.37 L586.86,41.04 L587.45,40.62 L588.09,40.4 L588.79,40.6 L589.47,41.06 L590.1,41.38 L590.7,41.34 L591.35,41.04 L592.01,40.73 L592.72,40.46 L593.45,40.3 L594.13,40.4 L594.67,40.92 L595.08,41.74 L595.49,42.46 L596.04,42.8 L596.72,42.85 L597.42,42.9 L598.04,43.08 L598.58,43.37 L599.08,43.82 L599.45,44.42 L599.73,45.11 L600.12,45.64 L600.82,45.85 L601.73,45.87 L602.56,46 L603.11,46.4 L603.4,46.99 L603.53,47.66 L603.57,48.35 L603.52,49.13 L603.5,49.77 L603.69,50.27 L604.16,50.7 L604.72,51.12 L605.13,51.59 L605.26,52.16 L605.25,52.84 L605.32,53.57 L605.56,54.13 L605.96,54.62 L606.5,55 L607.24,55.22 L608.08,55.35 L608.78,55.65 L609.08,56.3 L609.04,57.21 L608.93,58.07 L608.97,58.73 L609.17,59.25 L609.48,59.76 L609.92,60.28 L610.43,60.84 L610.78,61.48 L610.73,62.18 L610.36,62.9 L610.11,63.57 L610.25,64.22 L610.64,64.88 L611,65.53 L611.2,66.17 L611.23,66.84 L611.02,67.46 L610.51,68.02 L609.8,68.48 L609.17,68.88 L608.87,69.34 L608.89,69.94 L609,70.66 L608.93,71.38 L608.61,71.99 L608.21,72.38 L607.72,72.7 L607.12,72.91 L606.48,73.05 L605.91,73.33 L605.5,73.91 L605.18,74.71 L604.74,75.35 L604.07,75.58 L603.26,75.48 L602.43,75.3 L601.66,75.18 L600.97,75.18 L600.43,75.42 L600,75.96 L599.6,76.69 L599.14,77.29 L598.55,77.52 L597.86,77.44 L597.18,77.32 L596.53,77.33 L595.93,77.49 L595.34,77.75 L594.77,78.11 L594.19,78.52 L593.59,78.78 L592.95,78.67 L592.29,78.18 L591.66,77.58 L591.06,77.23 L590.44,77.25 L589.8,77.51 L589.13,77.85 L588.46,78.2 L587.78,78.46 L587.15,78.45 L586.58,78.09 L586.04,77.6 L585.51,77.27 L584.96,77.23 L584.4,77.4 L583.59,77.66 L582.88,77.67 L582.25,77.47 L581.7,77.12 L581.22,76.6 L580.78,75.98 L580.3,75.46 L579.66,75.34 L578.8,75.68 L578.08,76.03 L577.39,76.19 L576.76,76.07 L576.17,75.74 L575.61,75.29 L575.08,74.77 L574.53,74.32 L573.88,74.16 L573.13,74.25 L572.4,74.27 L571.84,73.95 L571.5,73.34 L571.27,72.53 L571.03,71.84 L570.69,71.3 L570.21,70.89 L569.5,70.63 L568.61,70.47 L567.8,70.22 L567.37,69.72 L567.31,69.01 L567.32,68.25 L567.17,67.53 L566.8,66.97 L566.33,66.5 L565.81,66.08 L565.26,65.66 L564.84,65.16 L564.73,64.52 L564.96,63.81 L565.32,63.22 L565.5,62.74 L565.35,62.2 L565.01,61.49 L564.73,60.68 L564.6,59.89 L564.67,59.18 L565.04,58.62 L565.68,58.15 L566.29,57.64 L566.56,56.95 L566.35,56.27 L565.95,55.65 L565.69,55.04 L565.65,54.42 L565.78,53.81 L566.03,53.27 Z" fill="#e7e8e7" stroke="#c463b8" stroke-width="1.4" stroke-linejoin="round" />
<path d="M533.35,38.53 L532.54,38.81 L531.76,38.88 L530.95,38.83 L530.17,38.87 L529.59,39.22 L529.31,40.01 L529.34,40.9 L529.46,41.7 L529.32,42.36 L528.89,42.94 L528.27,43.39 L527.53,43.63 L526.79,43.63 L526.33,43.61 L525.8,43.81 L525.15,44.2 L524.42,44.43 L523.72,44.19 L523.04,43.66 L522.36,43.23 L521.65,43.04 L520.96,43.11 L520.38,43.44 L519.87,44.24 L519.56,45.07 L519.23,45.57 L518.67,45.72 L517.91,45.78 L517.19,46.03 L516.68,46.55 L516.45,47.11 L516.4,47.75 L516.54,48.44 L516.76,49.13 L516.79,49.82 L516.41,50.5 L515.87,51.14 L515.6,51.72 L515.68,52.26 L515.98,53.02 L516.19,53.79 L516.26,54.51 L516.21,55.12 L515.99,55.61 L515.49,56.04 L514.78,56.59 L514.36,57.22 L514.36,57.91 L514.78,58.54 L515.28,59.15 L515.57,59.8 L515.66,60.49 L515.59,61.16 L515.37,61.74 L515.08,62.17 L514.8,62.64 L514.77,63.3 L514.83,64.23 L514.69,65.1 L514.26,65.6 L513.66,65.81 L513.04,65.99 L512.18,66.27 L511.37,66.55 L510.81,67.12 L510.76,67.99 L511.34,68.62 L511.77,68.8 L512.18,69.01 L512.5,69.41 L512.79,70 L513.17,70.6 L513.7,71.03 L514.36,71.29 L515.12,71.39 L515.96,71.35 L516.77,71.33 L517.29,71.55 L517.63,72.13 L517.87,72.97 L518.18,73.77 L518.66,74.26 L519.29,74.48 L519.97,74.57 L520.67,74.6 L521.37,74.63 L521.97,74.8 L522.4,75.2 L522.67,75.74 L522.96,76.48 L523.41,76.9 L524.07,77.14 L524.76,77.36 L525.33,77.62 L525.74,77.92 L526.07,78.28 L526.4,78.82 L526.71,79.45 L527.13,80.15 L527.69,80.66 L528.37,80.69 L529.11,80.32 L529.85,79.93 L530.57,79.82 L531.25,79.98 L531.89,80.27 L532.48,80.67 L532.97,81.07 L533.55,81.33 L534.31,81.32 L535.17,81.2 L535.87,81.34 L536.32,81.91 L536.65,82.68 L537.05,83.39 L537.57,83.91 L538.2,84.21 L538.91,84.21 L539.58,83.81 L540.05,83.13 L540.41,82.48 L540.89,82.12 L541.59,82.03 L542.33,81.95 L542.95,81.68 L543.45,81.26 L543.91,80.79 L544.39,80.31 L544.99,79.83 L545.69,79.59 L546.46,79.84 L547.24,80.43 L548,80.84 L548.71,80.75 L549.31,80.28 L549.78,79.68 L550.12,79.08 L550.35,78.49 L550.52,78.01 L550.83,77.62 L551.37,77.26 L552.01,76.88 L552.45,76.38 L552.58,75.65 L552.71,74.76 L552.96,74.26 L553.39,73.87 L553.95,73.57 L554.62,73.36 L555.39,73.23 L556.15,73.07 L556.68,72.67 L556.86,71.89 L556.87,70.95 L557,70.15 L557.37,69.65 L557.9,69.33 L558.46,69.07 L559.18,68.76 L559.85,68.43 L560.34,67.95 L560.59,67.26 L560.75,66.52 L561.1,65.99 L561.73,65.72 L562.48,65.53 L563.14,65.25 L563.62,64.79 L563.9,64.08 L563.88,63.31 L563.57,62.56 L563.14,61.84 L562.9,61.16 L563.12,60.52 L563.75,59.96 L564.44,59.45 L564.82,58.99 L565.05,58.42 L565.24,57.76 L565.42,57.08 L565.63,56.41 L565.99,55.85 L566.61,55.45 L567.33,55.08 L567.84,54.57 L567.95,53.91 L567.52,53.09 L566.86,52.43 L566.32,51.89 L565.95,51.39 L565.76,50.86 L565.74,50.2 L565.74,49.45 L565.42,48.76 L564.74,48.45 L563.94,48.64 L563.17,48.88 L562.47,48.8 L561.91,48.45 L561.59,48.01 L561.47,47.36 L561.52,46.75 L561.44,46.13 L560.89,45.41 L560.14,44.5 L560.08,43.57 L560.74,42.88 L561.72,42.47 L562.58,41.98 L563.1,41.24 L562.97,40.31 L562.1,39.89 L561.67,39.91 L561.24,39.95 L560.81,39.87 L560.38,39.59 L559.92,39.13 L559.4,38.7 L558.79,38.51 L558.11,38.59 L557.4,38.84 L556.66,39.21 L555.9,39.58 L555.18,39.66 L554.51,39.18 L553.88,38.39 L553.24,37.82 L552.56,37.71 L551.87,37.87 L551.2,38.04 L550.56,38.16 L549.96,38.21 L549.28,38.04 L548.67,37.56 L548.08,37.05 L547.41,36.9 L546.63,37.19 L545.83,37.57 L545.11,37.7 L544.48,37.54 L543.91,37.17 L543.39,36.63 L542.89,35.99 L542.36,35.45 L541.77,35.25 L541.14,35.44 L540.54,35.83 L540,36.16 L539.28,36.33 L538.54,36.25 L537.8,36.19 L537.07,36.23 L536.39,36.41 L535.85,36.87 L535.45,37.57 L535.09,38.24 L534.6,38.6 L533.96,38.6 Z" fill="#bdbdbd" stroke="#5c9e3c" stroke-width="1.4" stroke-linejoin="round" stroke-opacity="0.85"/>
<path d="M535.1,22.34 L535.27,21.86 L535.61,21.37 L536.09,20.92 L536.68,20.55 L537.35,20.33 L538.11,20.32 L538.9,20.43 L539.65,20.34 L540.31,19.92 L540.78,19.51 L541.31,19.16 L541.9,18.99 L542.54,18.99 L543.19,19.1 L543.86,19.28 L544.54,19.49 L545.2,19.65 L545.83,19.62 L546.4,19.32 L546.9,18.84 L547.36,18.35 L547.96,17.9 L548.6,17.7 L549.26,17.62 L549.92,17.52 L550.56,17.38 L551.18,17.21 L551.77,16.94 L552.32,16.53 L552.89,16.04 L553.46,15.71 L554.12,15.64 L554.85,15.82 L555.6,16.04 L556.3,16.12 L556.95,16 L557.57,15.75 L558.16,15.38 L558.75,14.92 L559.35,14.49 L559.97,14.25 L560.63,14.28 L561.3,14.53 L561.96,14.76 L562.6,14.82 L563.23,14.73 L563.86,14.59 L564.5,14.5 L565.14,14.49 L565.77,14.59 L566.37,14.84 L566.9,15.31 L567.36,15.9 L567.83,16.42 L568.4,16.68 L569.11,16.7 L569.87,16.69 L570.59,16.78 L571.22,17.03 L571.75,17.39 L572.17,17.86 L572.49,18.46 L572.72,19.12 L572.96,19.75 L573.33,20.24 L573.86,20.62 L574.4,21.01 L574.79,21.5 L574.98,22.08 L574.99,22.68 L574.87,23.32 L574.69,23.95 L574.48,24.55 L574.34,25.17 L574.38,25.83 L574.63,26.57 L574.92,27.32 L575.01,28.01 L574.84,28.59 L574.36,29.22 L573.82,29.77 L573.33,30.29 L572.92,30.81 L572.57,31.36 L572.32,31.97 L572.16,32.64 L571.92,33.29 L571.46,33.77 L570.81,34.05 L570.11,34.27 L569.51,34.65 L569.12,35.24 L568.98,35.96 L569.03,36.65 L569.21,37.33 L569.45,38.01 L569.59,38.69 L569.46,39.36 L569.06,40 L568.6,40.55 L568.26,41.01 L568.02,41.74 L567.95,42.48 L567.82,43.13 L567.55,43.66 L567.15,44.01 L566.46,44.13 L565.71,43.82 L565.12,43.24 L564.68,42.78 L564.36,42.55 L563.81,42.09 L563.21,41.55 L562.8,41.18 L562.55,40.96 L562.22,40.74 L561.68,40.41 L560.98,40.01 L560.17,39.68 L559.33,39.69 L558.61,40.13 L558.18,40.62 L557.76,41.08 L557.26,41.42 L556.65,41.68 L556,41.93 L555.39,42.23 L554.81,42.56 L554.27,42.96 L553.82,43.45 L553.4,44.09 L552.93,44.71 L552.31,45.07 L551.54,45.08 L550.73,44.91 L550,44.78 L549.35,44.76 L548.77,44.81 L548.17,44.91 L547.53,45.08 L546.84,45.26 L546.13,45.29 L545.49,45.03 L544.93,44.56 L544.39,44.1 L543.81,43.84 L543.18,43.75 L542.51,43.68 L541.86,43.53 L541.25,43.27 L540.7,42.92 L540.28,42.45 L540.01,41.84 L539.86,41.12 L539.67,40.41 L539.31,39.86 L538.68,39.52 L537.94,39.41 L537.22,39.33 L536.56,39.15 L535.97,38.88 L535.45,38.5 L535.04,38.01 L534.79,37.44 L534.6,36.85 L534.32,36.32 L533.85,35.83 L533.3,35.32 L532.88,34.71 L532.75,34.02 L532.88,33.3 L533.13,32.6 L533.41,32.01 L533.72,31.44 L533.97,30.86 L534.04,30.24 L533.88,29.56 L533.61,28.84 L533.46,28.15 L533.55,27.54 L533.79,26.97 L534.05,26.33 L534.18,25.64 L534.19,24.95 L534.12,24.28 L533.98,23.63 L533.85,22.95 L533.89,22.24 Z" fill="#9e9e9e" stroke="#e6dc1c" stroke-width="2.9" stroke-linejoin="round"/>
<path d="M535.1,22.34 L535.27,21.86 L535.61,21.37 L536.09,20.92 L536.68,20.55 L537.35,20.33 L538.11,20.32 L538.9,20.43 L539.65,20.34 L540.31,19.92 L540.78,19.51 L541.31,19.16 L541.9,18.99 L542.54,18.99 L543.19,19.1 L543.86,19.28 L544.54,19.49 L545.2,19.65 L545.83,19.62 L546.4,19.32 L546.9,18.84 L547.36,18.35 L547.96,17.9 L548.6,17.7 L549.26,17.62 L549.92,17.52 L550.56,17.38 L551.18,17.21 L551.77,16.94 L552.32,16.53 L552.89,16.04 L553.46,15.71 L554.12,15.64 L554.85,15.82 L555.6,16.04 L556.3,16.12 L556.95,16 L557.57,15.75 L558.16,15.38 L558.75,14.92 L559.35,14.49 L559.97,14.25 L560.63,14.28 L561.3,14.53 L561.96,14.76 L562.6,14.82 L563.23,14.73 L563.86,14.59 L564.5,14.5 L565.14,14.49 L565.77,14.59 L566.37,14.84 L566.9,15.31 L567.36,15.9 L567.83,16.42 L568.4,16.68 L569.11,16.7 L569.87,16.69 L570.59,16.78 L571.22,17.03 L571.75,17.39 L572.17,17.86 L572.49,18.46 L572.72,19.12 L572.96,19.75 L573.33,20.24 L573.86,20.62 L574.4,21.01 L574.79,21.5 L574.98,22.08 L574.99,22.68 L574.87,23.32 L574.69,23.95 L574.48,24.55 L574.34,25.17 L574.38,25.83 L574.63,26.57 L574.92,27.32 L575.01,28.01 L574.84,28.59 L574.36,29.22 L573.82,29.77 L573.33,30.29 L572.92,30.81 L572.57,31.36 L572.32,31.97 L572.16,32.64 L571.92,33.29 L571.46,33.77 L570.81,34.05 L570.11,34.27 L569.51,34.65 L569.12,35.24 L568.98,35.96 L569.03,36.65 L569.21,37.33 L569.45,38.01 L569.59,38.69 L569.46,39.36 L569.06,40 L568.6,40.55 L568.26,41.01 L568.02,41.74 L567.95,42.48 L567.82,43.13 L567.55,43.66 L567.15,44.01 L566.46,44.13 L565.71,43.82 L565.12,43.24 L564.68,42.78 L564.36,42.55 L563.81,42.09 L563.21,41.55 L562.8,41.18 L562.55,40.96 L562.22,40.74 L561.68,40.41 L560.98,40.01 L560.17,39.68 L559.33,39.69 L558.61,40.13 L558.18,40.62 L557.76,41.08 L557.26,41.42 L556.65,41.68 L556,41.93 L555.39,42.23 L554.81,42.56 L554.27,42.96 L553.82,43.45 L553.4,44.09 L552.93,44.71 L552.31,45.07 L551.54,45.08 L550.73,44.91 L550,44.78 L549.35,44.76 L548.77,44.81 L548.17,44.91 L547.53,45.08 L546.84,45.26 L546.13,45.29 L545.49,45.03 L544.93,44.56 L544.39,44.1 L543.81,43.84 L543.18,43.75 L542.51,43.68 L541.86,43.53 L541.25,43.27 L540.7,42.92 L540.28,42.45 L540.01,41.84 L539.86,41.12 L539.67,40.41 L539.31,39.86 L538.68,39.52 L537.94,39.41 L537.22,39.33 L536.56,39.15 L535.97,38.88 L535.45,38.5 L535.04,38.01 L534.79,37.44 L534.6,36.85 L534.32,36.32 L533.85,35.83 L533.3,35.32 L532.88,34.71 L532.75,34.02 L532.88,33.3 L533.13,32.6 L533.41,32.01 L533.72,31.44 L533.97,30.86 L534.04,30.24 L533.88,29.56 L533.61,28.84 L533.46,28.15 L533.55,27.54 L533.79,26.97 L534.05,26.33 L534.18,25.64 L534.19,24.95 L534.12,24.28 L533.98,23.63 L533.85,22.95 L533.89,22.24 Z" fill="none" stroke="#c2b62c" stroke-width="0.9" stroke-linejoin="round"/>
<path d="M536.84,38.44 L541.36,35.73 M537.86,41.26 L542.77,38.7 M538.86,44.09 L543.99,41.47 M539.79,46.94 L545.13,44.2 M540.57,49.84 L546.2,46.87 M541.36,52.73 L547.26,49.44 M542.32,55.57 L548.45,52.05 M543.56,58.3 L549.86,54.77 M544.97,60.95 L551.4,57.72 M546.41,63.58 L552.62,59.96 M547.9,66.19 L553.88,62.06 M549.52,68.71 L555.37,64.22 M551.35,71.09 L557.02,66.31 M553.35,73.32 L558.74,68.24 M555.46,75.45 L560.59,70.12 M557.68,77.48 L562.41,71.76 M559.99,79.38 L564.48,73.43 M562.41,81.16 L566.47,74.87 M564.91,82.82 L568.62,76.24 M567.46,84.4 L571.02,77.64 M570.06,85.89 L573.56,79.02 M572.73,87.27 L576.18,80.36 M575.46,88.5 L579.03,81.75 M578.25,89.62 L581.84,83.09 M580.96,90.89 L584.56,84.5 M583.57,92.37 L587.24,86.03" stroke="#e0391f" stroke-width="1.35" fill="none"/>
<path d="M545.85,35.22 L541.09,37.81 M547.31,38.02 L542.3,40.62 M548.73,40.85 L543.47,43.46 M549.92,43.2 L544.47,46.11 M551.26,45.7 L545.49,48.83 M552.52,47.97 L546.52,51.44 M554.11,50.77 L547.84,54.23 M555.78,53.87 L549.33,57.1 M557.01,56.26 L550.67,59.62 M558.02,57.97 L551.93,61.84 M559.17,59.64 L553.3,64.02 M560.63,61.53 L554.91,66.23 M562.32,63.52 L556.73,68.39 M563.87,65.19 L558.57,70.35 M565.37,66.61 L560.44,72.14 M567.06,68.03 L562.45,73.86 M568.83,69.36 L564.55,75.48 M570.69,70.56 L566.75,76.97 M572.7,71.72 L569.05,78.38 M575.13,73.03 L571.56,79.82 M577.49,74.22 L574.07,81.15 M580.47,75.75 L576.89,82.56 M583.14,77.15 L579.62,83.82 M586,78.7 L582.43,85.15 M588.9,80.34 L585.19,86.66 M591.4,81.78 L587.74,88.14" stroke="#4b92d2" stroke-width="1.35" fill="none"/>
<path d="M584.84,93.03 L588.08,88.59 M587.03,95.27 L591.46,92.02 M588.4,97.8 L593.52,95.8 M589.18,100.59 L594.6,99.65 M589.41,103.24 L594.91,103.19 M589.12,106.23 L594.52,107.27 M588.51,109.07 L593.89,110.21 M588.04,111.93 L593.51,112.43 M588.16,115 L593.6,114.24 M588.77,117.79 L594.03,116.19 M589.8,120.36 L594.69,117.84 M591.43,122.81 L595.64,119.27 M593.55,124.85 L596.97,120.54 M595.98,126.53 L598.86,121.84 M598.42,127.84 L600.76,122.86" stroke="#e0391f" stroke-width="1.4" fill="none"/>
<path d="M580,90.4 L580.15,90.48 L580.33,90.57 L580.53,90.67 L580.76,90.79 L581,90.91 L581.27,91.04 L581.55,91.17 L581.84,91.32 L582.15,91.47 L582.46,91.63 L582.77,91.79 L583.08,91.96 L583.4,92.13 L583.7,92.3 L584.01,92.48 L584.3,92.66 L584.57,92.85 L584.84,93.03 L585.08,93.21 L585.3,93.4 L585.54,93.62 L585.78,93.84 L586.01,94.07 L586.23,94.3 L586.44,94.54 L586.64,94.78 L586.84,95.02 L587.03,95.27 L587.21,95.53 L587.38,95.79 L587.55,96.06 L587.71,96.33 L587.86,96.61 L588.01,96.9 L588.14,97.19 L588.28,97.49 L588.4,97.8 L588.5,98.07 L588.6,98.33 L588.69,98.6 L588.77,98.87 L588.85,99.15 L588.93,99.43 L589,99.71 L589.07,100 L589.13,100.29 L589.18,100.59 L589.23,100.89 L589.27,101.2 L589.31,101.52 L589.34,101.85 L589.37,102.18 L589.39,102.53 L589.4,102.88 L589.41,103.24 L589.41,103.62 L589.4,104 L589.39,104.26 L589.37,104.52 L589.34,104.79 L589.31,105.07 L589.27,105.35 L589.22,105.64 L589.17,105.93 L589.12,106.23 L589.06,106.54 L588.99,106.84 L588.93,107.16 L588.86,107.47 L588.79,107.79 L588.72,108.11 L588.65,108.43 L588.58,108.75 L588.51,109.07 L588.44,109.39 L588.38,109.72 L588.31,110.04 L588.25,110.36 L588.2,110.68 L588.15,110.99 L588.11,111.31 L588.07,111.62 L588.04,111.93 L588.01,112.23 L588,112.53 L587.99,112.83 L587.99,113.12 L588,113.4 L588.02,113.72 L588.05,114.04 L588.08,114.36 L588.12,114.68 L588.16,115 L588.2,115.32 L588.26,115.64 L588.31,115.95 L588.38,116.26 L588.45,116.57 L588.52,116.88 L588.6,117.19 L588.68,117.49 L588.77,117.79 L588.86,118.09 L588.96,118.39 L589.07,118.68 L589.18,118.97 L589.29,119.26 L589.41,119.54 L589.54,119.82 L589.67,120.09 L589.8,120.36 L589.95,120.63 L590.09,120.89 L590.24,121.15 L590.4,121.4 L590.56,121.65 L590.73,121.89 L590.9,122.13 L591.07,122.36 L591.25,122.58 L591.43,122.81 L591.62,123.03 L591.81,123.24 L592.01,123.45 L592.21,123.66 L592.42,123.86 L592.64,124.07 L592.86,124.26 L593.08,124.46 L593.31,124.65 L593.55,124.85 L593.79,125.04 L594.04,125.23 L594.3,125.41 L594.56,125.6 L594.83,125.79 L595.11,125.97 L595.39,126.16 L595.68,126.34 L595.98,126.53 L596.29,126.71 L596.6,126.9 L596.83,127.03 L597.06,127.16 L597.31,127.3 L597.58,127.43 L597.85,127.57 L598.13,127.7 L598.42,127.84 L598.71,127.98 L599.02,128.12 L599.33,128.26 L599.64,128.39 L599.96,128.53 L600.29,128.67 L600.62,128.81 L600.95,128.94 L601.28,129.08 L601.61,129.21 L601.94,129.35 L602.27,129.48 L602.6,129.61 L602.93,129.74 L603.25,129.86 L603.57,129.99 L603.89,130.11 L604.2,130.23 L604.5,130.34 L604.8,130.45 L605.08,130.56 L605.36,130.67 L605.63,130.77 L605.89,130.87 L606.14,130.96 L606.38,131.05 L606.6,131.14 L606.81,131.22 L607.01,131.3 L607.19,131.37 L607.35,131.44 L607.5,131.5" stroke="#e0391f" stroke-width="2.8" fill="none" stroke-linecap="round"/>
<path d="M536.5,37.5 L536.55,37.65 L536.61,37.82 L536.68,38 L536.75,38.2 L536.83,38.42 L536.91,38.65 L537,38.89 L537.1,39.14 L537.19,39.41 L537.29,39.69 L537.4,39.97 L537.5,40.26 L537.61,40.57 L537.72,40.87 L537.84,41.19 L537.95,41.51 L538.07,41.83 L538.18,42.16 L538.3,42.48 L538.42,42.81 L538.53,43.15 L538.65,43.48 L538.76,43.8 L538.88,44.13 L538.99,44.46 L539.1,44.78 L539.2,45.09 L539.31,45.4 L539.4,45.7 L539.5,46 L539.59,46.28 L539.68,46.57 L539.76,46.86 L539.85,47.15 L539.93,47.44 L540.01,47.74 L540.1,48.04 L540.18,48.33 L540.26,48.63 L540.34,48.93 L540.42,49.23 L540.49,49.53 L540.57,49.84 L540.65,50.14 L540.73,50.44 L540.81,50.74 L540.89,51.04 L540.97,51.33 L541.05,51.63 L541.13,51.93 L541.21,52.22 L541.29,52.51 L541.37,52.8 L541.46,53.09 L541.55,53.37 L541.63,53.65 L541.72,53.93 L541.81,54.2 L541.91,54.47 L542,54.74 L542.1,55 L542.22,55.31 L542.34,55.61 L542.46,55.91 L542.58,56.2 L542.71,56.49 L542.83,56.77 L542.96,57.05 L543.09,57.33 L543.22,57.6 L543.35,57.87 L543.48,58.14 L543.62,58.41 L543.75,58.67 L543.89,58.94 L544.02,59.2 L544.16,59.46 L544.3,59.72 L544.44,59.99 L544.58,60.25 L544.73,60.51 L544.87,60.77 L545.01,61.03 L545.16,61.3 L545.31,61.56 L545.45,61.83 L545.6,62.1 L545.74,62.36 L545.89,62.62 L546.03,62.89 L546.18,63.15 L546.32,63.42 L546.47,63.69 L546.62,63.95 L546.77,64.22 L546.92,64.49 L547.07,64.76 L547.22,65.02 L547.37,65.29 L547.53,65.55 L547.68,65.82 L547.84,66.08 L548,66.35 L548.16,66.61 L548.31,66.87 L548.48,67.12 L548.64,67.38 L548.8,67.63 L548.96,67.89 L549.13,68.13 L549.29,68.38 L549.46,68.62 L549.63,68.86 L549.8,69.1 L549.98,69.35 L550.17,69.6 L550.36,69.85 L550.55,70.09 L550.74,70.34 L550.93,70.58 L551.13,70.81 L551.32,71.05 L551.52,71.28 L551.71,71.51 L551.91,71.74 L552.11,71.97 L552.31,72.19 L552.52,72.42 L552.72,72.64 L552.92,72.86 L553.13,73.08 L553.33,73.3 L553.54,73.52 L553.75,73.73 L553.96,73.95 L554.17,74.16 L554.38,74.37 L554.59,74.59 L554.8,74.8 L555.02,75.02 L555.24,75.24 L555.47,75.45 L555.69,75.67 L555.91,75.88 L556.14,76.1 L556.37,76.31 L556.59,76.51 L556.82,76.72 L557.05,76.93 L557.28,77.13 L557.51,77.34 L557.75,77.54 L557.98,77.74 L558.22,77.94 L558.45,78.14 L558.69,78.34 L558.93,78.54 L559.17,78.73 L559.41,78.93 L559.66,79.12 L559.9,79.32 L560.15,79.51 L560.4,79.7 L560.64,79.88 L560.88,80.07 L561.13,80.25 L561.38,80.43 L561.63,80.61 L561.88,80.79 L562.13,80.97 L562.39,81.15 L562.65,81.33 L562.9,81.5 L563.16,81.68 L563.42,81.85 L563.68,82.02 L563.94,82.2 L564.2,82.37 L564.46,82.54 L564.72,82.7 L564.99,82.87 L565.25,83.04 L565.51,83.2 L565.77,83.36 L566.03,83.52 L566.29,83.68 L566.54,83.84 L566.8,84 L567.07,84.16 L567.33,84.32 L567.6,84.48 L567.86,84.64 L568.13,84.79 L568.39,84.95 L568.65,85.1 L568.92,85.25 L569.18,85.4 L569.45,85.55 L569.71,85.69 L569.98,85.84 L570.24,85.98 L570.5,86.12 L570.77,86.27 L571.04,86.41 L571.3,86.55 L571.57,86.69 L571.84,86.82 L572.11,86.96 L572.38,87.1 L572.65,87.23 L572.93,87.37 L573.2,87.5 L573.48,87.63 L573.76,87.76 L574.04,87.89 L574.33,88.02 L574.62,88.14 L574.91,88.26 L575.2,88.39 L575.49,88.51 L575.79,88.63 L576.08,88.75 L576.38,88.86 L576.67,88.98 L576.96,89.1 L577.25,89.21 L577.54,89.33 L577.83,89.45 L578.11,89.56 L578.4,89.68 L578.67,89.8 L578.95,89.92 L579.22,90.04 L579.48,90.16 L579.75,90.28 L580,90.4 L580.3,90.55 L580.6,90.69 L580.9,90.83 L581.19,90.97 L581.48,91.11 L581.77,91.25 L582.05,91.39 L582.33,91.53 L582.61,91.67 L582.88,91.81 L583.15,91.95 L583.41,92.09 L583.67,92.24 L583.92,92.39 L584.16,92.55 L584.4,92.71 L584.64,92.87 L584.87,93.04 L585.09,93.22 L585.3,93.4 L585.54,93.62 L585.78,93.84 L586.01,94.07 L586.23,94.3 L586.44,94.54 L586.64,94.78 L586.84,95.02 L587.03,95.27 L587.21,95.53 L587.38,95.79 L587.55,96.06 L587.71,96.33 L587.86,96.61 L588.01,96.9 L588.14,97.19 L588.28,97.49 L588.4,97.8 L588.5,98.07 L588.6,98.33 L588.69,98.6 L588.77,98.87 L588.85,99.15 L588.93,99.43 L589,99.71 L589.07,100 L589.13,100.29 L589.18,100.59 L589.23,100.89 L589.27,101.2 L589.31,101.52 L589.34,101.85 L589.37,102.18 L589.39,102.53 L589.4,102.88 L589.41,103.24 L589.41,103.62 L589.4,104 L589.39,104.26 L589.37,104.52 L589.34,104.79 L589.31,105.07 L589.27,105.35 L589.22,105.64 L589.17,105.93 L589.12,106.23 L589.06,106.54 L588.99,106.84 L588.93,107.16 L588.86,107.47 L588.79,107.79 L588.72,108.11 L588.65,108.43 L588.58,108.75 L588.51,109.07 L588.44,109.39 L588.38,109.72 L588.31,110.04 L588.25,110.36 L588.2,110.68 L588.15,110.99 L588.11,111.31 L588.07,111.62 L588.04,111.93 L588.01,112.23 L588,112.53 L587.99,112.83 L587.99,113.12 L588,113.4 L588.02,113.72 L588.05,114.04 L588.08,114.36 L588.12,114.68 L588.16,115 L588.2,115.32 L588.26,115.64 L588.31,115.95 L588.38,116.26 L588.45,116.57 L588.52,116.88 L588.6,117.19 L588.68,117.49 L588.77,117.79 L588.86,118.09 L588.96,118.39 L589.07,118.68 L589.18,118.97 L589.29,119.26 L589.41,119.54 L589.54,119.82 L589.67,120.09 L589.8,120.36 L589.95,120.63 L590.09,120.89 L590.24,121.15 L590.4,121.4 L590.56,121.65 L590.73,121.89 L590.9,122.13 L591.07,122.36 L591.25,122.58 L591.43,122.81 L591.62,123.03 L591.81,123.24 L592.01,123.45 L592.21,123.66 L592.42,123.86 L592.64,124.07 L592.86,124.26 L593.08,124.46 L593.31,124.65 L593.55,124.85 L593.79,125.04 L594.04,125.23 L594.3,125.41 L594.56,125.6 L594.83,125.79 L595.11,125.97 L595.39,126.16 L595.68,126.34 L595.98,126.53 L596.29,126.71 L596.6,126.9 L596.83,127.03 L597.06,127.16 L597.31,127.3 L597.58,127.43 L597.85,127.57 L598.13,127.7 L598.42,127.84 L598.71,127.98 L599.02,128.12 L599.33,128.26 L599.64,128.39 L599.96,128.53 L600.29,128.67 L600.62,128.81 L600.95,128.94 L601.28,129.08 L601.61,129.21 L601.94,129.35 L602.27,129.48 L602.6,129.61 L602.93,129.74 L603.25,129.86 L603.57,129.99 L603.89,130.11 L604.2,130.23 L604.5,130.34 L604.8,130.45 L605.08,130.56 L605.36,130.67 L605.63,130.77 L605.89,130.87 L606.14,130.96 L606.38,131.05 L606.6,131.14 L606.81,131.22 L607.01,131.3 L607.19,131.37 L607.35,131.44 L607.5,131.5" stroke="#e0391f" stroke-width="2.8" fill="none" stroke-linecap="round"/>
<path d="M542.6,29.8 L542.68,29.94 L542.78,30.09 L542.88,30.26 L543,30.45 L543.12,30.65 L543.25,30.86 L543.39,31.09 L543.54,31.32 L543.69,31.57 L543.85,31.83 L544.02,32.1 L544.19,32.38 L544.36,32.66 L544.54,32.96 L544.72,33.26 L544.9,33.57 L545.08,33.88 L545.27,34.2 L545.45,34.52 L545.64,34.84 L545.82,35.17 L546,35.5 L546.12,35.73 L546.25,35.97 L546.38,36.21 L546.51,36.46 L546.64,36.71 L546.78,36.97 L546.91,37.24 L547.05,37.51 L547.19,37.78 L547.33,38.06 L547.47,38.34 L547.62,38.62 L547.76,38.91 L547.9,39.19 L548.05,39.48 L548.19,39.77 L548.34,40.07 L548.49,40.36 L548.63,40.65 L548.78,40.94 L548.93,41.24 L549.07,41.53 L549.22,41.82 L549.36,42.1 L549.51,42.39 L549.65,42.67 L549.8,42.95 L549.94,43.23 L550.08,43.51 L550.22,43.77 L550.36,44.04 L550.5,44.3 L550.65,44.58 L550.8,44.87 L550.96,45.15 L551.11,45.43 L551.26,45.71 L551.42,45.99 L551.57,46.26 L551.72,46.54 L551.88,46.81 L552.03,47.09 L552.18,47.36 L552.33,47.63 L552.49,47.9 L552.64,48.17 L552.79,48.43 L552.94,48.7 L553.09,48.96 L553.24,49.22 L553.38,49.48 L553.53,49.74 L553.68,50 L553.82,50.26 L553.97,50.51 L554.11,50.76 L554.25,51.01 L554.39,51.26 L554.53,51.51 L554.66,51.76 L554.8,52 L554.96,52.29 L555.11,52.58 L555.27,52.86 L555.41,53.14 L555.56,53.42 L555.7,53.7 L555.83,53.97 L555.97,54.24 L556.11,54.5 L556.24,54.77 L556.37,55.03 L556.51,55.29 L556.64,55.55 L556.78,55.81 L556.91,56.07 L557.05,56.33 L557.19,56.59 L557.34,56.84 L557.49,57.1 L557.64,57.36 L557.8,57.62 L557.96,57.88 L558.13,58.14 L558.3,58.4 L558.47,58.64 L558.64,58.89 L558.81,59.14 L558.99,59.38 L559.17,59.63 L559.35,59.88 L559.54,60.13 L559.73,60.38 L559.92,60.64 L560.12,60.89 L560.31,61.14 L560.51,61.38 L560.71,61.63 L560.91,61.88 L561.11,62.12 L561.32,62.36 L561.52,62.6 L561.72,62.84 L561.92,63.07 L562.12,63.3 L562.32,63.53 L562.52,63.75 L562.72,63.97 L562.91,64.19 L563.11,64.4 L563.3,64.6 L563.54,64.85 L563.77,65.09 L564,65.32 L564.24,65.56 L564.47,65.78 L564.7,66 L564.94,66.22 L565.17,66.43 L565.4,66.64 L565.63,66.84 L565.87,67.04 L566.1,67.24 L566.33,67.43 L566.56,67.63 L566.8,67.81 L567.03,68 L567.26,68.18 L567.5,68.37 L567.73,68.55 L567.96,68.72 L568.2,68.9 L568.46,69.09 L568.71,69.27 L568.96,69.45 L569.21,69.62 L569.46,69.79 L569.71,69.95 L569.96,70.11 L570.21,70.27 L570.46,70.42 L570.71,70.58 L570.96,70.73 L571.22,70.88 L571.48,71.03 L571.75,71.19 L572.03,71.34 L572.31,71.5 L572.6,71.66 L572.89,71.83 L573.2,72 L573.44,72.13 L573.69,72.27 L573.94,72.4 L574.19,72.54 L574.46,72.68 L574.72,72.82 L575,72.96 L575.27,73.1 L575.55,73.24 L575.83,73.39 L576.11,73.53 L576.4,73.67 L576.68,73.82 L576.97,73.96 L577.25,74.1 L577.54,74.25 L577.82,74.39 L578.1,74.53 L578.38,74.67 L578.66,74.81 L578.94,74.95 L579.21,75.09 L579.48,75.23 L579.74,75.37 L580,75.5 L580.29,75.65 L580.57,75.8 L580.86,75.95 L581.14,76.09 L581.41,76.24 L581.69,76.38 L581.96,76.53 L582.23,76.67 L582.5,76.81 L582.76,76.95 L583.03,77.09 L583.3,77.24 L583.56,77.38 L583.83,77.52 L584.1,77.66 L584.36,77.81 L584.63,77.95 L584.9,78.1 L585.17,78.25 L585.45,78.4 L585.72,78.55 L586,78.7 L586.26,78.85 L586.53,79 L586.82,79.16 L587.11,79.32 L587.4,79.49 L587.7,79.66 L588.01,79.83 L588.31,80 L588.62,80.18 L588.92,80.35 L589.23,80.53 L589.52,80.7 L589.82,80.87 L590.11,81.03 L590.39,81.2 L590.66,81.35 L590.91,81.5 L591.16,81.64 L591.39,81.78 L591.61,81.9 L591.81,82.02 L591.99,82.12 L592.16,82.22 L592.3,82.3" stroke="#4b92d2" stroke-width="2.2" fill="none" stroke-linecap="round"/>
<line x1="592.3" y1="82.3" x2="588.6" y2="88.6" stroke="#4b92d2" stroke-width="1.6"/>
<circle cx="540.6" cy="25.8" r="5.6" fill="#3d72c2" stroke="#2d5aa0" stroke-width="0.6"/>
<text x="537.8" y="29.2" font-size="9" fill="#111" transform="rotate(-20 540.6 25.8)">P</text>
<line x1="560.9" y1="12.8" x2="561.4" y2="16.2" stroke="#2b2b8c" stroke-width="1.4"/>
<circle cx="557.6" cy="6.4" r="6.9" fill="#d92121"/>
<line x1="608.4" y1="52.7" x2="603.6" y2="55.6" stroke="#2b2b8c" stroke-width="1.4"/>
<circle cx="612.9" cy="49.1" r="6.7" fill="#00a196"/>
<g transform="rotate(-5 610.9 139)">
<polygon points="610.9,132.4 612.65,136.6 617.18,136.96 613.72,139.92 614.78,144.34 610.9,141.97 607.02,144.34 608.08,139.92 604.62,136.96 609.15,136.6" fill="#fff" stroke="#777" stroke-width="0.8" stroke-linejoin="round"/>
<ellipse cx="608.3" cy="134.4" rx="3.4" ry="1.15" fill="#3a3a3a"/>
<ellipse cx="611.5" cy="144" rx="3.6" ry="1.15" fill="#3a3a3a"/>
</g>
<polyline points="611.8,144.6 612.3,152 612.5,159.5 610.2,164.3" fill="none" stroke="#888" stroke-width="1"/>
<polygon points="602.1,161.1 622.8,161.1 617.3,169.1 596.6,169.1" fill="none" stroke="#9a9a9a" stroke-width="1"/>
<text x="511.9" y="105.8" font-size="12" font-weight="normal" text-anchor="middle" fill="#222" >ternary</text>
<text x="511.9" y="119.9" font-size="12" font-weight="normal" text-anchor="middle" fill="#222" >complex</text>
<text transform="translate(2,28) scale(1,1.08)" font-size="15.5" font-weight="bold" fill="#111">A</text>
<text transform="translate(223.8,27.9) scale(1,1.08)" font-size="15.5" font-weight="bold" fill="#111">B</text>
<text transform="translate(453.6,28.3) scale(1,1.08)" font-size="15.5" font-weight="bold" fill="#111">C</text>
<text transform="translate(2.4,373.5) scale(1,1.08)" font-size="15.5" font-weight="bold" fill="#111">D</text>
<text transform="translate(224,373.5) scale(1,1.08)" font-size="15.5" font-weight="bold" fill="#111">E</text>
<text transform="translate(454.2,369.2) scale(1,1.08)" font-size="15.5" font-weight="bold" fill="#111">F</text>
</svg>
</body></html>
